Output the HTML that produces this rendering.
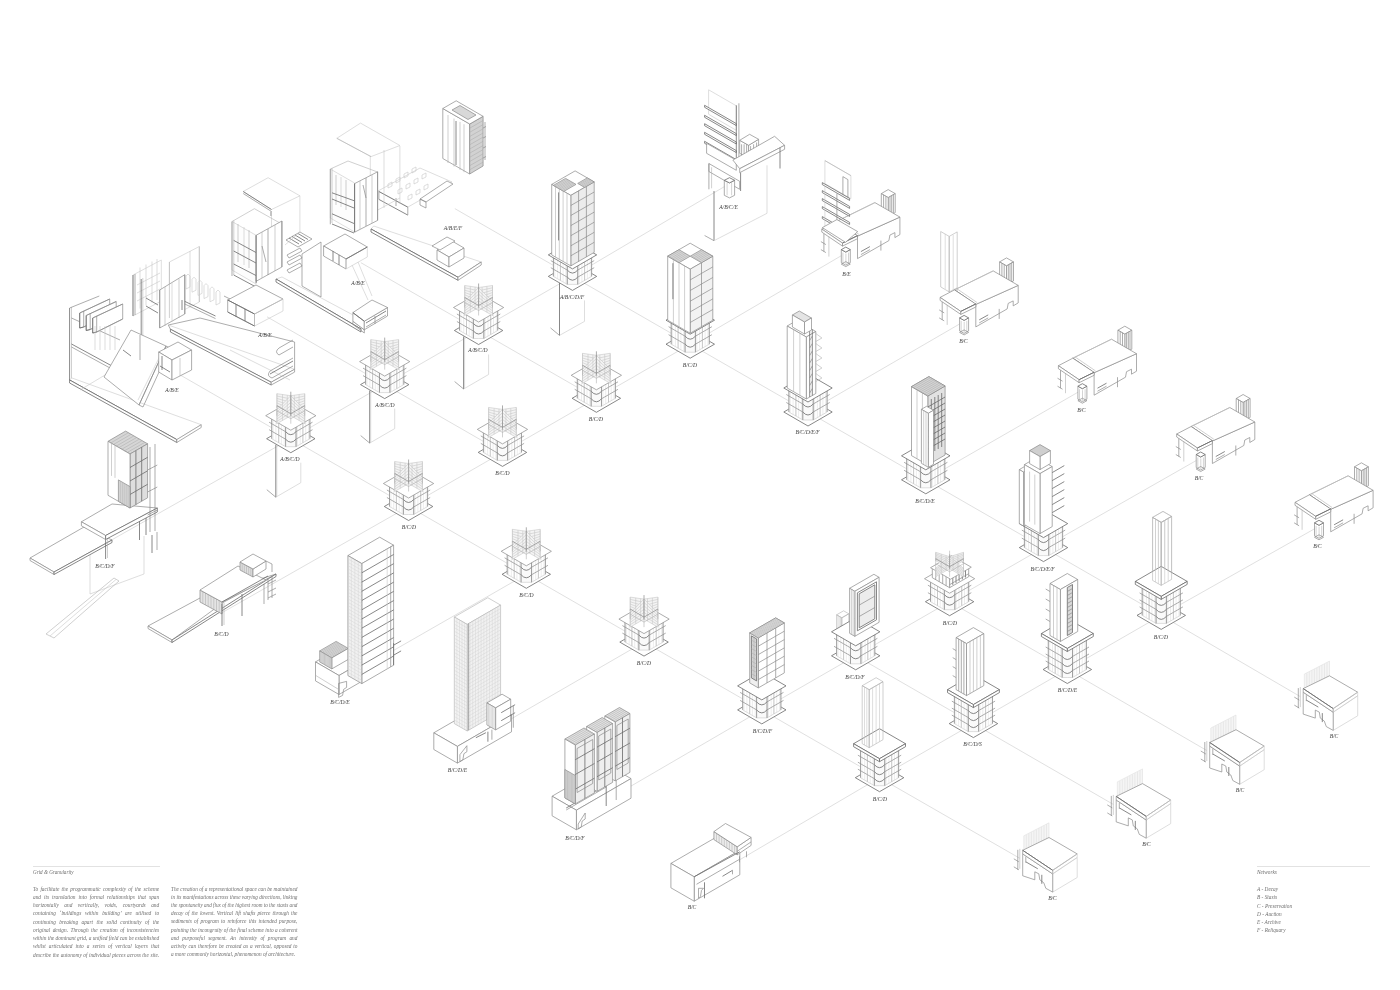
<!DOCTYPE html>
<html><head><meta charset="utf-8"><style>
html,body{margin:0;padding:0;background:#fff;width:1400px;height:990px;overflow:hidden;position:relative}
svg{position:absolute;left:0;top:0;filter:blur(0.35px)}
.g{stroke:#dcdcdc;stroke-width:0.9;fill:none}
.b{stroke:#8a8a8a;stroke-width:0.7;fill:#fff;stroke-linejoin:round}
.d{stroke:#6a6a6a;stroke-width:0.8;fill:#fff;stroke-linejoin:round}
.l{stroke:#b0b0b0;stroke-width:0.6;fill:none}
.ln{stroke:#8a8a8a;stroke-width:0.7;fill:none}
.lt{stroke:#c8c8c8;stroke-width:0.6;fill:none}
.lt2{stroke:#dadada;stroke-width:0.5;fill:none}
.hl{stroke:#d2d2d2;stroke-width:0.45;fill:none}
.wg{stroke:#c8c8c8;stroke-width:0.6;fill:#f4f4f4}
.h{stroke:#a8a8a8;stroke-width:0.5;fill:none}
.lb{font-family:"Liberation Serif",serif;font-style:italic;font-size:5.6px;fill:#3a3a3a;text-anchor:middle}
.t{position:absolute;filter:blur(0.25px);font-family:"Liberation Serif",serif;font-style:italic;line-height:7px;color:#6e6e6e;white-space:nowrap}
.rule{position:absolute;height:0;border-top:0.6px solid #e2e2e2}
</style></head><body>
<svg width="1400" height="990" viewBox="0 0 1400 990">
<line class="g" x1="454.8" y1="208.6" x2="572.5" y2="276.4"/>
<line class="g" x1="572.5" y1="276.4" x2="690.2" y2="344.2"/>
<line class="g" x1="690.2" y1="344.2" x2="808.0" y2="412.0"/>
<line class="g" x1="808.0" y1="412.0" x2="925.8" y2="479.8"/>
<line class="g" x1="925.8" y1="479.8" x2="1043.5" y2="547.6"/>
<line class="g" x1="1043.5" y1="547.6" x2="1161.2" y2="615.4"/>
<line class="g" x1="360.9" y1="262.7" x2="478.6" y2="330.5"/>
<line class="g" x1="267.0" y1="316.8" x2="384.7" y2="384.6"/>
<line class="g" x1="478.6" y1="330.5" x2="596.4" y2="398.3"/>
<line class="g" x1="384.7" y1="384.6" x2="502.5" y2="452.4"/>
<line class="g" x1="949.6" y1="601.7" x2="1067.3" y2="669.5"/>
<line class="g" x1="855.7" y1="655.8" x2="973.4" y2="723.6"/>
<line class="g" x1="173.1" y1="370.9" x2="290.8" y2="438.7"/>
<line class="g" x1="290.8" y1="438.7" x2="408.6" y2="506.5"/>
<line class="g" x1="408.6" y1="506.5" x2="526.3" y2="574.3"/>
<line class="g" x1="526.3" y1="574.3" x2="644.0" y2="642.1"/>
<line class="g" x1="644.0" y1="642.1" x2="761.8" y2="709.9"/>
<line class="g" x1="761.8" y1="709.9" x2="879.5" y2="777.7"/>
<line class="g" x1="879.5" y1="777.7" x2="1019.8" y2="858.3"/>
<line class="g" x1="973.4" y1="723.6" x2="1113.3" y2="804.4"/>
<line class="g" x1="1067.3" y1="669.5" x2="1206.8" y2="750.5"/>
<line class="g" x1="1161.2" y1="615.4" x2="1300.3" y2="696.6"/>
<line class="g" x1="103.0" y1="544.8" x2="290.8" y2="438.7"/>
<line class="g" x1="221.3" y1="613.1" x2="408.6" y2="506.5"/>
<line class="g" x1="339.6" y1="681.4" x2="526.3" y2="574.3"/>
<line class="g" x1="457.9" y1="749.7" x2="644.0" y2="642.1"/>
<line class="g" x1="576.2" y1="818.0" x2="761.8" y2="709.9"/>
<line class="g" x1="694.5" y1="886.3" x2="879.5" y2="777.7"/>
<line class="g" x1="290.8" y1="438.7" x2="572.5" y2="276.4"/>
<line class="g" x1="408.6" y1="506.5" x2="690.2" y2="344.2"/>
<line class="g" x1="761.8" y1="709.9" x2="1043.5" y2="547.6"/>
<line class="g" x1="879.5" y1="777.7" x2="1161.2" y2="615.4"/>
<line class="g" x1="572.5" y1="276.4" x2="726.6" y2="185.3"/>
<line class="g" x1="690.2" y1="344.2" x2="844.9" y2="253.6"/>
<line class="g" x1="808.0" y1="412.0" x2="963.2" y2="321.9"/>
<line class="g" x1="925.8" y1="479.8" x2="1081.5" y2="390.2"/>
<line class="g" x1="1043.5" y1="547.6" x2="1199.8" y2="458.5"/>
<line class="g" x1="1161.2" y1="615.4" x2="1318.1" y2="526.8"/>
<line class="lt" x1="300.8" y1="462.7" x2="300.8" y2="482.7"/>
<line class="lt" x1="300.8" y1="482.7" x2="275.8" y2="497.2"/>
<line class="d" x1="275.8" y1="444.7" x2="275.8" y2="497.2"/>
<line class="lt" x1="276.8" y1="444.7" x2="276.8" y2="496.2"/>
<line class="ln" x1="266.8" y1="489.7" x2="275.8" y2="497.2"/>
<polygon class="d" points="266.6,438.7 290.8,452.7 315.0,438.7 290.8,424.7"/>
<polygon class="lt" style="fill:#fff" points="271.7,438.7 285.6,446.7 285.6,423.7 271.7,415.7"/>
<polygon class="lt" style="fill:#fff" points="296.0,446.7 309.9,438.7 309.9,415.7 296.0,423.7"/>
<polygon class="lt" style="fill:#fafafa" points="285.6,446.7 290.8,446.7 296.0,446.7 296.0,423.7 290.8,423.7 285.6,423.7"/>
<line class="lt2" x1="273.1" y1="439.5" x2="273.1" y2="416.5"/>
<line class="lt2" x1="275.9" y1="441.1" x2="275.9" y2="418.1"/>
<line class="lt2" x1="278.7" y1="442.7" x2="278.7" y2="419.7"/>
<line class="lt2" x1="281.4" y1="444.3" x2="281.4" y2="421.3"/>
<line class="lt2" x1="284.2" y1="445.9" x2="284.2" y2="422.9"/>
<line class="lt2" x1="297.4" y1="445.9" x2="297.4" y2="422.9"/>
<line class="lt2" x1="300.2" y1="444.3" x2="300.2" y2="421.3"/>
<line class="lt2" x1="302.9" y1="442.7" x2="302.9" y2="419.7"/>
<line class="lt2" x1="305.7" y1="441.1" x2="305.7" y2="418.1"/>
<line class="lt2" x1="308.5" y1="439.5" x2="308.5" y2="416.5"/>
<line class="ln" x1="269.1" y1="429.7" x2="285.6" y2="439.2"/>
<line class="ln" x1="296.0" y1="439.2" x2="312.5" y2="429.7"/>
<path class="d" style="fill:none" d="M285.6,439.2 Q290.8,445.2 296.0,439.2"/>
<line class="ln" x1="269.1" y1="422.2" x2="285.6" y2="431.7"/>
<line class="ln" x1="296.0" y1="431.7" x2="312.5" y2="422.2"/>
<path class="d" style="fill:none" d="M285.6,431.7 Q290.8,437.7 296.0,431.7"/>
<line class="ln" x1="271.7" y1="438.7" x2="271.7" y2="415.7"/>
<line class="ln" x1="309.9" y1="438.7" x2="309.9" y2="415.7"/>
<line class="ln" x1="285.6" y1="446.7" x2="285.6" y2="423.7"/>
<line class="ln" x1="296.0" y1="446.7" x2="296.0" y2="423.7"/>
<line class="l" x1="278.7" y1="442.7" x2="278.7" y2="419.7"/>
<line class="l" x1="302.9" y1="442.7" x2="302.9" y2="419.7"/>
<polygon class="b" points="265.7,415.7 290.8,430.2 315.9,415.7 290.8,401.2"/>
<polygon class="wg" points="276.9,407.7 290.8,415.7 290.8,395.7 276.9,393.7"/>
<line class="lt" x1="276.9" y1="405.4" x2="290.8" y2="412.4"/>
<line class="lt" x1="276.9" y1="403.0" x2="290.8" y2="409.0"/>
<line class="lt" x1="276.9" y1="400.7" x2="290.8" y2="405.7"/>
<line class="lt" x1="276.9" y1="398.4" x2="290.8" y2="402.4"/>
<line class="lt" x1="276.9" y1="396.0" x2="290.8" y2="399.0"/>
<line class="lt" x1="276.9" y1="407.7" x2="276.9" y2="393.7"/>
<line class="lt" x1="282.5" y1="410.9" x2="282.5" y2="394.5"/>
<line class="lt" x1="287.3" y1="413.7" x2="287.3" y2="395.2"/>
<polygon class="wg" points="304.7,407.7 290.8,415.7 290.8,395.7 304.7,393.7"/>
<line class="lt" x1="304.7" y1="405.4" x2="290.8" y2="412.4"/>
<line class="lt" x1="304.7" y1="403.0" x2="290.8" y2="409.0"/>
<line class="lt" x1="304.7" y1="400.7" x2="290.8" y2="405.7"/>
<line class="lt" x1="304.7" y1="398.4" x2="290.8" y2="402.4"/>
<line class="lt" x1="304.7" y1="396.0" x2="290.8" y2="399.0"/>
<line class="lt" x1="304.7" y1="407.7" x2="304.7" y2="393.7"/>
<line class="lt" x1="299.1" y1="410.9" x2="299.1" y2="394.5"/>
<line class="lt" x1="294.3" y1="413.7" x2="294.3" y2="395.2"/>
<polygon class="wg" points="276.9,423.7 290.8,415.7 290.8,395.7 276.9,409.7"/>
<line class="lt" x1="276.9" y1="421.4" x2="290.8" y2="412.4"/>
<line class="lt" x1="276.9" y1="419.0" x2="290.8" y2="409.0"/>
<line class="lt" x1="276.9" y1="416.7" x2="290.8" y2="405.7"/>
<line class="lt" x1="276.9" y1="414.4" x2="290.8" y2="402.4"/>
<line class="lt" x1="276.9" y1="412.0" x2="290.8" y2="399.0"/>
<line class="lt" x1="276.9" y1="423.7" x2="276.9" y2="409.7"/>
<line class="lt" x1="282.5" y1="420.5" x2="282.5" y2="404.1"/>
<line class="lt" x1="287.3" y1="417.7" x2="287.3" y2="399.2"/>
<polygon class="wg" points="304.7,423.7 290.8,415.7 290.8,395.7 304.7,409.7"/>
<line class="lt" x1="304.7" y1="421.4" x2="290.8" y2="412.4"/>
<line class="lt" x1="304.7" y1="419.0" x2="290.8" y2="409.0"/>
<line class="lt" x1="304.7" y1="416.7" x2="290.8" y2="405.7"/>
<line class="lt" x1="304.7" y1="414.4" x2="290.8" y2="402.4"/>
<line class="lt" x1="304.7" y1="412.0" x2="290.8" y2="399.0"/>
<line class="lt" x1="304.7" y1="423.7" x2="304.7" y2="409.7"/>
<line class="lt" x1="299.1" y1="420.5" x2="299.1" y2="404.1"/>
<line class="lt" x1="294.3" y1="417.7" x2="294.3" y2="399.2"/>
<line class="ln" x1="290.8" y1="415.7" x2="290.8" y2="391.7"/>
<line class="l" x1="276.9" y1="415.7" x2="276.9" y2="405.7"/>
<line class="l" x1="290.8" y1="423.7" x2="290.8" y2="413.7"/>
<line class="l" x1="304.7" y1="415.7" x2="304.7" y2="405.7"/>
<line class="l" x1="290.8" y1="407.7" x2="290.8" y2="397.7"/>
<line class="ln" x1="276.9" y1="405.7" x2="290.8" y2="413.7"/>
<line class="ln" x1="290.8" y1="413.7" x2="304.7" y2="405.7"/>
<line class="l" x1="276.9" y1="410.7" x2="290.8" y2="418.7"/>
<line class="l" x1="290.8" y1="418.7" x2="304.7" y2="410.7"/>
<line class="lt" x1="394.7" y1="408.6" x2="394.7" y2="428.6"/>
<line class="lt" x1="394.7" y1="428.6" x2="369.7" y2="443.1"/>
<line class="d" x1="369.7" y1="390.6" x2="369.7" y2="443.1"/>
<line class="lt" x1="370.7" y1="390.6" x2="370.7" y2="442.1"/>
<line class="ln" x1="360.7" y1="435.6" x2="369.7" y2="443.1"/>
<polygon class="d" points="360.5,384.6 384.7,398.6 408.9,384.6 384.7,370.6"/>
<polygon class="lt" style="fill:#fff" points="365.6,384.6 379.5,392.6 379.5,369.6 365.6,361.6"/>
<polygon class="lt" style="fill:#fff" points="389.9,392.6 403.8,384.6 403.8,361.6 389.9,369.6"/>
<polygon class="lt" style="fill:#fafafa" points="379.5,392.6 384.7,392.6 389.9,392.6 389.9,369.6 384.7,369.6 379.5,369.6"/>
<line class="lt2" x1="367.0" y1="385.4" x2="367.0" y2="362.4"/>
<line class="lt2" x1="369.8" y1="387.0" x2="369.8" y2="364.0"/>
<line class="lt2" x1="372.6" y1="388.6" x2="372.6" y2="365.6"/>
<line class="lt2" x1="375.3" y1="390.2" x2="375.3" y2="367.2"/>
<line class="lt2" x1="378.1" y1="391.8" x2="378.1" y2="368.8"/>
<line class="lt2" x1="391.3" y1="391.8" x2="391.3" y2="368.8"/>
<line class="lt2" x1="394.1" y1="390.2" x2="394.1" y2="367.2"/>
<line class="lt2" x1="396.8" y1="388.6" x2="396.8" y2="365.6"/>
<line class="lt2" x1="399.6" y1="387.0" x2="399.6" y2="364.0"/>
<line class="lt2" x1="402.4" y1="385.4" x2="402.4" y2="362.4"/>
<line class="ln" x1="363.0" y1="375.6" x2="379.5" y2="385.1"/>
<line class="ln" x1="389.9" y1="385.1" x2="406.4" y2="375.6"/>
<path class="d" style="fill:none" d="M379.5,385.1 Q384.7,391.1 389.9,385.1"/>
<line class="ln" x1="363.0" y1="368.1" x2="379.5" y2="377.6"/>
<line class="ln" x1="389.9" y1="377.6" x2="406.4" y2="368.1"/>
<path class="d" style="fill:none" d="M379.5,377.6 Q384.7,383.6 389.9,377.6"/>
<line class="ln" x1="365.6" y1="384.6" x2="365.6" y2="361.6"/>
<line class="ln" x1="403.8" y1="384.6" x2="403.8" y2="361.6"/>
<line class="ln" x1="379.5" y1="392.6" x2="379.5" y2="369.6"/>
<line class="ln" x1="389.9" y1="392.6" x2="389.9" y2="369.6"/>
<line class="l" x1="372.6" y1="388.6" x2="372.6" y2="365.6"/>
<line class="l" x1="396.8" y1="388.6" x2="396.8" y2="365.6"/>
<polygon class="b" points="359.6,361.6 384.7,376.1 409.8,361.6 384.7,347.1"/>
<polygon class="wg" points="370.8,353.6 384.7,361.6 384.7,341.6 370.8,339.6"/>
<line class="lt" x1="370.8" y1="351.3" x2="384.7" y2="358.3"/>
<line class="lt" x1="370.8" y1="348.9" x2="384.7" y2="354.9"/>
<line class="lt" x1="370.8" y1="346.6" x2="384.7" y2="351.6"/>
<line class="lt" x1="370.8" y1="344.3" x2="384.7" y2="348.3"/>
<line class="lt" x1="370.8" y1="341.9" x2="384.7" y2="344.9"/>
<line class="lt" x1="370.8" y1="353.6" x2="370.8" y2="339.6"/>
<line class="lt" x1="376.4" y1="356.8" x2="376.4" y2="340.4"/>
<line class="lt" x1="381.2" y1="359.6" x2="381.2" y2="341.1"/>
<polygon class="wg" points="398.6,353.6 384.7,361.6 384.7,341.6 398.6,339.6"/>
<line class="lt" x1="398.6" y1="351.3" x2="384.7" y2="358.3"/>
<line class="lt" x1="398.6" y1="348.9" x2="384.7" y2="354.9"/>
<line class="lt" x1="398.6" y1="346.6" x2="384.7" y2="351.6"/>
<line class="lt" x1="398.6" y1="344.3" x2="384.7" y2="348.3"/>
<line class="lt" x1="398.6" y1="341.9" x2="384.7" y2="344.9"/>
<line class="lt" x1="398.6" y1="353.6" x2="398.6" y2="339.6"/>
<line class="lt" x1="393.0" y1="356.8" x2="393.0" y2="340.4"/>
<line class="lt" x1="388.2" y1="359.6" x2="388.2" y2="341.1"/>
<polygon class="wg" points="370.8,369.6 384.7,361.6 384.7,341.6 370.8,355.6"/>
<line class="lt" x1="370.8" y1="367.3" x2="384.7" y2="358.3"/>
<line class="lt" x1="370.8" y1="364.9" x2="384.7" y2="354.9"/>
<line class="lt" x1="370.8" y1="362.6" x2="384.7" y2="351.6"/>
<line class="lt" x1="370.8" y1="360.3" x2="384.7" y2="348.3"/>
<line class="lt" x1="370.8" y1="357.9" x2="384.7" y2="344.9"/>
<line class="lt" x1="370.8" y1="369.6" x2="370.8" y2="355.6"/>
<line class="lt" x1="376.4" y1="366.4" x2="376.4" y2="350.0"/>
<line class="lt" x1="381.2" y1="363.6" x2="381.2" y2="345.1"/>
<polygon class="wg" points="398.6,369.6 384.7,361.6 384.7,341.6 398.6,355.6"/>
<line class="lt" x1="398.6" y1="367.3" x2="384.7" y2="358.3"/>
<line class="lt" x1="398.6" y1="364.9" x2="384.7" y2="354.9"/>
<line class="lt" x1="398.6" y1="362.6" x2="384.7" y2="351.6"/>
<line class="lt" x1="398.6" y1="360.3" x2="384.7" y2="348.3"/>
<line class="lt" x1="398.6" y1="357.9" x2="384.7" y2="344.9"/>
<line class="lt" x1="398.6" y1="369.6" x2="398.6" y2="355.6"/>
<line class="lt" x1="393.0" y1="366.4" x2="393.0" y2="350.0"/>
<line class="lt" x1="388.2" y1="363.6" x2="388.2" y2="345.1"/>
<line class="ln" x1="384.7" y1="361.6" x2="384.7" y2="337.6"/>
<line class="l" x1="370.8" y1="361.6" x2="370.8" y2="351.6"/>
<line class="l" x1="384.7" y1="369.6" x2="384.7" y2="359.6"/>
<line class="l" x1="398.6" y1="361.6" x2="398.6" y2="351.6"/>
<line class="l" x1="384.7" y1="353.6" x2="384.7" y2="343.6"/>
<line class="ln" x1="370.8" y1="351.6" x2="384.7" y2="359.6"/>
<line class="ln" x1="384.7" y1="359.6" x2="398.6" y2="351.6"/>
<line class="l" x1="370.8" y1="356.6" x2="384.7" y2="364.6"/>
<line class="l" x1="384.7" y1="364.6" x2="398.6" y2="356.6"/>
<line class="lt" x1="488.6" y1="354.5" x2="488.6" y2="374.5"/>
<line class="lt" x1="488.6" y1="374.5" x2="463.6" y2="389.0"/>
<line class="d" x1="463.6" y1="336.5" x2="463.6" y2="389.0"/>
<line class="lt" x1="464.6" y1="336.5" x2="464.6" y2="388.0"/>
<line class="ln" x1="454.6" y1="381.5" x2="463.6" y2="389.0"/>
<polygon class="d" points="454.4,330.5 478.6,344.5 502.8,330.5 478.6,316.5"/>
<polygon class="lt" style="fill:#fff" points="459.5,330.5 473.4,338.5 473.4,315.5 459.5,307.5"/>
<polygon class="lt" style="fill:#fff" points="483.8,338.5 497.7,330.5 497.7,307.5 483.8,315.5"/>
<polygon class="lt" style="fill:#fafafa" points="473.4,338.5 478.6,338.5 483.8,338.5 483.8,315.5 478.6,315.5 473.4,315.5"/>
<line class="lt2" x1="460.9" y1="331.3" x2="460.9" y2="308.3"/>
<line class="lt2" x1="463.7" y1="332.9" x2="463.7" y2="309.9"/>
<line class="lt2" x1="466.5" y1="334.5" x2="466.5" y2="311.5"/>
<line class="lt2" x1="469.2" y1="336.1" x2="469.2" y2="313.1"/>
<line class="lt2" x1="472.0" y1="337.7" x2="472.0" y2="314.7"/>
<line class="lt2" x1="485.2" y1="337.7" x2="485.2" y2="314.7"/>
<line class="lt2" x1="488.0" y1="336.1" x2="488.0" y2="313.1"/>
<line class="lt2" x1="490.7" y1="334.5" x2="490.7" y2="311.5"/>
<line class="lt2" x1="493.5" y1="332.9" x2="493.5" y2="309.9"/>
<line class="lt2" x1="496.3" y1="331.3" x2="496.3" y2="308.3"/>
<line class="ln" x1="456.9" y1="321.5" x2="473.4" y2="331.0"/>
<line class="ln" x1="483.8" y1="331.0" x2="500.3" y2="321.5"/>
<path class="d" style="fill:none" d="M473.4,331.0 Q478.6,337.0 483.8,331.0"/>
<line class="ln" x1="456.9" y1="314.0" x2="473.4" y2="323.5"/>
<line class="ln" x1="483.8" y1="323.5" x2="500.3" y2="314.0"/>
<path class="d" style="fill:none" d="M473.4,323.5 Q478.6,329.5 483.8,323.5"/>
<line class="ln" x1="459.5" y1="330.5" x2="459.5" y2="307.5"/>
<line class="ln" x1="497.7" y1="330.5" x2="497.7" y2="307.5"/>
<line class="ln" x1="473.4" y1="338.5" x2="473.4" y2="315.5"/>
<line class="ln" x1="483.8" y1="338.5" x2="483.8" y2="315.5"/>
<line class="l" x1="466.5" y1="334.5" x2="466.5" y2="311.5"/>
<line class="l" x1="490.7" y1="334.5" x2="490.7" y2="311.5"/>
<polygon class="b" points="453.5,307.5 478.6,322.0 503.7,307.5 478.6,293.0"/>
<polygon class="wg" points="464.7,299.5 478.6,307.5 478.6,287.5 464.7,285.5"/>
<line class="lt" x1="464.7" y1="297.2" x2="478.6" y2="304.2"/>
<line class="lt" x1="464.7" y1="294.8" x2="478.6" y2="300.8"/>
<line class="lt" x1="464.7" y1="292.5" x2="478.6" y2="297.5"/>
<line class="lt" x1="464.7" y1="290.2" x2="478.6" y2="294.2"/>
<line class="lt" x1="464.7" y1="287.8" x2="478.6" y2="290.8"/>
<line class="lt" x1="464.7" y1="299.5" x2="464.7" y2="285.5"/>
<line class="lt" x1="470.3" y1="302.7" x2="470.3" y2="286.3"/>
<line class="lt" x1="475.1" y1="305.5" x2="475.1" y2="287.0"/>
<polygon class="wg" points="492.5,299.5 478.6,307.5 478.6,287.5 492.5,285.5"/>
<line class="lt" x1="492.5" y1="297.2" x2="478.6" y2="304.2"/>
<line class="lt" x1="492.5" y1="294.8" x2="478.6" y2="300.8"/>
<line class="lt" x1="492.5" y1="292.5" x2="478.6" y2="297.5"/>
<line class="lt" x1="492.5" y1="290.2" x2="478.6" y2="294.2"/>
<line class="lt" x1="492.5" y1="287.8" x2="478.6" y2="290.8"/>
<line class="lt" x1="492.5" y1="299.5" x2="492.5" y2="285.5"/>
<line class="lt" x1="486.9" y1="302.7" x2="486.9" y2="286.3"/>
<line class="lt" x1="482.1" y1="305.5" x2="482.1" y2="287.0"/>
<polygon class="wg" points="464.7,315.5 478.6,307.5 478.6,287.5 464.7,301.5"/>
<line class="lt" x1="464.7" y1="313.2" x2="478.6" y2="304.2"/>
<line class="lt" x1="464.7" y1="310.8" x2="478.6" y2="300.8"/>
<line class="lt" x1="464.7" y1="308.5" x2="478.6" y2="297.5"/>
<line class="lt" x1="464.7" y1="306.2" x2="478.6" y2="294.2"/>
<line class="lt" x1="464.7" y1="303.8" x2="478.6" y2="290.8"/>
<line class="lt" x1="464.7" y1="315.5" x2="464.7" y2="301.5"/>
<line class="lt" x1="470.3" y1="312.3" x2="470.3" y2="295.9"/>
<line class="lt" x1="475.1" y1="309.5" x2="475.1" y2="291.0"/>
<polygon class="wg" points="492.5,315.5 478.6,307.5 478.6,287.5 492.5,301.5"/>
<line class="lt" x1="492.5" y1="313.2" x2="478.6" y2="304.2"/>
<line class="lt" x1="492.5" y1="310.8" x2="478.6" y2="300.8"/>
<line class="lt" x1="492.5" y1="308.5" x2="478.6" y2="297.5"/>
<line class="lt" x1="492.5" y1="306.2" x2="478.6" y2="294.2"/>
<line class="lt" x1="492.5" y1="303.8" x2="478.6" y2="290.8"/>
<line class="lt" x1="492.5" y1="315.5" x2="492.5" y2="301.5"/>
<line class="lt" x1="486.9" y1="312.3" x2="486.9" y2="295.9"/>
<line class="lt" x1="482.1" y1="309.5" x2="482.1" y2="291.0"/>
<line class="ln" x1="478.6" y1="307.5" x2="478.6" y2="283.5"/>
<line class="l" x1="464.7" y1="307.5" x2="464.7" y2="297.5"/>
<line class="l" x1="478.6" y1="315.5" x2="478.6" y2="305.5"/>
<line class="l" x1="492.5" y1="307.5" x2="492.5" y2="297.5"/>
<line class="l" x1="478.6" y1="299.5" x2="478.6" y2="289.5"/>
<line class="ln" x1="464.7" y1="297.5" x2="478.6" y2="305.5"/>
<line class="ln" x1="478.6" y1="305.5" x2="492.5" y2="297.5"/>
<line class="l" x1="464.7" y1="302.5" x2="478.6" y2="310.5"/>
<line class="l" x1="478.6" y1="310.5" x2="492.5" y2="302.5"/>
<polygon class="d" points="384.3,506.5 408.6,520.5 432.8,506.5 408.6,492.5"/>
<polygon class="lt" style="fill:#fff" points="389.5,506.5 403.4,514.5 403.4,491.5 389.5,483.5"/>
<polygon class="lt" style="fill:#fff" points="413.7,514.5 427.6,506.5 427.6,483.5 413.7,491.5"/>
<polygon class="lt" style="fill:#fafafa" points="403.4,514.5 408.6,514.5 413.7,514.5 413.7,491.5 408.6,491.5 403.4,491.5"/>
<line class="lt2" x1="390.9" y1="507.3" x2="390.9" y2="484.3"/>
<line class="lt2" x1="393.7" y1="508.9" x2="393.7" y2="485.9"/>
<line class="lt2" x1="396.4" y1="510.5" x2="396.4" y2="487.5"/>
<line class="lt2" x1="399.2" y1="512.1" x2="399.2" y2="489.1"/>
<line class="lt2" x1="402.0" y1="513.7" x2="402.0" y2="490.7"/>
<line class="lt2" x1="415.1" y1="513.7" x2="415.1" y2="490.7"/>
<line class="lt2" x1="417.9" y1="512.1" x2="417.9" y2="489.1"/>
<line class="lt2" x1="420.7" y1="510.5" x2="420.7" y2="487.5"/>
<line class="lt2" x1="423.4" y1="508.9" x2="423.4" y2="485.9"/>
<line class="lt2" x1="426.2" y1="507.3" x2="426.2" y2="484.3"/>
<line class="ln" x1="386.9" y1="497.5" x2="403.4" y2="507.0"/>
<line class="ln" x1="413.7" y1="507.0" x2="430.2" y2="497.5"/>
<path class="d" style="fill:none" d="M403.4,507.0 Q408.6,513.0 413.7,507.0"/>
<line class="ln" x1="386.9" y1="490.0" x2="403.4" y2="499.5"/>
<line class="ln" x1="413.7" y1="499.5" x2="430.2" y2="490.0"/>
<path class="d" style="fill:none" d="M403.4,499.5 Q408.6,505.5 413.7,499.5"/>
<line class="ln" x1="389.5" y1="506.5" x2="389.5" y2="483.5"/>
<line class="ln" x1="427.6" y1="506.5" x2="427.6" y2="483.5"/>
<line class="ln" x1="403.4" y1="514.5" x2="403.4" y2="491.5"/>
<line class="ln" x1="413.7" y1="514.5" x2="413.7" y2="491.5"/>
<line class="l" x1="396.4" y1="510.5" x2="396.4" y2="487.5"/>
<line class="l" x1="420.7" y1="510.5" x2="420.7" y2="487.5"/>
<polygon class="b" points="383.4,483.5 408.6,498.0 433.7,483.5 408.6,469.0"/>
<polygon class="wg" points="394.7,475.5 408.6,483.5 408.6,463.5 394.7,461.5"/>
<line class="lt" x1="394.7" y1="473.2" x2="408.6" y2="480.2"/>
<line class="lt" x1="394.7" y1="470.8" x2="408.6" y2="476.8"/>
<line class="lt" x1="394.7" y1="468.5" x2="408.6" y2="473.5"/>
<line class="lt" x1="394.7" y1="466.2" x2="408.6" y2="470.2"/>
<line class="lt" x1="394.7" y1="463.8" x2="408.6" y2="466.8"/>
<line class="lt" x1="394.7" y1="475.5" x2="394.7" y2="461.5"/>
<line class="lt" x1="400.2" y1="478.7" x2="400.2" y2="462.3"/>
<line class="lt" x1="405.1" y1="481.5" x2="405.1" y2="463.0"/>
<polygon class="wg" points="422.4,475.5 408.6,483.5 408.6,463.5 422.4,461.5"/>
<line class="lt" x1="422.4" y1="473.2" x2="408.6" y2="480.2"/>
<line class="lt" x1="422.4" y1="470.8" x2="408.6" y2="476.8"/>
<line class="lt" x1="422.4" y1="468.5" x2="408.6" y2="473.5"/>
<line class="lt" x1="422.4" y1="466.2" x2="408.6" y2="470.2"/>
<line class="lt" x1="422.4" y1="463.8" x2="408.6" y2="466.8"/>
<line class="lt" x1="422.4" y1="475.5" x2="422.4" y2="461.5"/>
<line class="lt" x1="416.9" y1="478.7" x2="416.9" y2="462.3"/>
<line class="lt" x1="412.0" y1="481.5" x2="412.0" y2="463.0"/>
<polygon class="wg" points="394.7,491.5 408.6,483.5 408.6,463.5 394.7,477.5"/>
<line class="lt" x1="394.7" y1="489.2" x2="408.6" y2="480.2"/>
<line class="lt" x1="394.7" y1="486.8" x2="408.6" y2="476.8"/>
<line class="lt" x1="394.7" y1="484.5" x2="408.6" y2="473.5"/>
<line class="lt" x1="394.7" y1="482.2" x2="408.6" y2="470.2"/>
<line class="lt" x1="394.7" y1="479.8" x2="408.6" y2="466.8"/>
<line class="lt" x1="394.7" y1="491.5" x2="394.7" y2="477.5"/>
<line class="lt" x1="400.2" y1="488.3" x2="400.2" y2="471.9"/>
<line class="lt" x1="405.1" y1="485.5" x2="405.1" y2="467.0"/>
<polygon class="wg" points="422.4,491.5 408.6,483.5 408.6,463.5 422.4,477.5"/>
<line class="lt" x1="422.4" y1="489.2" x2="408.6" y2="480.2"/>
<line class="lt" x1="422.4" y1="486.8" x2="408.6" y2="476.8"/>
<line class="lt" x1="422.4" y1="484.5" x2="408.6" y2="473.5"/>
<line class="lt" x1="422.4" y1="482.2" x2="408.6" y2="470.2"/>
<line class="lt" x1="422.4" y1="479.8" x2="408.6" y2="466.8"/>
<line class="lt" x1="422.4" y1="491.5" x2="422.4" y2="477.5"/>
<line class="lt" x1="416.9" y1="488.3" x2="416.9" y2="471.9"/>
<line class="lt" x1="412.0" y1="485.5" x2="412.0" y2="467.0"/>
<line class="ln" x1="408.6" y1="483.5" x2="408.6" y2="459.5"/>
<line class="l" x1="394.7" y1="483.5" x2="394.7" y2="473.5"/>
<line class="l" x1="408.6" y1="491.5" x2="408.6" y2="481.5"/>
<line class="l" x1="422.4" y1="483.5" x2="422.4" y2="473.5"/>
<line class="l" x1="408.6" y1="475.5" x2="408.6" y2="465.5"/>
<line class="ln" x1="394.7" y1="473.5" x2="408.6" y2="481.5"/>
<line class="ln" x1="408.6" y1="481.5" x2="422.4" y2="473.5"/>
<line class="l" x1="394.7" y1="478.5" x2="408.6" y2="486.5"/>
<line class="l" x1="408.6" y1="486.5" x2="422.4" y2="478.5"/>
<polygon class="d" points="478.2,452.4 502.5,466.4 526.7,452.4 502.5,438.4"/>
<polygon class="lt" style="fill:#fff" points="483.4,452.4 497.3,460.4 497.3,437.4 483.4,429.4"/>
<polygon class="lt" style="fill:#fff" points="507.6,460.4 521.5,452.4 521.5,429.4 507.6,437.4"/>
<polygon class="lt" style="fill:#fafafa" points="497.3,460.4 502.5,460.4 507.6,460.4 507.6,437.4 502.5,437.4 497.3,437.4"/>
<line class="lt2" x1="484.8" y1="453.2" x2="484.8" y2="430.2"/>
<line class="lt2" x1="487.6" y1="454.8" x2="487.6" y2="431.8"/>
<line class="lt2" x1="490.3" y1="456.4" x2="490.3" y2="433.4"/>
<line class="lt2" x1="493.1" y1="458.0" x2="493.1" y2="435.0"/>
<line class="lt2" x1="495.9" y1="459.6" x2="495.9" y2="436.6"/>
<line class="lt2" x1="509.0" y1="459.6" x2="509.0" y2="436.6"/>
<line class="lt2" x1="511.8" y1="458.0" x2="511.8" y2="435.0"/>
<line class="lt2" x1="514.6" y1="456.4" x2="514.6" y2="433.4"/>
<line class="lt2" x1="517.3" y1="454.8" x2="517.3" y2="431.8"/>
<line class="lt2" x1="520.1" y1="453.2" x2="520.1" y2="430.2"/>
<line class="ln" x1="480.8" y1="443.4" x2="497.3" y2="452.9"/>
<line class="ln" x1="507.6" y1="452.9" x2="524.1" y2="443.4"/>
<path class="d" style="fill:none" d="M497.3,452.9 Q502.5,458.9 507.6,452.9"/>
<line class="ln" x1="480.8" y1="435.9" x2="497.3" y2="445.4"/>
<line class="ln" x1="507.6" y1="445.4" x2="524.1" y2="435.9"/>
<path class="d" style="fill:none" d="M497.3,445.4 Q502.5,451.4 507.6,445.4"/>
<line class="ln" x1="483.4" y1="452.4" x2="483.4" y2="429.4"/>
<line class="ln" x1="521.5" y1="452.4" x2="521.5" y2="429.4"/>
<line class="ln" x1="497.3" y1="460.4" x2="497.3" y2="437.4"/>
<line class="ln" x1="507.6" y1="460.4" x2="507.6" y2="437.4"/>
<line class="l" x1="490.3" y1="456.4" x2="490.3" y2="433.4"/>
<line class="l" x1="514.6" y1="456.4" x2="514.6" y2="433.4"/>
<polygon class="b" points="477.3,429.4 502.5,443.9 527.6,429.4 502.5,414.9"/>
<polygon class="wg" points="488.6,421.4 502.5,429.4 502.5,409.4 488.6,407.4"/>
<line class="lt" x1="488.6" y1="419.1" x2="502.5" y2="426.1"/>
<line class="lt" x1="488.6" y1="416.7" x2="502.5" y2="422.7"/>
<line class="lt" x1="488.6" y1="414.4" x2="502.5" y2="419.4"/>
<line class="lt" x1="488.6" y1="412.1" x2="502.5" y2="416.1"/>
<line class="lt" x1="488.6" y1="409.7" x2="502.5" y2="412.7"/>
<line class="lt" x1="488.6" y1="421.4" x2="488.6" y2="407.4"/>
<line class="lt" x1="494.1" y1="424.6" x2="494.1" y2="408.2"/>
<line class="lt" x1="499.0" y1="427.4" x2="499.0" y2="408.9"/>
<polygon class="wg" points="516.3,421.4 502.5,429.4 502.5,409.4 516.3,407.4"/>
<line class="lt" x1="516.3" y1="419.1" x2="502.5" y2="426.1"/>
<line class="lt" x1="516.3" y1="416.7" x2="502.5" y2="422.7"/>
<line class="lt" x1="516.3" y1="414.4" x2="502.5" y2="419.4"/>
<line class="lt" x1="516.3" y1="412.1" x2="502.5" y2="416.1"/>
<line class="lt" x1="516.3" y1="409.7" x2="502.5" y2="412.7"/>
<line class="lt" x1="516.3" y1="421.4" x2="516.3" y2="407.4"/>
<line class="lt" x1="510.8" y1="424.6" x2="510.8" y2="408.2"/>
<line class="lt" x1="505.9" y1="427.4" x2="505.9" y2="408.9"/>
<polygon class="wg" points="488.6,437.4 502.5,429.4 502.5,409.4 488.6,423.4"/>
<line class="lt" x1="488.6" y1="435.1" x2="502.5" y2="426.1"/>
<line class="lt" x1="488.6" y1="432.7" x2="502.5" y2="422.7"/>
<line class="lt" x1="488.6" y1="430.4" x2="502.5" y2="419.4"/>
<line class="lt" x1="488.6" y1="428.1" x2="502.5" y2="416.1"/>
<line class="lt" x1="488.6" y1="425.7" x2="502.5" y2="412.7"/>
<line class="lt" x1="488.6" y1="437.4" x2="488.6" y2="423.4"/>
<line class="lt" x1="494.1" y1="434.2" x2="494.1" y2="417.8"/>
<line class="lt" x1="499.0" y1="431.4" x2="499.0" y2="412.9"/>
<polygon class="wg" points="516.3,437.4 502.5,429.4 502.5,409.4 516.3,423.4"/>
<line class="lt" x1="516.3" y1="435.1" x2="502.5" y2="426.1"/>
<line class="lt" x1="516.3" y1="432.7" x2="502.5" y2="422.7"/>
<line class="lt" x1="516.3" y1="430.4" x2="502.5" y2="419.4"/>
<line class="lt" x1="516.3" y1="428.1" x2="502.5" y2="416.1"/>
<line class="lt" x1="516.3" y1="425.7" x2="502.5" y2="412.7"/>
<line class="lt" x1="516.3" y1="437.4" x2="516.3" y2="423.4"/>
<line class="lt" x1="510.8" y1="434.2" x2="510.8" y2="417.8"/>
<line class="lt" x1="505.9" y1="431.4" x2="505.9" y2="412.9"/>
<line class="ln" x1="502.5" y1="429.4" x2="502.5" y2="405.4"/>
<line class="l" x1="488.6" y1="429.4" x2="488.6" y2="419.4"/>
<line class="l" x1="502.5" y1="437.4" x2="502.5" y2="427.4"/>
<line class="l" x1="516.3" y1="429.4" x2="516.3" y2="419.4"/>
<line class="l" x1="502.5" y1="421.4" x2="502.5" y2="411.4"/>
<line class="ln" x1="488.6" y1="419.4" x2="502.5" y2="427.4"/>
<line class="ln" x1="502.5" y1="427.4" x2="516.3" y2="419.4"/>
<line class="l" x1="488.6" y1="424.4" x2="502.5" y2="432.4"/>
<line class="l" x1="502.5" y1="432.4" x2="516.3" y2="424.4"/>
<polygon class="d" points="572.1,398.3 596.4,412.3 620.6,398.3 596.4,384.3"/>
<polygon class="lt" style="fill:#fff" points="577.3,398.3 591.2,406.3 591.2,383.3 577.3,375.3"/>
<polygon class="lt" style="fill:#fff" points="601.5,406.3 615.4,398.3 615.4,375.3 601.5,383.3"/>
<polygon class="lt" style="fill:#fafafa" points="591.2,406.3 596.4,406.3 601.5,406.3 601.5,383.3 596.4,383.3 591.2,383.3"/>
<line class="lt2" x1="578.7" y1="399.1" x2="578.7" y2="376.1"/>
<line class="lt2" x1="581.5" y1="400.7" x2="581.5" y2="377.7"/>
<line class="lt2" x1="584.2" y1="402.3" x2="584.2" y2="379.3"/>
<line class="lt2" x1="587.0" y1="403.9" x2="587.0" y2="380.9"/>
<line class="lt2" x1="589.8" y1="405.5" x2="589.8" y2="382.5"/>
<line class="lt2" x1="602.9" y1="405.5" x2="602.9" y2="382.5"/>
<line class="lt2" x1="605.7" y1="403.9" x2="605.7" y2="380.9"/>
<line class="lt2" x1="608.5" y1="402.3" x2="608.5" y2="379.3"/>
<line class="lt2" x1="611.2" y1="400.7" x2="611.2" y2="377.7"/>
<line class="lt2" x1="614.0" y1="399.1" x2="614.0" y2="376.1"/>
<line class="ln" x1="574.7" y1="389.3" x2="591.2" y2="398.8"/>
<line class="ln" x1="601.5" y1="398.8" x2="618.0" y2="389.3"/>
<path class="d" style="fill:none" d="M591.2,398.8 Q596.4,404.8 601.5,398.8"/>
<line class="ln" x1="574.7" y1="381.8" x2="591.2" y2="391.3"/>
<line class="ln" x1="601.5" y1="391.3" x2="618.0" y2="381.8"/>
<path class="d" style="fill:none" d="M591.2,391.3 Q596.4,397.3 601.5,391.3"/>
<line class="ln" x1="577.3" y1="398.3" x2="577.3" y2="375.3"/>
<line class="ln" x1="615.4" y1="398.3" x2="615.4" y2="375.3"/>
<line class="ln" x1="591.2" y1="406.3" x2="591.2" y2="383.3"/>
<line class="ln" x1="601.5" y1="406.3" x2="601.5" y2="383.3"/>
<line class="l" x1="584.2" y1="402.3" x2="584.2" y2="379.3"/>
<line class="l" x1="608.5" y1="402.3" x2="608.5" y2="379.3"/>
<polygon class="b" points="571.2,375.3 596.4,389.8 621.5,375.3 596.4,360.8"/>
<polygon class="wg" points="582.5,367.3 596.4,375.3 596.4,355.3 582.5,353.3"/>
<line class="lt" x1="582.5" y1="365.0" x2="596.4" y2="372.0"/>
<line class="lt" x1="582.5" y1="362.6" x2="596.4" y2="368.6"/>
<line class="lt" x1="582.5" y1="360.3" x2="596.4" y2="365.3"/>
<line class="lt" x1="582.5" y1="358.0" x2="596.4" y2="362.0"/>
<line class="lt" x1="582.5" y1="355.6" x2="596.4" y2="358.6"/>
<line class="lt" x1="582.5" y1="367.3" x2="582.5" y2="353.3"/>
<line class="lt" x1="588.0" y1="370.5" x2="588.0" y2="354.1"/>
<line class="lt" x1="592.9" y1="373.3" x2="592.9" y2="354.8"/>
<polygon class="wg" points="610.2,367.3 596.4,375.3 596.4,355.3 610.2,353.3"/>
<line class="lt" x1="610.2" y1="365.0" x2="596.4" y2="372.0"/>
<line class="lt" x1="610.2" y1="362.6" x2="596.4" y2="368.6"/>
<line class="lt" x1="610.2" y1="360.3" x2="596.4" y2="365.3"/>
<line class="lt" x1="610.2" y1="358.0" x2="596.4" y2="362.0"/>
<line class="lt" x1="610.2" y1="355.6" x2="596.4" y2="358.6"/>
<line class="lt" x1="610.2" y1="367.3" x2="610.2" y2="353.3"/>
<line class="lt" x1="604.7" y1="370.5" x2="604.7" y2="354.1"/>
<line class="lt" x1="599.8" y1="373.3" x2="599.8" y2="354.8"/>
<polygon class="wg" points="582.5,383.3 596.4,375.3 596.4,355.3 582.5,369.3"/>
<line class="lt" x1="582.5" y1="381.0" x2="596.4" y2="372.0"/>
<line class="lt" x1="582.5" y1="378.6" x2="596.4" y2="368.6"/>
<line class="lt" x1="582.5" y1="376.3" x2="596.4" y2="365.3"/>
<line class="lt" x1="582.5" y1="374.0" x2="596.4" y2="362.0"/>
<line class="lt" x1="582.5" y1="371.6" x2="596.4" y2="358.6"/>
<line class="lt" x1="582.5" y1="383.3" x2="582.5" y2="369.3"/>
<line class="lt" x1="588.0" y1="380.1" x2="588.0" y2="363.7"/>
<line class="lt" x1="592.9" y1="377.3" x2="592.9" y2="358.8"/>
<polygon class="wg" points="610.2,383.3 596.4,375.3 596.4,355.3 610.2,369.3"/>
<line class="lt" x1="610.2" y1="381.0" x2="596.4" y2="372.0"/>
<line class="lt" x1="610.2" y1="378.6" x2="596.4" y2="368.6"/>
<line class="lt" x1="610.2" y1="376.3" x2="596.4" y2="365.3"/>
<line class="lt" x1="610.2" y1="374.0" x2="596.4" y2="362.0"/>
<line class="lt" x1="610.2" y1="371.6" x2="596.4" y2="358.6"/>
<line class="lt" x1="610.2" y1="383.3" x2="610.2" y2="369.3"/>
<line class="lt" x1="604.7" y1="380.1" x2="604.7" y2="363.7"/>
<line class="lt" x1="599.8" y1="377.3" x2="599.8" y2="358.8"/>
<line class="ln" x1="596.4" y1="375.3" x2="596.4" y2="351.3"/>
<line class="l" x1="582.5" y1="375.3" x2="582.5" y2="365.3"/>
<line class="l" x1="596.4" y1="383.3" x2="596.4" y2="373.3"/>
<line class="l" x1="610.2" y1="375.3" x2="610.2" y2="365.3"/>
<line class="l" x1="596.4" y1="367.3" x2="596.4" y2="357.3"/>
<line class="ln" x1="582.5" y1="365.3" x2="596.4" y2="373.3"/>
<line class="ln" x1="596.4" y1="373.3" x2="610.2" y2="365.3"/>
<line class="l" x1="582.5" y1="370.3" x2="596.4" y2="378.3"/>
<line class="l" x1="596.4" y1="378.3" x2="610.2" y2="370.3"/>
<polygon class="d" points="502.1,574.3 526.3,588.3 550.5,574.3 526.3,560.3"/>
<polygon class="lt" style="fill:#fff" points="507.2,574.3 521.1,582.3 521.1,559.3 507.2,551.3"/>
<polygon class="lt" style="fill:#fff" points="531.5,582.3 545.4,574.3 545.4,551.3 531.5,559.3"/>
<polygon class="lt" style="fill:#fafafa" points="521.1,582.3 526.3,582.3 531.5,582.3 531.5,559.3 526.3,559.3 521.1,559.3"/>
<line class="lt2" x1="508.6" y1="575.1" x2="508.6" y2="552.1"/>
<line class="lt2" x1="511.4" y1="576.7" x2="511.4" y2="553.7"/>
<line class="lt2" x1="514.2" y1="578.3" x2="514.2" y2="555.3"/>
<line class="lt2" x1="516.9" y1="579.9" x2="516.9" y2="556.9"/>
<line class="lt2" x1="519.7" y1="581.5" x2="519.7" y2="558.5"/>
<line class="lt2" x1="532.9" y1="581.5" x2="532.9" y2="558.5"/>
<line class="lt2" x1="535.7" y1="579.9" x2="535.7" y2="556.9"/>
<line class="lt2" x1="538.4" y1="578.3" x2="538.4" y2="555.3"/>
<line class="lt2" x1="541.2" y1="576.7" x2="541.2" y2="553.7"/>
<line class="lt2" x1="544.0" y1="575.1" x2="544.0" y2="552.1"/>
<line class="ln" x1="504.6" y1="565.3" x2="521.1" y2="574.8"/>
<line class="ln" x1="531.5" y1="574.8" x2="548.0" y2="565.3"/>
<path class="d" style="fill:none" d="M521.1,574.8 Q526.3,580.8 531.5,574.8"/>
<line class="ln" x1="504.6" y1="557.8" x2="521.1" y2="567.3"/>
<line class="ln" x1="531.5" y1="567.3" x2="548.0" y2="557.8"/>
<path class="d" style="fill:none" d="M521.1,567.3 Q526.3,573.3 531.5,567.3"/>
<line class="ln" x1="507.2" y1="574.3" x2="507.2" y2="551.3"/>
<line class="ln" x1="545.4" y1="574.3" x2="545.4" y2="551.3"/>
<line class="ln" x1="521.1" y1="582.3" x2="521.1" y2="559.3"/>
<line class="ln" x1="531.5" y1="582.3" x2="531.5" y2="559.3"/>
<line class="l" x1="514.2" y1="578.3" x2="514.2" y2="555.3"/>
<line class="l" x1="538.4" y1="578.3" x2="538.4" y2="555.3"/>
<polygon class="b" points="501.2,551.3 526.3,565.8 551.4,551.3 526.3,536.8"/>
<polygon class="wg" points="512.4,543.3 526.3,551.3 526.3,531.3 512.4,529.3"/>
<line class="lt" x1="512.4" y1="541.0" x2="526.3" y2="548.0"/>
<line class="lt" x1="512.4" y1="538.6" x2="526.3" y2="544.6"/>
<line class="lt" x1="512.4" y1="536.3" x2="526.3" y2="541.3"/>
<line class="lt" x1="512.4" y1="534.0" x2="526.3" y2="538.0"/>
<line class="lt" x1="512.4" y1="531.6" x2="526.3" y2="534.6"/>
<line class="lt" x1="512.4" y1="543.3" x2="512.4" y2="529.3"/>
<line class="lt" x1="518.0" y1="546.5" x2="518.0" y2="530.1"/>
<line class="lt" x1="522.8" y1="549.3" x2="522.8" y2="530.8"/>
<polygon class="wg" points="540.2,543.3 526.3,551.3 526.3,531.3 540.2,529.3"/>
<line class="lt" x1="540.2" y1="541.0" x2="526.3" y2="548.0"/>
<line class="lt" x1="540.2" y1="538.6" x2="526.3" y2="544.6"/>
<line class="lt" x1="540.2" y1="536.3" x2="526.3" y2="541.3"/>
<line class="lt" x1="540.2" y1="534.0" x2="526.3" y2="538.0"/>
<line class="lt" x1="540.2" y1="531.6" x2="526.3" y2="534.6"/>
<line class="lt" x1="540.2" y1="543.3" x2="540.2" y2="529.3"/>
<line class="lt" x1="534.6" y1="546.5" x2="534.6" y2="530.1"/>
<line class="lt" x1="529.8" y1="549.3" x2="529.8" y2="530.8"/>
<polygon class="wg" points="512.4,559.3 526.3,551.3 526.3,531.3 512.4,545.3"/>
<line class="lt" x1="512.4" y1="557.0" x2="526.3" y2="548.0"/>
<line class="lt" x1="512.4" y1="554.6" x2="526.3" y2="544.6"/>
<line class="lt" x1="512.4" y1="552.3" x2="526.3" y2="541.3"/>
<line class="lt" x1="512.4" y1="550.0" x2="526.3" y2="538.0"/>
<line class="lt" x1="512.4" y1="547.6" x2="526.3" y2="534.6"/>
<line class="lt" x1="512.4" y1="559.3" x2="512.4" y2="545.3"/>
<line class="lt" x1="518.0" y1="556.1" x2="518.0" y2="539.7"/>
<line class="lt" x1="522.8" y1="553.3" x2="522.8" y2="534.8"/>
<polygon class="wg" points="540.2,559.3 526.3,551.3 526.3,531.3 540.2,545.3"/>
<line class="lt" x1="540.2" y1="557.0" x2="526.3" y2="548.0"/>
<line class="lt" x1="540.2" y1="554.6" x2="526.3" y2="544.6"/>
<line class="lt" x1="540.2" y1="552.3" x2="526.3" y2="541.3"/>
<line class="lt" x1="540.2" y1="550.0" x2="526.3" y2="538.0"/>
<line class="lt" x1="540.2" y1="547.6" x2="526.3" y2="534.6"/>
<line class="lt" x1="540.2" y1="559.3" x2="540.2" y2="545.3"/>
<line class="lt" x1="534.6" y1="556.1" x2="534.6" y2="539.7"/>
<line class="lt" x1="529.8" y1="553.3" x2="529.8" y2="534.8"/>
<line class="ln" x1="526.3" y1="551.3" x2="526.3" y2="527.3"/>
<line class="l" x1="512.4" y1="551.3" x2="512.4" y2="541.3"/>
<line class="l" x1="526.3" y1="559.3" x2="526.3" y2="549.3"/>
<line class="l" x1="540.2" y1="551.3" x2="540.2" y2="541.3"/>
<line class="l" x1="526.3" y1="543.3" x2="526.3" y2="533.3"/>
<line class="ln" x1="512.4" y1="541.3" x2="526.3" y2="549.3"/>
<line class="ln" x1="526.3" y1="549.3" x2="540.2" y2="541.3"/>
<line class="l" x1="512.4" y1="546.3" x2="526.3" y2="554.3"/>
<line class="l" x1="526.3" y1="554.3" x2="540.2" y2="546.3"/>
<polygon class="d" points="619.8,642.1 644.0,656.1 668.3,642.1 644.0,628.1"/>
<polygon class="lt" style="fill:#fff" points="625.0,642.1 638.9,650.1 638.9,627.1 625.0,619.1"/>
<polygon class="lt" style="fill:#fff" points="649.2,650.1 663.1,642.1 663.1,619.1 649.2,627.1"/>
<polygon class="lt" style="fill:#fafafa" points="638.9,650.1 644.0,650.1 649.2,650.1 649.2,627.1 644.0,627.1 638.9,627.1"/>
<line class="lt2" x1="626.4" y1="642.9" x2="626.4" y2="619.9"/>
<line class="lt2" x1="629.2" y1="644.5" x2="629.2" y2="621.5"/>
<line class="lt2" x1="631.9" y1="646.1" x2="631.9" y2="623.1"/>
<line class="lt2" x1="634.7" y1="647.7" x2="634.7" y2="624.7"/>
<line class="lt2" x1="637.5" y1="649.3" x2="637.5" y2="626.3"/>
<line class="lt2" x1="650.6" y1="649.3" x2="650.6" y2="626.3"/>
<line class="lt2" x1="653.4" y1="647.7" x2="653.4" y2="624.7"/>
<line class="lt2" x1="656.2" y1="646.1" x2="656.2" y2="623.1"/>
<line class="lt2" x1="658.9" y1="644.5" x2="658.9" y2="621.5"/>
<line class="lt2" x1="661.7" y1="642.9" x2="661.7" y2="619.9"/>
<line class="ln" x1="622.4" y1="633.1" x2="638.9" y2="642.6"/>
<line class="ln" x1="649.2" y1="642.6" x2="665.7" y2="633.1"/>
<path class="d" style="fill:none" d="M638.9,642.6 Q644.0,648.6 649.2,642.6"/>
<line class="ln" x1="622.4" y1="625.6" x2="638.9" y2="635.1"/>
<line class="ln" x1="649.2" y1="635.1" x2="665.7" y2="625.6"/>
<path class="d" style="fill:none" d="M638.9,635.1 Q644.0,641.1 649.2,635.1"/>
<line class="ln" x1="625.0" y1="642.1" x2="625.0" y2="619.1"/>
<line class="ln" x1="663.1" y1="642.1" x2="663.1" y2="619.1"/>
<line class="ln" x1="638.9" y1="650.1" x2="638.9" y2="627.1"/>
<line class="ln" x1="649.2" y1="650.1" x2="649.2" y2="627.1"/>
<line class="l" x1="631.9" y1="646.1" x2="631.9" y2="623.1"/>
<line class="l" x1="656.2" y1="646.1" x2="656.2" y2="623.1"/>
<polygon class="b" points="618.9,619.1 644.0,633.6 669.2,619.1 644.0,604.6"/>
<polygon class="wg" points="630.2,611.1 644.0,619.1 644.0,599.1 630.2,597.1"/>
<line class="lt" x1="630.2" y1="608.8" x2="644.0" y2="615.8"/>
<line class="lt" x1="630.2" y1="606.4" x2="644.0" y2="612.4"/>
<line class="lt" x1="630.2" y1="604.1" x2="644.0" y2="609.1"/>
<line class="lt" x1="630.2" y1="601.8" x2="644.0" y2="605.8"/>
<line class="lt" x1="630.2" y1="599.4" x2="644.0" y2="602.4"/>
<line class="lt" x1="630.2" y1="611.1" x2="630.2" y2="597.1"/>
<line class="lt" x1="635.7" y1="614.3" x2="635.7" y2="597.9"/>
<line class="lt" x1="640.6" y1="617.1" x2="640.6" y2="598.6"/>
<polygon class="wg" points="657.9,611.1 644.0,619.1 644.0,599.1 657.9,597.1"/>
<line class="lt" x1="657.9" y1="608.8" x2="644.0" y2="615.8"/>
<line class="lt" x1="657.9" y1="606.4" x2="644.0" y2="612.4"/>
<line class="lt" x1="657.9" y1="604.1" x2="644.0" y2="609.1"/>
<line class="lt" x1="657.9" y1="601.8" x2="644.0" y2="605.8"/>
<line class="lt" x1="657.9" y1="599.4" x2="644.0" y2="602.4"/>
<line class="lt" x1="657.9" y1="611.1" x2="657.9" y2="597.1"/>
<line class="lt" x1="652.4" y1="614.3" x2="652.4" y2="597.9"/>
<line class="lt" x1="647.5" y1="617.1" x2="647.5" y2="598.6"/>
<polygon class="wg" points="630.2,627.1 644.0,619.1 644.0,599.1 630.2,613.1"/>
<line class="lt" x1="630.2" y1="624.8" x2="644.0" y2="615.8"/>
<line class="lt" x1="630.2" y1="622.4" x2="644.0" y2="612.4"/>
<line class="lt" x1="630.2" y1="620.1" x2="644.0" y2="609.1"/>
<line class="lt" x1="630.2" y1="617.8" x2="644.0" y2="605.8"/>
<line class="lt" x1="630.2" y1="615.4" x2="644.0" y2="602.4"/>
<line class="lt" x1="630.2" y1="627.1" x2="630.2" y2="613.1"/>
<line class="lt" x1="635.7" y1="623.9" x2="635.7" y2="607.5"/>
<line class="lt" x1="640.6" y1="621.1" x2="640.6" y2="602.6"/>
<polygon class="wg" points="657.9,627.1 644.0,619.1 644.0,599.1 657.9,613.1"/>
<line class="lt" x1="657.9" y1="624.8" x2="644.0" y2="615.8"/>
<line class="lt" x1="657.9" y1="622.4" x2="644.0" y2="612.4"/>
<line class="lt" x1="657.9" y1="620.1" x2="644.0" y2="609.1"/>
<line class="lt" x1="657.9" y1="617.8" x2="644.0" y2="605.8"/>
<line class="lt" x1="657.9" y1="615.4" x2="644.0" y2="602.4"/>
<line class="lt" x1="657.9" y1="627.1" x2="657.9" y2="613.1"/>
<line class="lt" x1="652.4" y1="623.9" x2="652.4" y2="607.5"/>
<line class="lt" x1="647.5" y1="621.1" x2="647.5" y2="602.6"/>
<line class="ln" x1="644.0" y1="619.1" x2="644.0" y2="595.1"/>
<line class="l" x1="630.2" y1="619.1" x2="630.2" y2="609.1"/>
<line class="l" x1="644.0" y1="627.1" x2="644.0" y2="617.1"/>
<line class="l" x1="657.9" y1="619.1" x2="657.9" y2="609.1"/>
<line class="l" x1="644.0" y1="611.1" x2="644.0" y2="601.1"/>
<line class="ln" x1="630.2" y1="609.1" x2="644.0" y2="617.1"/>
<line class="ln" x1="644.0" y1="617.1" x2="657.9" y2="609.1"/>
<line class="l" x1="630.2" y1="614.1" x2="644.0" y2="622.1"/>
<line class="l" x1="644.0" y1="622.1" x2="657.9" y2="614.1"/>
<line class="lt" x1="584.5" y1="300.4" x2="584.5" y2="321.4"/>
<line class="lt" x1="584.5" y1="321.4" x2="559.5" y2="335.4"/>
<line class="d" x1="559.5" y1="282.4" x2="559.5" y2="335.4"/>
<line class="ln" x1="550.5" y1="327.9" x2="559.5" y2="335.4"/>
<polygon class="d" points="548.3,276.4 572.5,290.4 596.7,276.4 572.5,262.4"/>
<polygon class="lt" style="fill:#fff" points="553.4,276.4 567.3,284.4 567.3,262.9 553.4,254.9"/>
<polygon class="lt" style="fill:#fff" points="577.7,284.4 591.6,276.4 591.6,254.9 577.7,262.9"/>
<polygon class="lt" style="fill:#fafafa" points="567.3,284.4 572.5,284.4 577.7,284.4 577.7,262.9 572.5,262.9 567.3,262.9"/>
<line class="lt2" x1="554.8" y1="277.2" x2="554.8" y2="255.7"/>
<line class="lt2" x1="557.6" y1="278.8" x2="557.6" y2="257.3"/>
<line class="lt2" x1="560.4" y1="280.4" x2="560.4" y2="258.9"/>
<line class="lt2" x1="563.1" y1="282.0" x2="563.1" y2="260.5"/>
<line class="lt2" x1="565.9" y1="283.6" x2="565.9" y2="262.1"/>
<line class="lt2" x1="579.1" y1="283.6" x2="579.1" y2="262.1"/>
<line class="lt2" x1="581.9" y1="282.0" x2="581.9" y2="260.5"/>
<line class="lt2" x1="584.6" y1="280.4" x2="584.6" y2="258.9"/>
<line class="lt2" x1="587.4" y1="278.8" x2="587.4" y2="257.3"/>
<line class="lt2" x1="590.2" y1="277.2" x2="590.2" y2="255.7"/>
<line class="ln" x1="550.8" y1="267.7" x2="567.3" y2="277.2"/>
<line class="ln" x1="577.7" y1="277.2" x2="594.2" y2="267.7"/>
<path class="d" style="fill:none" d="M567.3,277.2 Q572.5,283.2 577.7,277.2"/>
<line class="ln" x1="550.8" y1="260.6" x2="567.3" y2="270.1"/>
<line class="ln" x1="577.7" y1="270.1" x2="594.2" y2="260.6"/>
<path class="d" style="fill:none" d="M567.3,270.1 Q572.5,276.1 577.7,270.1"/>
<line class="ln" x1="553.4" y1="276.4" x2="553.4" y2="254.9"/>
<line class="ln" x1="591.6" y1="276.4" x2="591.6" y2="254.9"/>
<line class="ln" x1="567.3" y1="284.4" x2="567.3" y2="262.9"/>
<line class="ln" x1="577.7" y1="284.4" x2="577.7" y2="262.9"/>
<line class="l" x1="560.4" y1="280.4" x2="560.4" y2="258.9"/>
<line class="l" x1="584.6" y1="280.4" x2="584.6" y2="258.9"/>
<polygon class="d" points="548.3,254.9 572.5,268.9 596.7,254.9 572.5,240.9"/>
<polygon class="b" style="fill:#fff" points="551.7,184.4 570.8,195.4 594.2,181.9 575.1,170.9"/>
<polygon class="b" style="fill:#ececec" points="570.8,265.9 594.2,252.4 594.2,181.9 570.8,195.4"/>
<polygon class="b" style="fill:#fff" points="551.7,254.9 570.8,265.9 570.8,195.4 551.7,184.4"/>
<line class="l" x1="555.5" y1="257.1" x2="555.5" y2="186.6"/>
<line class="l" x1="559.3" y1="259.3" x2="559.3" y2="188.8"/>
<line class="l" x1="563.1" y1="261.5" x2="563.1" y2="191.0"/>
<line class="l" x1="567.0" y1="263.7" x2="567.0" y2="193.2"/>
<line class="d" x1="558.6" y1="240.4" x2="558.6" y2="192.4"/>
<line class="ln" x1="570.8" y1="255.8" x2="594.2" y2="242.3"/>
<line class="ln" x1="570.8" y1="245.8" x2="594.2" y2="232.3"/>
<line class="ln" x1="570.8" y1="235.7" x2="594.2" y2="222.2"/>
<line class="ln" x1="570.8" y1="225.6" x2="594.2" y2="212.1"/>
<line class="ln" x1="570.8" y1="215.5" x2="594.2" y2="202.0"/>
<line class="ln" x1="570.8" y1="205.5" x2="594.2" y2="192.0"/>
<line class="ln" x1="578.6" y1="261.4" x2="578.6" y2="190.9"/>
<line class="ln" x1="586.4" y1="256.9" x2="586.4" y2="186.4"/>
<polygon class="ln" style="fill:#d9d9d9" points="553.4,185.4 563.8,191.4 576.0,184.4 565.6,178.4"/>
<line class="h" x1="554.7" y1="186.1" x2="566.9" y2="179.1"/>
<line class="h" x1="556.0" y1="186.9" x2="568.2" y2="179.9"/>
<line class="h" x1="557.3" y1="187.6" x2="569.5" y2="180.6"/>
<line class="h" x1="558.6" y1="188.4" x2="570.8" y2="181.4"/>
<line class="h" x1="559.9" y1="189.1" x2="572.1" y2="182.1"/>
<line class="h" x1="561.2" y1="189.9" x2="573.4" y2="182.9"/>
<line class="h" x1="562.5" y1="190.6" x2="574.7" y2="183.6"/>
<polygon class="ln" style="fill:#d9d9d9" points="577.7,183.4 584.6,187.4 594.2,181.9 587.2,177.9"/>
<line class="h" x1="578.9" y1="184.1" x2="588.4" y2="178.6"/>
<line class="h" x1="580.0" y1="184.7" x2="589.5" y2="179.2"/>
<line class="h" x1="581.2" y1="185.4" x2="590.7" y2="179.9"/>
<line class="h" x1="582.3" y1="186.1" x2="591.8" y2="180.6"/>
<line class="h" x1="583.5" y1="186.7" x2="593.0" y2="181.2"/>
<polygon class="d" points="666.0,344.2 690.2,358.2 714.5,344.2 690.2,330.2"/>
<polygon class="lt" style="fill:#fff" points="671.2,344.2 685.1,352.2 685.1,328.2 671.2,320.2"/>
<polygon class="lt" style="fill:#fff" points="695.4,352.2 709.3,344.2 709.3,320.2 695.4,328.2"/>
<polygon class="lt" style="fill:#fafafa" points="685.1,352.2 690.2,352.2 695.4,352.2 695.4,328.2 690.2,328.2 685.1,328.2"/>
<line class="lt2" x1="672.6" y1="345.0" x2="672.6" y2="321.0"/>
<line class="lt2" x1="675.4" y1="346.6" x2="675.4" y2="322.6"/>
<line class="lt2" x1="678.1" y1="348.2" x2="678.1" y2="324.2"/>
<line class="lt2" x1="680.9" y1="349.8" x2="680.9" y2="325.8"/>
<line class="lt2" x1="683.7" y1="351.4" x2="683.7" y2="327.4"/>
<line class="lt2" x1="696.8" y1="351.4" x2="696.8" y2="327.4"/>
<line class="lt2" x1="699.6" y1="349.8" x2="699.6" y2="325.8"/>
<line class="lt2" x1="702.4" y1="348.2" x2="702.4" y2="324.2"/>
<line class="lt2" x1="705.1" y1="346.6" x2="705.1" y2="322.6"/>
<line class="lt2" x1="707.9" y1="345.0" x2="707.9" y2="321.0"/>
<line class="ln" x1="668.6" y1="334.7" x2="685.1" y2="344.2"/>
<line class="ln" x1="695.4" y1="344.2" x2="711.9" y2="334.7"/>
<path class="d" style="fill:none" d="M685.1,344.2 Q690.2,350.2 695.4,344.2"/>
<line class="ln" x1="668.6" y1="326.7" x2="685.1" y2="336.2"/>
<line class="ln" x1="695.4" y1="336.2" x2="711.9" y2="326.7"/>
<path class="d" style="fill:none" d="M685.1,336.2 Q690.2,342.2 695.4,336.2"/>
<line class="ln" x1="671.2" y1="344.2" x2="671.2" y2="320.2"/>
<line class="ln" x1="709.3" y1="344.2" x2="709.3" y2="320.2"/>
<line class="ln" x1="685.1" y1="352.2" x2="685.1" y2="328.2"/>
<line class="ln" x1="695.4" y1="352.2" x2="695.4" y2="328.2"/>
<line class="l" x1="678.1" y1="348.2" x2="678.1" y2="324.2"/>
<line class="l" x1="702.4" y1="348.2" x2="702.4" y2="324.2"/>
<polygon class="d" points="666.0,320.2 690.2,334.2 714.5,320.2 690.2,306.2"/>
<polygon class="b" points="667.7,256.2 690.2,269.2 712.8,256.2 690.2,243.2"/>
<polygon class="b" style="fill:#f2f2f2" points="690.2,333.2 712.8,320.2 712.8,256.2 690.2,269.2"/>
<polygon class="b" points="667.7,320.2 690.2,333.2 690.2,269.2 667.7,256.2"/>
<line class="l" x1="673.4" y1="323.4" x2="673.4" y2="259.4"/>
<line class="l" x1="679.0" y1="326.7" x2="679.0" y2="262.7"/>
<line class="l" x1="684.6" y1="329.9" x2="684.6" y2="265.9"/>
<line class="d" x1="672.9" y1="299.2" x2="672.9" y2="263.2"/>
<line class="ln" x1="690.2" y1="322.5" x2="712.8" y2="309.5"/>
<line class="ln" x1="690.2" y1="311.9" x2="712.8" y2="298.9"/>
<line class="ln" x1="690.2" y1="301.2" x2="712.8" y2="288.2"/>
<line class="ln" x1="690.2" y1="290.5" x2="712.8" y2="277.5"/>
<line class="ln" x1="690.2" y1="279.9" x2="712.8" y2="266.9"/>
<line class="ln" x1="701.5" y1="326.7" x2="701.5" y2="262.7"/>
<polygon class="ln" style="fill:#d9d9d9" points="667.7,256.2 679.0,262.7 690.2,256.2 679.0,249.7"/>
<line class="h" x1="669.3" y1="257.1" x2="680.6" y2="250.6"/>
<line class="h" x1="671.0" y1="258.1" x2="682.2" y2="251.6"/>
<line class="h" x1="672.6" y1="259.0" x2="683.8" y2="252.5"/>
<line class="h" x1="674.2" y1="259.9" x2="685.4" y2="253.4"/>
<line class="h" x1="675.8" y1="260.8" x2="687.0" y2="254.3"/>
<line class="h" x1="677.4" y1="261.8" x2="688.6" y2="255.3"/>
<polygon class="ln" style="fill:#d9d9d9" points="690.2,256.2 701.5,262.7 712.8,256.2 701.5,249.7"/>
<line class="h" x1="691.9" y1="257.1" x2="703.1" y2="250.6"/>
<line class="h" x1="693.5" y1="258.1" x2="704.7" y2="251.6"/>
<line class="h" x1="695.1" y1="259.0" x2="706.3" y2="252.5"/>
<line class="h" x1="696.7" y1="259.9" x2="707.9" y2="253.4"/>
<line class="h" x1="698.3" y1="260.8" x2="709.5" y2="254.3"/>
<line class="h" x1="699.9" y1="261.8" x2="711.2" y2="255.3"/>
<polygon class="d" points="783.8,412.0 808.0,426.0 832.2,412.0 808.0,398.0"/>
<polygon class="lt" style="fill:#fff" points="788.9,412.0 802.8,420.0 802.8,396.0 788.9,388.0"/>
<polygon class="lt" style="fill:#fff" points="813.2,420.0 827.1,412.0 827.1,388.0 813.2,396.0"/>
<polygon class="lt" style="fill:#fafafa" points="802.8,420.0 808.0,420.0 813.2,420.0 813.2,396.0 808.0,396.0 802.8,396.0"/>
<line class="lt2" x1="790.3" y1="412.8" x2="790.3" y2="388.8"/>
<line class="lt2" x1="793.1" y1="414.4" x2="793.1" y2="390.4"/>
<line class="lt2" x1="795.9" y1="416.0" x2="795.9" y2="392.0"/>
<line class="lt2" x1="798.6" y1="417.6" x2="798.6" y2="393.6"/>
<line class="lt2" x1="801.4" y1="419.2" x2="801.4" y2="395.2"/>
<line class="lt2" x1="814.6" y1="419.2" x2="814.6" y2="395.2"/>
<line class="lt2" x1="817.4" y1="417.6" x2="817.4" y2="393.6"/>
<line class="lt2" x1="820.1" y1="416.0" x2="820.1" y2="392.0"/>
<line class="lt2" x1="822.9" y1="414.4" x2="822.9" y2="390.4"/>
<line class="lt2" x1="825.7" y1="412.8" x2="825.7" y2="388.8"/>
<line class="ln" x1="786.3" y1="402.5" x2="802.8" y2="412.0"/>
<line class="ln" x1="813.2" y1="412.0" x2="829.7" y2="402.5"/>
<path class="d" style="fill:none" d="M802.8,412.0 Q808.0,418.0 813.2,412.0"/>
<line class="ln" x1="786.3" y1="394.5" x2="802.8" y2="404.0"/>
<line class="ln" x1="813.2" y1="404.0" x2="829.7" y2="394.5"/>
<path class="d" style="fill:none" d="M802.8,404.0 Q808.0,410.0 813.2,404.0"/>
<line class="ln" x1="788.9" y1="412.0" x2="788.9" y2="388.0"/>
<line class="ln" x1="827.1" y1="412.0" x2="827.1" y2="388.0"/>
<line class="ln" x1="802.8" y1="420.0" x2="802.8" y2="396.0"/>
<line class="ln" x1="813.2" y1="420.0" x2="813.2" y2="396.0"/>
<line class="l" x1="795.9" y1="416.0" x2="795.9" y2="392.0"/>
<line class="l" x1="820.1" y1="416.0" x2="820.1" y2="392.0"/>
<polygon class="d" points="783.8,388.0 808.0,402.0 832.2,388.0 808.0,374.0"/>
<polygon class="b" points="787.2,326.0 806.3,337.0 815.8,331.5 796.7,320.5"/>
<polygon class="b" points="806.3,399.0 815.8,393.5 815.8,331.5 806.3,337.0"/>
<polygon class="b" points="787.2,388.0 806.3,399.0 806.3,337.0 787.2,326.0"/>
<line class="l" x1="793.6" y1="391.7" x2="793.6" y2="329.7"/>
<line class="l" x1="799.9" y1="395.3" x2="799.9" y2="333.3"/>
<line class="d" x1="809.7" y1="397.0" x2="809.7" y2="331.0"/>
<line class="d" x1="812.3" y1="395.5" x2="812.3" y2="329.5"/>
<line class="ln" x1="809.7" y1="393.0" x2="812.3" y2="388.5"/>
<line class="ln" x1="809.7" y1="385.5" x2="812.3" y2="381.0"/>
<line class="ln" x1="809.7" y1="378.0" x2="812.3" y2="373.5"/>
<line class="ln" x1="809.7" y1="370.5" x2="812.3" y2="366.0"/>
<line class="ln" x1="809.7" y1="363.0" x2="812.3" y2="358.5"/>
<line class="ln" x1="809.7" y1="355.5" x2="812.3" y2="351.0"/>
<line class="ln" x1="809.7" y1="348.0" x2="812.3" y2="343.5"/>
<line class="ln" x1="809.7" y1="340.5" x2="812.3" y2="336.0"/>
<line class="l" x1="815.8" y1="381.5" x2="821.9" y2="378.0"/>
<line class="l" x1="821.9" y1="378.0" x2="815.8" y2="373.5"/>
<line class="l" x1="815.8" y1="371.5" x2="821.9" y2="368.0"/>
<line class="l" x1="821.9" y1="368.0" x2="815.8" y2="363.5"/>
<line class="l" x1="815.8" y1="361.5" x2="821.9" y2="358.0"/>
<line class="l" x1="821.9" y1="358.0" x2="815.8" y2="353.5"/>
<line class="l" x1="815.8" y1="351.5" x2="821.9" y2="348.0"/>
<line class="l" x1="821.9" y1="348.0" x2="815.8" y2="343.5"/>
<line class="l" x1="815.8" y1="341.5" x2="821.9" y2="338.0"/>
<line class="l" x1="821.9" y1="338.0" x2="815.8" y2="333.5"/>
<polygon class="b" style="fill:#e4e4e4" points="792.4,315.0 804.5,322.0 811.5,318.0 799.3,311.0"/>
<polygon class="b" points="804.5,334.0 811.5,330.0 811.5,318.0 804.5,322.0"/>
<polygon class="b" points="792.4,327.0 804.5,334.0 804.5,322.0 792.4,315.0"/>
<polygon class="d" points="901.5,479.8 925.8,493.8 950.0,479.8 925.8,465.8"/>
<polygon class="lt" style="fill:#fff" points="906.7,479.8 920.6,487.8 920.6,463.8 906.7,455.8"/>
<polygon class="lt" style="fill:#fff" points="930.9,487.8 944.8,479.8 944.8,455.8 930.9,463.8"/>
<polygon class="lt" style="fill:#fafafa" points="920.6,487.8 925.8,487.8 930.9,487.8 930.9,463.8 925.8,463.8 920.6,463.8"/>
<line class="lt2" x1="908.1" y1="480.6" x2="908.1" y2="456.6"/>
<line class="lt2" x1="910.9" y1="482.2" x2="910.9" y2="458.2"/>
<line class="lt2" x1="913.6" y1="483.8" x2="913.6" y2="459.8"/>
<line class="lt2" x1="916.4" y1="485.4" x2="916.4" y2="461.4"/>
<line class="lt2" x1="919.2" y1="487.0" x2="919.2" y2="463.0"/>
<line class="lt2" x1="932.3" y1="487.0" x2="932.3" y2="463.0"/>
<line class="lt2" x1="935.1" y1="485.4" x2="935.1" y2="461.4"/>
<line class="lt2" x1="937.9" y1="483.8" x2="937.9" y2="459.8"/>
<line class="lt2" x1="940.6" y1="482.2" x2="940.6" y2="458.2"/>
<line class="lt2" x1="943.4" y1="480.6" x2="943.4" y2="456.6"/>
<line class="ln" x1="904.1" y1="470.3" x2="920.6" y2="479.8"/>
<line class="ln" x1="930.9" y1="479.8" x2="947.4" y2="470.3"/>
<path class="d" style="fill:none" d="M920.6,479.8 Q925.8,485.8 930.9,479.8"/>
<line class="ln" x1="904.1" y1="462.3" x2="920.6" y2="471.8"/>
<line class="ln" x1="930.9" y1="471.8" x2="947.4" y2="462.3"/>
<path class="d" style="fill:none" d="M920.6,471.8 Q925.8,477.8 930.9,471.8"/>
<line class="ln" x1="906.7" y1="479.8" x2="906.7" y2="455.8"/>
<line class="ln" x1="944.8" y1="479.8" x2="944.8" y2="455.8"/>
<line class="ln" x1="920.6" y1="487.8" x2="920.6" y2="463.8"/>
<line class="ln" x1="930.9" y1="487.8" x2="930.9" y2="463.8"/>
<line class="l" x1="913.6" y1="483.8" x2="913.6" y2="459.8"/>
<line class="l" x1="937.9" y1="483.8" x2="937.9" y2="459.8"/>
<polygon class="d" points="901.5,455.8 925.8,469.8 950.0,455.8 925.8,441.8"/>
<polygon class="b" points="911.5,386.6 927.8,396.0 945.1,386.0 928.9,376.6"/>
<polygon class="b" style="fill:#e2e2e2" points="927.8,465.0 945.1,455.0 945.1,386.0 927.8,396.0"/>
<polygon class="b" points="911.5,455.6 927.8,465.0 927.8,396.0 911.5,386.6"/>
<line class="d" x1="927.8" y1="449.0" x2="945.1" y2="439.0"/>
<line class="d" x1="927.8" y1="443.0" x2="945.1" y2="433.0"/>
<line class="d" x1="927.8" y1="437.0" x2="945.1" y2="427.0"/>
<line class="d" x1="927.8" y1="431.0" x2="945.1" y2="421.0"/>
<line class="d" x1="927.8" y1="425.0" x2="945.1" y2="415.0"/>
<line class="d" x1="927.8" y1="419.0" x2="945.1" y2="409.0"/>
<line class="d" x1="927.8" y1="413.0" x2="945.1" y2="403.0"/>
<line class="d" x1="927.8" y1="407.0" x2="945.1" y2="397.0"/>
<line class="d" x1="931.3" y1="453.0" x2="931.3" y2="399.0"/>
<line class="d" x1="934.8" y1="451.0" x2="934.8" y2="397.0"/>
<line class="d" x1="938.2" y1="449.0" x2="938.2" y2="395.0"/>
<line class="d" x1="941.7" y1="447.0" x2="941.7" y2="393.0"/>
<line class="l" x1="917.0" y1="458.7" x2="917.0" y2="389.7"/>
<line class="l" x1="922.4" y1="461.9" x2="922.4" y2="392.9"/>
<polygon class="ln" style="fill:#d4d4d4" points="911.5,386.6 927.8,396.0 945.1,386.0 928.9,376.6"/>
<line class="h" x1="913.4" y1="387.6" x2="930.7" y2="377.6"/>
<line class="h" x1="915.2" y1="388.7" x2="932.5" y2="378.7"/>
<line class="h" x1="917.0" y1="389.7" x2="934.3" y2="379.7"/>
<line class="h" x1="918.8" y1="390.8" x2="936.1" y2="380.8"/>
<line class="h" x1="920.6" y1="391.8" x2="937.9" y2="381.8"/>
<line class="h" x1="922.4" y1="392.9" x2="939.7" y2="382.9"/>
<line class="h" x1="924.2" y1="393.9" x2="941.5" y2="383.9"/>
<line class="h" x1="926.0" y1="395.0" x2="943.3" y2="385.0"/>
<polygon class="b" points="921.4,409.3 928.3,413.3 933.5,410.3 926.6,406.3"/>
<polygon class="b" points="928.3,467.3 933.5,464.3 933.5,410.3 928.3,413.3"/>
<polygon class="b" points="921.4,463.3 928.3,467.3 928.3,413.3 921.4,409.3"/>
<line class="l" x1="923.7" y1="464.6" x2="923.7" y2="410.6"/>
<line class="l" x1="926.0" y1="466.0" x2="926.0" y2="412.0"/>
<polygon class="d" points="1019.3,547.6 1043.5,561.6 1067.7,547.6 1043.5,533.6"/>
<polygon class="lt" style="fill:#fff" points="1024.4,547.6 1038.3,555.6 1038.3,531.6 1024.4,523.6"/>
<polygon class="lt" style="fill:#fff" points="1048.7,555.6 1062.6,547.6 1062.6,523.6 1048.7,531.6"/>
<polygon class="lt" style="fill:#fafafa" points="1038.3,555.6 1043.5,555.6 1048.7,555.6 1048.7,531.6 1043.5,531.6 1038.3,531.6"/>
<line class="lt2" x1="1025.8" y1="548.4" x2="1025.8" y2="524.4"/>
<line class="lt2" x1="1028.6" y1="550.0" x2="1028.6" y2="526.0"/>
<line class="lt2" x1="1031.4" y1="551.6" x2="1031.4" y2="527.6"/>
<line class="lt2" x1="1034.1" y1="553.2" x2="1034.1" y2="529.2"/>
<line class="lt2" x1="1036.9" y1="554.8" x2="1036.9" y2="530.8"/>
<line class="lt2" x1="1050.1" y1="554.8" x2="1050.1" y2="530.8"/>
<line class="lt2" x1="1052.9" y1="553.2" x2="1052.9" y2="529.2"/>
<line class="lt2" x1="1055.6" y1="551.6" x2="1055.6" y2="527.6"/>
<line class="lt2" x1="1058.4" y1="550.0" x2="1058.4" y2="526.0"/>
<line class="lt2" x1="1061.2" y1="548.4" x2="1061.2" y2="524.4"/>
<line class="ln" x1="1021.8" y1="538.1" x2="1038.3" y2="547.6"/>
<line class="ln" x1="1048.7" y1="547.6" x2="1065.2" y2="538.1"/>
<path class="d" style="fill:none" d="M1038.3,547.6 Q1043.5,553.6 1048.7,547.6"/>
<line class="ln" x1="1021.8" y1="530.1" x2="1038.3" y2="539.6"/>
<line class="ln" x1="1048.7" y1="539.6" x2="1065.2" y2="530.1"/>
<path class="d" style="fill:none" d="M1038.3,539.6 Q1043.5,545.6 1048.7,539.6"/>
<line class="ln" x1="1024.4" y1="547.6" x2="1024.4" y2="523.6"/>
<line class="ln" x1="1062.6" y1="547.6" x2="1062.6" y2="523.6"/>
<line class="ln" x1="1038.3" y1="555.6" x2="1038.3" y2="531.6"/>
<line class="ln" x1="1048.7" y1="555.6" x2="1048.7" y2="531.6"/>
<line class="l" x1="1031.4" y1="551.6" x2="1031.4" y2="527.6"/>
<line class="l" x1="1055.6" y1="551.6" x2="1055.6" y2="527.6"/>
<polygon class="d" points="1019.3,523.6 1043.5,537.6 1067.7,523.6 1043.5,509.6"/>
<polygon class="b" points="1019.3,469.6 1023.6,472.1 1028.8,469.1 1024.4,466.6"/>
<polygon class="b" points="1023.6,526.1 1028.8,523.1 1028.8,469.1 1023.6,472.1"/>
<polygon class="b" points="1019.3,523.6 1023.6,526.1 1023.6,472.1 1019.3,469.6"/>
<polygon class="b" points="1024.4,464.6 1040.0,473.6 1052.2,466.6 1036.6,457.6"/>
<polygon class="b" points="1040.0,533.6 1052.2,526.6 1052.2,466.6 1040.0,473.6"/>
<polygon class="b" points="1024.4,524.6 1040.0,533.6 1040.0,473.6 1024.4,464.6"/>
<line class="l" x1="1029.6" y1="521.6" x2="1029.6" y2="471.6"/>
<line class="l" x1="1034.8" y1="524.6" x2="1034.8" y2="474.6"/>
<line class="d" x1="1052.2" y1="512.6" x2="1064.3" y2="505.6"/>
<line class="d" x1="1052.2" y1="504.6" x2="1064.3" y2="497.6"/>
<line class="d" x1="1052.2" y1="496.6" x2="1064.3" y2="489.6"/>
<line class="d" x1="1052.2" y1="488.6" x2="1064.3" y2="481.6"/>
<line class="d" x1="1052.2" y1="480.6" x2="1064.3" y2="473.6"/>
<line class="d" x1="1052.2" y1="472.6" x2="1064.3" y2="465.6"/>
<polygon class="b" style="fill:#cfcfcf" points="1029.6,450.6 1040.0,456.6 1050.4,450.6 1040.0,444.6"/>
<polygon class="b" points="1040.0,469.6 1050.4,463.6 1050.4,450.6 1040.0,456.6"/>
<polygon class="b" points="1029.6,463.6 1040.0,469.6 1040.0,456.6 1029.6,450.6"/>
<polygon class="lt" points="1152.6,517.4 1161.2,522.4 1171.6,516.4 1163.0,511.4"/>
<polygon class="lt" points="1161.2,585.4 1171.6,579.4 1171.6,516.4 1161.2,522.4"/>
<polygon class="lt" points="1152.6,580.4 1161.2,585.4 1161.2,522.4 1152.6,517.4"/>
<line class="lt" x1="1155.5" y1="582.1" x2="1155.5" y2="519.1"/>
<line class="lt" x1="1158.4" y1="583.7" x2="1158.4" y2="520.7"/>
<line class="lt" x1="1164.7" y1="583.4" x2="1164.7" y2="520.4"/>
<line class="lt" x1="1168.2" y1="581.4" x2="1168.2" y2="518.4"/>
<polygon class="d" points="1137.0,615.4 1161.2,629.4 1185.5,615.4 1161.2,601.4"/>
<polygon class="lt" style="fill:#fff" points="1142.2,615.4 1156.1,623.4 1156.1,595.4 1142.2,587.4"/>
<polygon class="lt" style="fill:#fff" points="1166.4,623.4 1180.3,615.4 1180.3,587.4 1166.4,595.4"/>
<polygon class="lt" style="fill:#fafafa" points="1156.1,623.4 1161.2,623.4 1166.4,623.4 1166.4,595.4 1161.2,595.4 1156.1,595.4"/>
<line class="lt2" x1="1143.6" y1="616.2" x2="1143.6" y2="588.2"/>
<line class="lt2" x1="1146.4" y1="617.8" x2="1146.4" y2="589.8"/>
<line class="lt2" x1="1149.1" y1="619.4" x2="1149.1" y2="591.4"/>
<line class="lt2" x1="1151.9" y1="621.0" x2="1151.9" y2="593.0"/>
<line class="lt2" x1="1154.7" y1="622.6" x2="1154.7" y2="594.6"/>
<line class="lt2" x1="1167.8" y1="622.6" x2="1167.8" y2="594.6"/>
<line class="lt2" x1="1170.6" y1="621.0" x2="1170.6" y2="593.0"/>
<line class="lt2" x1="1173.4" y1="619.4" x2="1173.4" y2="591.4"/>
<line class="lt2" x1="1176.1" y1="617.8" x2="1176.1" y2="589.8"/>
<line class="lt2" x1="1178.9" y1="616.2" x2="1178.9" y2="588.2"/>
<line class="ln" x1="1139.6" y1="606.9" x2="1156.1" y2="616.4"/>
<line class="ln" x1="1166.4" y1="616.4" x2="1182.9" y2="606.9"/>
<path class="d" style="fill:none" d="M1156.1,616.4 Q1161.2,622.4 1166.4,616.4"/>
<line class="ln" x1="1139.6" y1="599.9" x2="1156.1" y2="609.4"/>
<line class="ln" x1="1166.4" y1="609.4" x2="1182.9" y2="599.9"/>
<path class="d" style="fill:none" d="M1156.1,609.4 Q1161.2,615.4 1166.4,609.4"/>
<line class="ln" x1="1139.6" y1="592.9" x2="1156.1" y2="602.4"/>
<line class="ln" x1="1166.4" y1="602.4" x2="1182.9" y2="592.9"/>
<path class="d" style="fill:none" d="M1156.1,602.4 Q1161.2,608.4 1166.4,602.4"/>
<line class="ln" x1="1142.2" y1="615.4" x2="1142.2" y2="587.4"/>
<line class="ln" x1="1180.3" y1="615.4" x2="1180.3" y2="587.4"/>
<line class="ln" x1="1156.1" y1="623.4" x2="1156.1" y2="595.4"/>
<line class="ln" x1="1166.4" y1="623.4" x2="1166.4" y2="595.4"/>
<line class="l" x1="1149.1" y1="619.4" x2="1149.1" y2="591.4"/>
<line class="l" x1="1173.4" y1="619.4" x2="1173.4" y2="591.4"/>
<polygon class="d" points="1135.3,581.4 1161.2,596.4 1187.2,581.4 1161.2,566.4"/>
<polygon class="d" points="1161.2,599.4 1187.2,584.4 1187.2,581.4 1161.2,596.4"/>
<polygon class="d" points="1135.3,584.4 1161.2,599.4 1161.2,596.4 1135.3,581.4"/>
<polygon class="l" points="1152.6,517.4 1161.2,522.4 1171.6,516.4 1163.0,511.4"/>
<polygon class="l" points="1161.2,585.4 1171.6,579.4 1171.6,516.4 1161.2,522.4"/>
<polygon class="l" points="1152.6,580.4 1161.2,585.4 1161.2,522.4 1152.6,517.4"/>
<line class="lt" x1="1155.5" y1="582.1" x2="1155.5" y2="519.1"/>
<line class="lt" x1="1158.4" y1="583.7" x2="1158.4" y2="520.7"/>
<line class="lt" x1="1164.7" y1="583.4" x2="1164.7" y2="520.4"/>
<line class="lt" x1="1168.2" y1="581.4" x2="1168.2" y2="518.4"/>
<polygon class="d" points="737.6,709.9 761.8,723.9 786.0,709.9 761.8,695.9"/>
<polygon class="lt" style="fill:#fff" points="742.7,709.9 756.6,717.9 756.6,693.9 742.7,685.9"/>
<polygon class="lt" style="fill:#fff" points="767.0,717.9 780.9,709.9 780.9,685.9 767.0,693.9"/>
<polygon class="lt" style="fill:#fafafa" points="756.6,717.9 761.8,717.9 767.0,717.9 767.0,693.9 761.8,693.9 756.6,693.9"/>
<line class="lt2" x1="744.1" y1="710.7" x2="744.1" y2="686.7"/>
<line class="lt2" x1="746.9" y1="712.3" x2="746.9" y2="688.3"/>
<line class="lt2" x1="749.7" y1="713.9" x2="749.7" y2="689.9"/>
<line class="lt2" x1="752.4" y1="715.5" x2="752.4" y2="691.5"/>
<line class="lt2" x1="755.2" y1="717.1" x2="755.2" y2="693.1"/>
<line class="lt2" x1="768.4" y1="717.1" x2="768.4" y2="693.1"/>
<line class="lt2" x1="771.2" y1="715.5" x2="771.2" y2="691.5"/>
<line class="lt2" x1="773.9" y1="713.9" x2="773.9" y2="689.9"/>
<line class="lt2" x1="776.7" y1="712.3" x2="776.7" y2="688.3"/>
<line class="lt2" x1="779.5" y1="710.7" x2="779.5" y2="686.7"/>
<line class="ln" x1="740.1" y1="700.4" x2="756.6" y2="709.9"/>
<line class="ln" x1="767.0" y1="709.9" x2="783.5" y2="700.4"/>
<path class="d" style="fill:none" d="M756.6,709.9 Q761.8,715.9 767.0,709.9"/>
<line class="ln" x1="740.1" y1="692.4" x2="756.6" y2="701.9"/>
<line class="ln" x1="767.0" y1="701.9" x2="783.5" y2="692.4"/>
<path class="d" style="fill:none" d="M756.6,701.9 Q761.8,707.9 767.0,701.9"/>
<line class="ln" x1="742.7" y1="709.9" x2="742.7" y2="685.9"/>
<line class="ln" x1="780.9" y1="709.9" x2="780.9" y2="685.9"/>
<line class="ln" x1="756.6" y1="717.9" x2="756.6" y2="693.9"/>
<line class="ln" x1="767.0" y1="717.9" x2="767.0" y2="693.9"/>
<line class="l" x1="749.7" y1="713.9" x2="749.7" y2="689.9"/>
<line class="l" x1="773.9" y1="713.9" x2="773.9" y2="689.9"/>
<polygon class="d" points="737.6,685.9 761.8,699.9 786.0,685.9 761.8,671.9"/>
<polygon class="b" points="749.7,632.9 758.3,637.9 784.3,622.9 775.7,617.9"/>
<polygon class="b" points="758.3,687.9 784.3,672.9 784.3,622.9 758.3,637.9"/>
<polygon class="b" style="fill:#f0f0f0" points="749.7,682.9 758.3,687.9 758.3,637.9 749.7,632.9"/>
<polygon class="d" style="fill:#d4d4d4" points="751.4,677.9 756.6,680.9 756.6,638.9 751.4,635.9"/>
<line class="h" x1="751.4" y1="673.7" x2="756.6" y2="676.7"/>
<line class="h" x1="751.4" y1="669.5" x2="756.6" y2="672.5"/>
<line class="h" x1="751.4" y1="665.3" x2="756.6" y2="668.3"/>
<line class="h" x1="751.4" y1="661.1" x2="756.6" y2="664.1"/>
<line class="h" x1="751.4" y1="656.9" x2="756.6" y2="659.9"/>
<line class="h" x1="751.4" y1="652.7" x2="756.6" y2="655.7"/>
<line class="h" x1="751.4" y1="648.5" x2="756.6" y2="651.5"/>
<line class="h" x1="751.4" y1="644.3" x2="756.6" y2="647.3"/>
<line class="h" x1="751.4" y1="640.1" x2="756.6" y2="643.1"/>
<line class="h" x1="754.0" y1="679.4" x2="754.0" y2="637.4"/>
<line class="ln" x1="758.3" y1="679.6" x2="784.3" y2="664.6"/>
<line class="ln" x1="758.3" y1="671.2" x2="784.3" y2="656.2"/>
<line class="ln" x1="758.3" y1="662.9" x2="784.3" y2="647.9"/>
<line class="ln" x1="758.3" y1="654.6" x2="784.3" y2="639.6"/>
<line class="ln" x1="758.3" y1="646.2" x2="784.3" y2="631.2"/>
<line class="ln" x1="767.0" y1="682.9" x2="767.0" y2="632.9"/>
<line class="ln" x1="775.7" y1="677.9" x2="775.7" y2="627.9"/>
<polygon class="ln" style="fill:#e6e6e6" points="749.7,632.9 758.3,637.9 784.3,622.9 775.7,617.9"/>
<line class="h" x1="750.8" y1="633.5" x2="776.7" y2="618.5"/>
<line class="h" x1="751.8" y1="634.1" x2="777.8" y2="619.1"/>
<line class="h" x1="752.9" y1="634.8" x2="778.9" y2="619.8"/>
<line class="h" x1="754.0" y1="635.4" x2="780.0" y2="620.4"/>
<line class="h" x1="755.1" y1="636.0" x2="781.1" y2="621.0"/>
<line class="h" x1="756.2" y1="636.6" x2="782.2" y2="621.6"/>
<line class="h" x1="757.3" y1="637.3" x2="783.2" y2="622.3"/>
<polygon class="l" points="836.6,614.8 841.8,617.8 848.8,613.8 843.6,610.8"/>
<polygon class="l" points="841.8,637.8 848.8,633.8 848.8,613.8 841.8,617.8"/>
<polygon class="l" points="836.6,634.8 841.8,637.8 841.8,617.8 836.6,614.8"/>
<line class="lt" x1="837.9" y1="635.5" x2="837.9" y2="615.5"/>
<line class="lt" x1="839.2" y1="636.3" x2="839.2" y2="616.3"/>
<line class="lt" x1="840.5" y1="637.0" x2="840.5" y2="617.0"/>
<polygon class="d" points="831.5,655.8 855.7,669.8 879.9,655.8 855.7,641.8"/>
<polygon class="lt" style="fill:#fff" points="836.6,655.8 850.5,663.8 850.5,639.8 836.6,631.8"/>
<polygon class="lt" style="fill:#fff" points="860.9,663.8 874.8,655.8 874.8,631.8 860.9,639.8"/>
<polygon class="lt" style="fill:#fafafa" points="850.5,663.8 855.7,663.8 860.9,663.8 860.9,639.8 855.7,639.8 850.5,639.8"/>
<line class="lt2" x1="838.0" y1="656.6" x2="838.0" y2="632.6"/>
<line class="lt2" x1="840.8" y1="658.2" x2="840.8" y2="634.2"/>
<line class="lt2" x1="843.6" y1="659.8" x2="843.6" y2="635.8"/>
<line class="lt2" x1="846.3" y1="661.4" x2="846.3" y2="637.4"/>
<line class="lt2" x1="849.1" y1="663.0" x2="849.1" y2="639.0"/>
<line class="lt2" x1="862.3" y1="663.0" x2="862.3" y2="639.0"/>
<line class="lt2" x1="865.1" y1="661.4" x2="865.1" y2="637.4"/>
<line class="lt2" x1="867.8" y1="659.8" x2="867.8" y2="635.8"/>
<line class="lt2" x1="870.6" y1="658.2" x2="870.6" y2="634.2"/>
<line class="lt2" x1="873.4" y1="656.6" x2="873.4" y2="632.6"/>
<line class="ln" x1="834.0" y1="646.3" x2="850.5" y2="655.8"/>
<line class="ln" x1="860.9" y1="655.8" x2="877.4" y2="646.3"/>
<path class="d" style="fill:none" d="M850.5,655.8 Q855.7,661.8 860.9,655.8"/>
<line class="ln" x1="834.0" y1="638.3" x2="850.5" y2="647.8"/>
<line class="ln" x1="860.9" y1="647.8" x2="877.4" y2="638.3"/>
<path class="d" style="fill:none" d="M850.5,647.8 Q855.7,653.8 860.9,647.8"/>
<line class="ln" x1="836.6" y1="655.8" x2="836.6" y2="631.8"/>
<line class="ln" x1="874.8" y1="655.8" x2="874.8" y2="631.8"/>
<line class="ln" x1="850.5" y1="663.8" x2="850.5" y2="639.8"/>
<line class="ln" x1="860.9" y1="663.8" x2="860.9" y2="639.8"/>
<line class="l" x1="843.6" y1="659.8" x2="843.6" y2="635.8"/>
<line class="l" x1="867.8" y1="659.8" x2="867.8" y2="635.8"/>
<polygon class="d" points="831.5,631.8 855.7,645.8 879.9,631.8 855.7,617.8"/>
<polygon class="b" points="849.6,588.3 854.8,591.3 879.1,577.3 873.9,574.3"/>
<polygon class="b" points="854.8,636.3 879.1,622.3 879.1,577.3 854.8,591.3"/>
<polygon class="b" points="849.6,633.3 854.8,636.3 854.8,591.3 849.6,588.3"/>
<polygon class="d" style="fill:#fff" points="857.4,630.8 876.5,619.8 876.5,581.8 857.4,592.8"/>
<polygon class="d" style="fill:#ededed" points="859.2,627.8 874.8,618.8 874.8,584.8 859.2,593.8"/>
<line class="ln" x1="859.2" y1="616.5" x2="874.8" y2="607.5"/>
<line class="ln" x1="859.2" y1="605.1" x2="874.8" y2="596.1"/>
<line class="l" x1="851.4" y1="634.3" x2="851.4" y2="589.3"/>
<line class="l" x1="853.1" y1="635.3" x2="853.1" y2="590.3"/>
<polygon class="d" points="925.4,601.7 949.6,615.7 973.8,601.7 949.6,587.7"/>
<polygon class="lt" style="fill:#fff" points="930.5,601.7 944.4,609.7 944.4,586.7 930.5,578.7"/>
<polygon class="lt" style="fill:#fff" points="954.8,609.7 968.7,601.7 968.7,578.7 954.8,586.7"/>
<polygon class="lt" style="fill:#fafafa" points="944.4,609.7 949.6,609.7 954.8,609.7 954.8,586.7 949.6,586.7 944.4,586.7"/>
<line class="lt2" x1="931.9" y1="602.5" x2="931.9" y2="579.5"/>
<line class="lt2" x1="934.7" y1="604.1" x2="934.7" y2="581.1"/>
<line class="lt2" x1="937.5" y1="605.7" x2="937.5" y2="582.7"/>
<line class="lt2" x1="940.2" y1="607.3" x2="940.2" y2="584.3"/>
<line class="lt2" x1="943.0" y1="608.9" x2="943.0" y2="585.9"/>
<line class="lt2" x1="956.2" y1="608.9" x2="956.2" y2="585.9"/>
<line class="lt2" x1="959.0" y1="607.3" x2="959.0" y2="584.3"/>
<line class="lt2" x1="961.7" y1="605.7" x2="961.7" y2="582.7"/>
<line class="lt2" x1="964.5" y1="604.1" x2="964.5" y2="581.1"/>
<line class="lt2" x1="967.3" y1="602.5" x2="967.3" y2="579.5"/>
<line class="ln" x1="927.9" y1="592.7" x2="944.4" y2="602.2"/>
<line class="ln" x1="954.8" y1="602.2" x2="971.3" y2="592.7"/>
<path class="d" style="fill:none" d="M944.4,602.2 Q949.6,608.2 954.8,602.2"/>
<line class="ln" x1="927.9" y1="585.2" x2="944.4" y2="594.7"/>
<line class="ln" x1="954.8" y1="594.7" x2="971.3" y2="585.2"/>
<path class="d" style="fill:none" d="M944.4,594.7 Q949.6,600.7 954.8,594.7"/>
<line class="ln" x1="930.5" y1="601.7" x2="930.5" y2="578.7"/>
<line class="ln" x1="968.7" y1="601.7" x2="968.7" y2="578.7"/>
<line class="ln" x1="944.4" y1="609.7" x2="944.4" y2="586.7"/>
<line class="ln" x1="954.8" y1="609.7" x2="954.8" y2="586.7"/>
<line class="l" x1="937.5" y1="605.7" x2="937.5" y2="582.7"/>
<line class="l" x1="961.7" y1="605.7" x2="961.7" y2="582.7"/>
<polygon class="b" points="924.5,578.7 949.6,593.2 974.7,578.7 949.6,564.2"/>
<polygon class="b" points="932.3,567.7 949.6,577.7 968.7,566.7 951.3,556.7"/>
<polygon class="b" points="949.6,587.7 968.7,576.7 968.7,566.7 949.6,577.7"/>
<polygon class="b" points="932.3,577.7 949.6,587.7 949.6,577.7 932.3,567.7"/>
<line class="d" x1="952.8" y1="584.9" x2="952.8" y2="576.9"/>
<line class="d" x1="956.0" y1="583.0" x2="956.0" y2="575.0"/>
<line class="d" x1="959.1" y1="581.2" x2="959.1" y2="573.2"/>
<line class="d" x1="962.3" y1="579.4" x2="962.3" y2="571.4"/>
<line class="d" x1="965.5" y1="577.5" x2="965.5" y2="569.5"/>
<line class="ln" x1="935.7" y1="579.7" x2="935.7" y2="569.7"/>
<line class="ln" x1="939.2" y1="581.7" x2="939.2" y2="571.7"/>
<line class="ln" x1="942.7" y1="583.7" x2="942.7" y2="573.7"/>
<line class="ln" x1="946.1" y1="585.7" x2="946.1" y2="575.7"/>
<line class="ln" x1="949.6" y1="584.7" x2="968.7" y2="573.7"/>
<polygon class="b" points="930.5,567.7 950.5,579.2 971.3,567.2 951.3,555.7"/>
<polygon class="wg" points="935.7,560.7 949.6,568.7 949.6,556.7 935.7,552.3"/>
<line class="lt" x1="935.7" y1="559.3" x2="949.6" y2="566.7"/>
<line class="lt" x1="935.7" y1="557.9" x2="949.6" y2="564.7"/>
<line class="lt" x1="935.7" y1="556.5" x2="949.6" y2="562.7"/>
<line class="lt" x1="935.7" y1="555.1" x2="949.6" y2="560.7"/>
<line class="lt" x1="935.7" y1="553.7" x2="949.6" y2="558.7"/>
<line class="lt" x1="935.7" y1="560.7" x2="935.7" y2="552.3"/>
<line class="lt" x1="941.3" y1="563.9" x2="941.3" y2="554.1"/>
<line class="lt" x1="946.1" y1="566.7" x2="946.1" y2="555.6"/>
<polygon class="wg" points="963.5,560.7 949.6,568.7 949.6,556.7 963.5,552.3"/>
<line class="lt" x1="963.5" y1="559.3" x2="949.6" y2="566.7"/>
<line class="lt" x1="963.5" y1="557.9" x2="949.6" y2="564.7"/>
<line class="lt" x1="963.5" y1="556.5" x2="949.6" y2="562.7"/>
<line class="lt" x1="963.5" y1="555.1" x2="949.6" y2="560.7"/>
<line class="lt" x1="963.5" y1="553.7" x2="949.6" y2="558.7"/>
<line class="lt" x1="963.5" y1="560.7" x2="963.5" y2="552.3"/>
<line class="lt" x1="957.9" y1="563.9" x2="957.9" y2="554.1"/>
<line class="lt" x1="953.1" y1="566.7" x2="953.1" y2="555.6"/>
<polygon class="wg" points="935.7,576.7 949.6,568.7 949.6,556.7 935.7,568.3"/>
<line class="lt" x1="935.7" y1="575.3" x2="949.6" y2="566.7"/>
<line class="lt" x1="935.7" y1="573.9" x2="949.6" y2="564.7"/>
<line class="lt" x1="935.7" y1="572.5" x2="949.6" y2="562.7"/>
<line class="lt" x1="935.7" y1="571.1" x2="949.6" y2="560.7"/>
<line class="lt" x1="935.7" y1="569.7" x2="949.6" y2="558.7"/>
<line class="lt" x1="935.7" y1="576.7" x2="935.7" y2="568.3"/>
<line class="lt" x1="941.3" y1="573.5" x2="941.3" y2="563.7"/>
<line class="lt" x1="946.1" y1="570.7" x2="946.1" y2="559.6"/>
<polygon class="wg" points="963.5,576.7 949.6,568.7 949.6,556.7 963.5,568.3"/>
<line class="lt" x1="963.5" y1="575.3" x2="949.6" y2="566.7"/>
<line class="lt" x1="963.5" y1="573.9" x2="949.6" y2="564.7"/>
<line class="lt" x1="963.5" y1="572.5" x2="949.6" y2="562.7"/>
<line class="lt" x1="963.5" y1="571.1" x2="949.6" y2="560.7"/>
<line class="lt" x1="963.5" y1="569.7" x2="949.6" y2="558.7"/>
<line class="lt" x1="963.5" y1="576.7" x2="963.5" y2="568.3"/>
<line class="lt" x1="957.9" y1="573.5" x2="957.9" y2="563.7"/>
<line class="lt" x1="953.1" y1="570.7" x2="953.1" y2="559.6"/>
<line class="ln" x1="949.6" y1="568.7" x2="949.6" y2="554.3"/>
<line class="l" x1="935.7" y1="568.7" x2="935.7" y2="558.7"/>
<line class="l" x1="949.6" y1="576.7" x2="949.6" y2="566.7"/>
<line class="l" x1="963.5" y1="568.7" x2="963.5" y2="558.7"/>
<line class="l" x1="949.6" y1="560.7" x2="949.6" y2="550.7"/>
<line class="ln" x1="935.7" y1="558.7" x2="949.6" y2="566.7"/>
<line class="ln" x1="949.6" y1="566.7" x2="963.5" y2="558.7"/>
<line class="l" x1="935.7" y1="563.7" x2="949.6" y2="571.7"/>
<line class="l" x1="949.6" y1="571.7" x2="963.5" y2="563.7"/>
<polygon class="d" points="949.2,723.6 973.4,737.6 997.7,723.6 973.4,709.6"/>
<polygon class="lt" style="fill:#fff" points="954.4,723.6 968.3,731.6 968.3,703.6 954.4,695.6"/>
<polygon class="lt" style="fill:#fff" points="978.6,731.6 992.5,723.6 992.5,695.6 978.6,703.6"/>
<polygon class="lt" style="fill:#fafafa" points="968.3,731.6 973.4,731.6 978.6,731.6 978.6,703.6 973.4,703.6 968.3,703.6"/>
<line class="lt2" x1="955.8" y1="724.4" x2="955.8" y2="696.4"/>
<line class="lt2" x1="958.6" y1="726.0" x2="958.6" y2="698.0"/>
<line class="lt2" x1="961.3" y1="727.6" x2="961.3" y2="699.6"/>
<line class="lt2" x1="964.1" y1="729.2" x2="964.1" y2="701.2"/>
<line class="lt2" x1="966.9" y1="730.8" x2="966.9" y2="702.8"/>
<line class="lt2" x1="980.0" y1="730.8" x2="980.0" y2="702.8"/>
<line class="lt2" x1="982.8" y1="729.2" x2="982.8" y2="701.2"/>
<line class="lt2" x1="985.6" y1="727.6" x2="985.6" y2="699.6"/>
<line class="lt2" x1="988.3" y1="726.0" x2="988.3" y2="698.0"/>
<line class="lt2" x1="991.1" y1="724.4" x2="991.1" y2="696.4"/>
<line class="ln" x1="951.8" y1="715.1" x2="968.3" y2="724.6"/>
<line class="ln" x1="978.6" y1="724.6" x2="995.1" y2="715.1"/>
<path class="d" style="fill:none" d="M968.3,724.6 Q973.4,730.6 978.6,724.6"/>
<line class="ln" x1="951.8" y1="708.1" x2="968.3" y2="717.6"/>
<line class="ln" x1="978.6" y1="717.6" x2="995.1" y2="708.1"/>
<path class="d" style="fill:none" d="M968.3,717.6 Q973.4,723.6 978.6,717.6"/>
<line class="ln" x1="951.8" y1="701.1" x2="968.3" y2="710.6"/>
<line class="ln" x1="978.6" y1="710.6" x2="995.1" y2="701.1"/>
<path class="d" style="fill:none" d="M968.3,710.6 Q973.4,716.6 978.6,710.6"/>
<line class="ln" x1="954.4" y1="723.6" x2="954.4" y2="695.6"/>
<line class="ln" x1="992.5" y1="723.6" x2="992.5" y2="695.6"/>
<line class="ln" x1="968.3" y1="731.6" x2="968.3" y2="703.6"/>
<line class="ln" x1="978.6" y1="731.6" x2="978.6" y2="703.6"/>
<line class="l" x1="961.3" y1="727.6" x2="961.3" y2="699.6"/>
<line class="l" x1="985.6" y1="727.6" x2="985.6" y2="699.6"/>
<polygon class="d" points="947.5,689.6 973.4,704.6 999.4,689.6 973.4,674.6"/>
<polygon class="d" points="973.4,707.6 999.4,692.6 999.4,689.6 973.4,704.6"/>
<polygon class="d" points="947.5,692.6 973.4,707.6 973.4,704.6 947.5,689.6"/>
<polygon class="b" points="956.1,637.6 966.5,643.6 983.8,633.6 973.4,627.6"/>
<polygon class="b" points="966.5,695.6 983.8,685.6 983.8,633.6 966.5,643.6"/>
<polygon class="b" points="956.1,689.6 966.5,695.6 966.5,643.6 956.1,637.6"/>
<line class="ln" x1="958.7" y1="691.1" x2="958.7" y2="639.1"/>
<line class="ln" x1="961.3" y1="692.6" x2="961.3" y2="640.6"/>
<line class="ln" x1="963.9" y1="694.1" x2="963.9" y2="642.1"/>
<line class="l" x1="970.0" y1="693.6" x2="970.0" y2="641.6"/>
<line class="l" x1="973.4" y1="691.6" x2="973.4" y2="639.6"/>
<line class="l" x1="976.9" y1="689.6" x2="976.9" y2="637.6"/>
<line class="l" x1="980.4" y1="687.6" x2="980.4" y2="635.6"/>
<line class="ln" x1="956.1" y1="677.6" x2="952.7" y2="675.6"/>
<line class="ln" x1="956.1" y1="668.6" x2="952.7" y2="666.6"/>
<line class="ln" x1="956.1" y1="659.6" x2="952.7" y2="657.6"/>
<line class="ln" x1="956.1" y1="650.6" x2="952.7" y2="648.6"/>
<polygon class="d" points="1043.1,669.5 1067.3,683.5 1091.6,669.5 1067.3,655.5"/>
<polygon class="lt" style="fill:#fff" points="1048.3,669.5 1062.2,677.5 1062.2,647.5 1048.3,639.5"/>
<polygon class="lt" style="fill:#fff" points="1072.5,677.5 1086.4,669.5 1086.4,639.5 1072.5,647.5"/>
<polygon class="lt" style="fill:#fafafa" points="1062.2,677.5 1067.3,677.5 1072.5,677.5 1072.5,647.5 1067.3,647.5 1062.2,647.5"/>
<line class="lt2" x1="1049.7" y1="670.3" x2="1049.7" y2="640.3"/>
<line class="lt2" x1="1052.5" y1="671.9" x2="1052.5" y2="641.9"/>
<line class="lt2" x1="1055.2" y1="673.5" x2="1055.2" y2="643.5"/>
<line class="lt2" x1="1058.0" y1="675.1" x2="1058.0" y2="645.1"/>
<line class="lt2" x1="1060.8" y1="676.7" x2="1060.8" y2="646.7"/>
<line class="lt2" x1="1073.9" y1="676.7" x2="1073.9" y2="646.7"/>
<line class="lt2" x1="1076.7" y1="675.1" x2="1076.7" y2="645.1"/>
<line class="lt2" x1="1079.5" y1="673.5" x2="1079.5" y2="643.5"/>
<line class="lt2" x1="1082.2" y1="671.9" x2="1082.2" y2="641.9"/>
<line class="lt2" x1="1085.0" y1="670.3" x2="1085.0" y2="640.3"/>
<line class="ln" x1="1045.7" y1="661.0" x2="1062.2" y2="670.5"/>
<line class="ln" x1="1072.5" y1="670.5" x2="1089.0" y2="661.0"/>
<path class="d" style="fill:none" d="M1062.2,670.5 Q1067.3,676.5 1072.5,670.5"/>
<line class="ln" x1="1045.7" y1="654.0" x2="1062.2" y2="663.5"/>
<line class="ln" x1="1072.5" y1="663.5" x2="1089.0" y2="654.0"/>
<path class="d" style="fill:none" d="M1062.2,663.5 Q1067.3,669.5 1072.5,663.5"/>
<line class="ln" x1="1045.7" y1="647.0" x2="1062.2" y2="656.5"/>
<line class="ln" x1="1072.5" y1="656.5" x2="1089.0" y2="647.0"/>
<path class="d" style="fill:none" d="M1062.2,656.5 Q1067.3,662.5 1072.5,656.5"/>
<line class="ln" x1="1048.3" y1="669.5" x2="1048.3" y2="639.5"/>
<line class="ln" x1="1086.4" y1="669.5" x2="1086.4" y2="639.5"/>
<line class="ln" x1="1062.2" y1="677.5" x2="1062.2" y2="647.5"/>
<line class="ln" x1="1072.5" y1="677.5" x2="1072.5" y2="647.5"/>
<line class="l" x1="1055.2" y1="673.5" x2="1055.2" y2="643.5"/>
<line class="l" x1="1079.5" y1="673.5" x2="1079.5" y2="643.5"/>
<polygon class="d" points="1041.4,633.5 1067.3,648.5 1093.3,633.5 1067.3,618.5"/>
<polygon class="d" points="1067.3,651.5 1093.3,636.5 1093.3,633.5 1067.3,648.5"/>
<polygon class="d" points="1041.4,636.5 1067.3,651.5 1067.3,648.5 1041.4,633.5"/>
<polygon class="b" points="1050.0,583.5 1060.4,589.5 1077.7,579.5 1067.3,573.5"/>
<polygon class="b" points="1060.4,641.5 1077.7,631.5 1077.7,579.5 1060.4,589.5"/>
<polygon class="b" points="1050.0,635.5 1060.4,641.5 1060.4,589.5 1050.0,583.5"/>
<line class="l" x1="1053.5" y1="637.5" x2="1053.5" y2="585.5"/>
<line class="l" x1="1057.0" y1="639.5" x2="1057.0" y2="587.5"/>
<polygon class="d" style="fill:#d8d8d8" points="1067.3,635.5 1072.5,632.5 1072.5,584.5 1067.3,587.5"/>
<line class="ln" x1="1067.3" y1="631.5" x2="1072.5" y2="628.5"/>
<line class="ln" x1="1067.3" y1="627.5" x2="1072.5" y2="624.5"/>
<line class="ln" x1="1067.3" y1="623.5" x2="1072.5" y2="620.5"/>
<line class="ln" x1="1067.3" y1="619.5" x2="1072.5" y2="616.5"/>
<line class="ln" x1="1067.3" y1="615.5" x2="1072.5" y2="612.5"/>
<line class="ln" x1="1067.3" y1="611.5" x2="1072.5" y2="608.5"/>
<line class="ln" x1="1067.3" y1="607.5" x2="1072.5" y2="604.5"/>
<line class="ln" x1="1067.3" y1="603.5" x2="1072.5" y2="600.5"/>
<line class="ln" x1="1067.3" y1="599.5" x2="1072.5" y2="596.5"/>
<line class="ln" x1="1067.3" y1="595.5" x2="1072.5" y2="592.5"/>
<line class="ln" x1="1067.3" y1="591.5" x2="1072.5" y2="588.5"/>
<line class="ln" x1="1050.0" y1="621.5" x2="1045.7" y2="619.0"/>
<line class="ln" x1="1050.0" y1="611.5" x2="1045.7" y2="609.0"/>
<line class="ln" x1="1050.0" y1="601.5" x2="1045.7" y2="599.0"/>
<line class="ln" x1="1050.0" y1="591.5" x2="1045.7" y2="589.0"/>
<polygon class="d" points="855.3,777.7 879.5,791.7 903.8,777.7 879.5,763.7"/>
<polygon class="lt" style="fill:#fff" points="860.5,777.7 874.4,785.7 874.4,757.7 860.5,749.7"/>
<polygon class="lt" style="fill:#fff" points="884.7,785.7 898.6,777.7 898.6,749.7 884.7,757.7"/>
<polygon class="lt" style="fill:#fafafa" points="874.4,785.7 879.5,785.7 884.7,785.7 884.7,757.7 879.5,757.7 874.4,757.7"/>
<line class="lt2" x1="861.9" y1="778.5" x2="861.9" y2="750.5"/>
<line class="lt2" x1="864.7" y1="780.1" x2="864.7" y2="752.1"/>
<line class="lt2" x1="867.4" y1="781.7" x2="867.4" y2="753.7"/>
<line class="lt2" x1="870.2" y1="783.3" x2="870.2" y2="755.3"/>
<line class="lt2" x1="873.0" y1="784.9" x2="873.0" y2="756.9"/>
<line class="lt2" x1="886.1" y1="784.9" x2="886.1" y2="756.9"/>
<line class="lt2" x1="888.9" y1="783.3" x2="888.9" y2="755.3"/>
<line class="lt2" x1="891.7" y1="781.7" x2="891.7" y2="753.7"/>
<line class="lt2" x1="894.4" y1="780.1" x2="894.4" y2="752.1"/>
<line class="lt2" x1="897.2" y1="778.5" x2="897.2" y2="750.5"/>
<line class="ln" x1="857.9" y1="769.2" x2="874.4" y2="778.7"/>
<line class="ln" x1="884.7" y1="778.7" x2="901.2" y2="769.2"/>
<path class="d" style="fill:none" d="M874.4,778.7 Q879.5,784.7 884.7,778.7"/>
<line class="ln" x1="857.9" y1="762.2" x2="874.4" y2="771.7"/>
<line class="ln" x1="884.7" y1="771.7" x2="901.2" y2="762.2"/>
<path class="d" style="fill:none" d="M874.4,771.7 Q879.5,777.7 884.7,771.7"/>
<line class="ln" x1="857.9" y1="755.2" x2="874.4" y2="764.7"/>
<line class="ln" x1="884.7" y1="764.7" x2="901.2" y2="755.2"/>
<path class="d" style="fill:none" d="M874.4,764.7 Q879.5,770.7 884.7,764.7"/>
<line class="ln" x1="860.5" y1="777.7" x2="860.5" y2="749.7"/>
<line class="ln" x1="898.6" y1="777.7" x2="898.6" y2="749.7"/>
<line class="ln" x1="874.4" y1="785.7" x2="874.4" y2="757.7"/>
<line class="ln" x1="884.7" y1="785.7" x2="884.7" y2="757.7"/>
<line class="l" x1="867.4" y1="781.7" x2="867.4" y2="753.7"/>
<line class="l" x1="891.7" y1="781.7" x2="891.7" y2="753.7"/>
<polygon class="d" points="853.6,743.7 879.5,758.7 905.5,743.7 879.5,728.7"/>
<polygon class="d" points="879.5,761.7 905.5,746.7 905.5,743.7 879.5,758.7"/>
<polygon class="d" points="853.6,746.7 879.5,761.7 879.5,758.7 853.6,743.7"/>
<polygon class="l" points="862.2,685.7 869.2,689.7 883.0,681.7 876.1,677.7"/>
<polygon class="l" points="869.2,747.7 883.0,739.7 883.0,681.7 869.2,689.7"/>
<polygon class="l" points="862.2,743.7 869.2,747.7 869.2,689.7 862.2,685.7"/>
<line class="lt" x1="864.5" y1="745.0" x2="864.5" y2="687.0"/>
<line class="lt" x1="866.8" y1="746.4" x2="866.8" y2="688.4"/>
<line class="lt" x1="872.6" y1="745.7" x2="872.6" y2="687.7"/>
<line class="lt" x1="876.1" y1="743.7" x2="876.1" y2="685.7"/>
<line class="lt" x1="879.5" y1="741.7" x2="879.5" y2="683.7"/>
<polygon class="b" points="999.6,261.9 1006.5,265.9 1013.5,261.9 1006.5,257.9"/>
<polygon class="b" points="1006.5,284.9 1013.5,280.9 1013.5,261.9 1006.5,265.9"/>
<polygon class="b" points="999.6,280.9 1006.5,284.9 1006.5,265.9 999.6,261.9"/>
<line class="ln" x1="1001.9" y1="282.2" x2="1001.9" y2="263.2"/>
<line class="ln" x1="1004.2" y1="283.6" x2="1004.2" y2="264.6"/>
<line class="ln" x1="1008.3" y1="283.9" x2="1008.3" y2="264.9"/>
<line class="ln" x1="1010.0" y1="282.9" x2="1010.0" y2="263.9"/>
<line class="ln" x1="1011.7" y1="281.9" x2="1011.7" y2="262.9"/>
<polygon class="b" points="975.8,304.4 1018.2,285.4 1018.2,302.9 1013.2,305.9 1013.2,300.9 1008.2,303.4 1007.2,308.9 975.8,326.9"/>
<polygon class="b" points="954.5,289.9 993.2,270.9 1018.2,285.4 975.8,304.4"/>
<line class="d" x1="954.5" y1="289.9" x2="975.8" y2="304.4"/>
<line class="l" x1="956.7" y1="288.6" x2="977.2" y2="302.6"/>
<line class="lt" x1="954.5" y1="289.9" x2="993.2" y2="270.9"/>
<line class="ln" x1="999.2" y1="308.9" x2="999.2" y2="318.9"/>
<line class="d" x1="979.2" y1="319.9" x2="988.2" y2="314.9"/>
<line class="ln" x1="979.2" y1="322.9" x2="988.2" y2="317.9"/>
<polygon class="b" points="940.1,297.4 954.5,289.9 975.8,304.0 960.8,311.4"/>
<polygon class="b" points="940.1,297.4 960.8,311.4 960.8,314.4 940.1,300.4"/>
<polygon class="b" points="960.8,311.4 975.8,304.0 975.8,307.0 960.8,314.4"/>
<line class="d" x1="960.8" y1="311.4" x2="975.8" y2="304.0"/>
<line class="ln" x1="942.2" y1="301.9" x2="942.2" y2="319.9"/>
<line class="l" x1="947.2" y1="304.9" x2="947.2" y2="324.9"/>
<line class="ln" x1="939.2" y1="317.9" x2="944.2" y2="320.9"/>
<line class="ln" x1="939.2" y1="309.9" x2="944.2" y2="312.9"/>
<polygon class="b" points="959.6,317.9 959.6,330.9 964.1,333.4 968.6,330.9 968.6,317.9 964.1,320.4"/>
<polygon class="d" points="959.6,317.9 964.1,315.4 968.6,317.9 964.1,320.4"/>
<line class="h" x1="961.2" y1="320.9" x2="961.2" y2="330.9"/>
<line class="h" x1="964.2" y1="321.9" x2="964.2" y2="332.4"/>
<line class="h" x1="966.8" y1="320.9" x2="966.8" y2="331.4"/>
<polygon class="ln" points="959.6,332.4 964.1,329.9 968.6,332.4 964.1,334.9"/>
<polygon class="b" points="1117.9,330.2 1124.8,334.2 1131.8,330.2 1124.8,326.2"/>
<polygon class="b" points="1124.8,353.2 1131.8,349.2 1131.8,330.2 1124.8,334.2"/>
<polygon class="b" points="1117.9,349.2 1124.8,353.2 1124.8,334.2 1117.9,330.2"/>
<line class="ln" x1="1120.2" y1="350.5" x2="1120.2" y2="331.5"/>
<line class="ln" x1="1122.5" y1="351.9" x2="1122.5" y2="332.9"/>
<line class="ln" x1="1126.6" y1="352.2" x2="1126.6" y2="333.2"/>
<line class="ln" x1="1128.3" y1="351.2" x2="1128.3" y2="332.2"/>
<line class="ln" x1="1130.0" y1="350.2" x2="1130.0" y2="331.2"/>
<polygon class="b" points="1094.1,372.7 1136.5,353.7 1136.5,371.2 1131.5,374.2 1131.5,369.2 1126.5,371.7 1125.5,377.2 1094.1,395.2"/>
<polygon class="b" points="1072.8,358.2 1111.5,339.2 1136.5,353.7 1094.1,372.7"/>
<line class="d" x1="1072.8" y1="358.2" x2="1094.1" y2="372.7"/>
<line class="l" x1="1075.0" y1="356.9" x2="1095.5" y2="370.9"/>
<line class="lt" x1="1072.8" y1="358.2" x2="1111.5" y2="339.2"/>
<line class="ln" x1="1117.5" y1="377.2" x2="1117.5" y2="387.2"/>
<line class="d" x1="1097.5" y1="388.2" x2="1106.5" y2="383.2"/>
<line class="ln" x1="1097.5" y1="391.2" x2="1106.5" y2="386.2"/>
<polygon class="b" points="1058.4,365.7 1072.8,358.2 1094.1,372.3 1079.1,379.7"/>
<polygon class="b" points="1058.4,365.7 1079.1,379.7 1079.1,382.7 1058.4,368.7"/>
<polygon class="b" points="1079.1,379.7 1094.1,372.3 1094.1,375.3 1079.1,382.7"/>
<line class="d" x1="1079.1" y1="379.7" x2="1094.1" y2="372.3"/>
<line class="ln" x1="1060.5" y1="370.2" x2="1060.5" y2="388.2"/>
<line class="l" x1="1065.5" y1="373.2" x2="1065.5" y2="393.2"/>
<line class="ln" x1="1057.5" y1="386.2" x2="1062.5" y2="389.2"/>
<line class="ln" x1="1057.5" y1="378.2" x2="1062.5" y2="381.2"/>
<polygon class="b" points="1077.9,386.2 1077.9,399.2 1082.4,401.7 1086.9,399.2 1086.9,386.2 1082.4,388.7"/>
<polygon class="d" points="1077.9,386.2 1082.4,383.7 1086.9,386.2 1082.4,388.7"/>
<line class="h" x1="1079.5" y1="389.2" x2="1079.5" y2="399.2"/>
<line class="h" x1="1082.5" y1="390.2" x2="1082.5" y2="400.7"/>
<line class="h" x1="1085.1" y1="389.2" x2="1085.1" y2="399.7"/>
<polygon class="ln" points="1077.9,400.7 1082.4,398.2 1086.9,400.7 1082.4,403.2"/>
<polygon class="b" points="1236.2,398.5 1243.1,402.5 1250.1,398.5 1243.1,394.5"/>
<polygon class="b" points="1243.1,421.5 1250.1,417.5 1250.1,398.5 1243.1,402.5"/>
<polygon class="b" points="1236.2,417.5 1243.1,421.5 1243.1,402.5 1236.2,398.5"/>
<line class="ln" x1="1238.5" y1="418.8" x2="1238.5" y2="399.8"/>
<line class="ln" x1="1240.8" y1="420.2" x2="1240.8" y2="401.2"/>
<line class="ln" x1="1244.9" y1="420.5" x2="1244.9" y2="401.5"/>
<line class="ln" x1="1246.6" y1="419.5" x2="1246.6" y2="400.5"/>
<line class="ln" x1="1248.3" y1="418.5" x2="1248.3" y2="399.5"/>
<polygon class="b" points="1212.4,441.0 1254.8,422.0 1254.8,439.5 1249.8,442.5 1249.8,437.5 1244.8,440.0 1243.8,445.5 1212.4,463.5"/>
<polygon class="b" points="1191.1,426.5 1229.8,407.5 1254.8,422.0 1212.4,441.0"/>
<line class="d" x1="1191.1" y1="426.5" x2="1212.4" y2="441.0"/>
<line class="l" x1="1193.3" y1="425.2" x2="1213.8" y2="439.2"/>
<line class="lt" x1="1191.1" y1="426.5" x2="1229.8" y2="407.5"/>
<line class="ln" x1="1235.8" y1="445.5" x2="1235.8" y2="455.5"/>
<line class="d" x1="1215.8" y1="456.5" x2="1224.8" y2="451.5"/>
<line class="ln" x1="1215.8" y1="459.5" x2="1224.8" y2="454.5"/>
<polygon class="b" points="1176.7,434.0 1191.1,426.5 1212.4,440.6 1197.4,448.0"/>
<polygon class="b" points="1176.7,434.0 1197.4,448.0 1197.4,451.0 1176.7,437.0"/>
<polygon class="b" points="1197.4,448.0 1212.4,440.6 1212.4,443.6 1197.4,451.0"/>
<line class="d" x1="1197.4" y1="448.0" x2="1212.4" y2="440.6"/>
<line class="ln" x1="1178.8" y1="438.5" x2="1178.8" y2="456.5"/>
<line class="l" x1="1183.8" y1="441.5" x2="1183.8" y2="461.5"/>
<line class="ln" x1="1175.8" y1="454.5" x2="1180.8" y2="457.5"/>
<line class="ln" x1="1175.8" y1="446.5" x2="1180.8" y2="449.5"/>
<polygon class="b" points="1196.2,454.5 1196.2,467.5 1200.7,470.0 1205.2,467.5 1205.2,454.5 1200.7,457.0"/>
<polygon class="d" points="1196.2,454.5 1200.7,452.0 1205.2,454.5 1200.7,457.0"/>
<line class="h" x1="1197.8" y1="457.5" x2="1197.8" y2="467.5"/>
<line class="h" x1="1200.8" y1="458.5" x2="1200.8" y2="469.0"/>
<line class="h" x1="1203.4" y1="457.5" x2="1203.4" y2="468.0"/>
<polygon class="ln" points="1196.2,469.0 1200.7,466.5 1205.2,469.0 1200.7,471.5"/>
<polygon class="b" points="1354.5,466.8 1361.4,470.8 1368.4,466.8 1361.4,462.8"/>
<polygon class="b" points="1361.4,489.8 1368.4,485.8 1368.4,466.8 1361.4,470.8"/>
<polygon class="b" points="1354.5,485.8 1361.4,489.8 1361.4,470.8 1354.5,466.8"/>
<line class="ln" x1="1356.8" y1="487.1" x2="1356.8" y2="468.1"/>
<line class="ln" x1="1359.1" y1="488.5" x2="1359.1" y2="469.5"/>
<line class="ln" x1="1363.2" y1="488.8" x2="1363.2" y2="469.8"/>
<line class="ln" x1="1364.9" y1="487.8" x2="1364.9" y2="468.8"/>
<line class="ln" x1="1366.6" y1="486.8" x2="1366.6" y2="467.8"/>
<polygon class="b" points="1330.7,509.3 1373.1,490.3 1373.1,507.8 1368.1,510.8 1368.1,505.8 1363.1,508.3 1362.1,513.8 1330.7,531.8"/>
<polygon class="b" points="1309.4,494.8 1348.1,475.8 1373.1,490.3 1330.7,509.3"/>
<line class="d" x1="1309.4" y1="494.8" x2="1330.7" y2="509.3"/>
<line class="l" x1="1311.6" y1="493.5" x2="1332.1" y2="507.5"/>
<line class="lt" x1="1309.4" y1="494.8" x2="1348.1" y2="475.8"/>
<line class="ln" x1="1354.1" y1="513.8" x2="1354.1" y2="523.8"/>
<line class="d" x1="1334.1" y1="524.8" x2="1343.1" y2="519.8"/>
<line class="ln" x1="1334.1" y1="527.8" x2="1343.1" y2="522.8"/>
<polygon class="b" points="1295.0,502.3 1309.4,494.8 1330.7,508.9 1315.7,516.3"/>
<polygon class="b" points="1295.0,502.3 1315.7,516.3 1315.7,519.3 1295.0,505.3"/>
<polygon class="b" points="1315.7,516.3 1330.7,508.9 1330.7,511.9 1315.7,519.3"/>
<line class="d" x1="1315.7" y1="516.3" x2="1330.7" y2="508.9"/>
<line class="ln" x1="1297.1" y1="506.8" x2="1297.1" y2="524.8"/>
<line class="l" x1="1302.1" y1="509.8" x2="1302.1" y2="529.8"/>
<line class="ln" x1="1294.1" y1="522.8" x2="1299.1" y2="525.8"/>
<line class="ln" x1="1294.1" y1="514.8" x2="1299.1" y2="517.8"/>
<polygon class="b" points="1314.5,522.8 1314.5,535.8 1319.0,538.3 1323.5,535.8 1323.5,522.8 1319.0,525.3"/>
<polygon class="d" points="1314.5,522.8 1319.0,520.3 1323.5,522.8 1319.0,525.3"/>
<line class="h" x1="1316.1" y1="525.8" x2="1316.1" y2="535.8"/>
<line class="h" x1="1319.1" y1="526.8" x2="1319.1" y2="537.3"/>
<line class="h" x1="1321.7" y1="525.8" x2="1321.7" y2="536.3"/>
<polygon class="ln" points="1314.5,537.3 1319.0,534.8 1323.5,537.3 1319.0,539.8"/>
<polygon class="l" points="940.7,231.5 949.2,236.4 949.2,291.9 940.7,286.9"/>
<polygon class="l" points="949.2,236.4 957.2,231.9 957.2,287.9 949.2,291.9"/>
<line class="lt" x1="945.2" y1="233.9" x2="945.2" y2="288.9"/>
<line class="lt" x1="953.2" y1="234.9" x2="953.2" y2="289.9"/>
<line class="l" x1="957.2" y1="287.9" x2="957.2" y2="290.9"/>
<polygon class="b" points="881.3,193.6 888.2,197.6 895.2,193.6 888.2,189.6"/>
<polygon class="b" points="888.2,216.6 895.2,212.6 895.2,193.6 888.2,197.6"/>
<polygon class="b" points="881.3,212.6 888.2,216.6 888.2,197.6 881.3,193.6"/>
<line class="ln" x1="883.6" y1="213.9" x2="883.6" y2="194.9"/>
<line class="ln" x1="885.9" y1="215.3" x2="885.9" y2="196.3"/>
<line class="ln" x1="890.0" y1="215.6" x2="890.0" y2="196.6"/>
<line class="ln" x1="891.7" y1="214.6" x2="891.7" y2="195.6"/>
<line class="ln" x1="893.4" y1="213.6" x2="893.4" y2="194.6"/>
<polygon class="b" points="857.5,236.1 899.9,217.1 899.9,234.6 894.9,237.6 894.9,232.6 889.9,235.1 888.9,240.6 857.5,258.6"/>
<polygon class="b" points="836.2,221.6 874.9,202.6 899.9,217.1 857.5,236.1"/>
<line class="d" x1="836.2" y1="221.6" x2="857.5" y2="236.1"/>
<line class="l" x1="838.4" y1="220.3" x2="858.9" y2="234.3"/>
<line class="lt" x1="836.2" y1="221.6" x2="874.9" y2="202.6"/>
<line class="ln" x1="880.9" y1="240.6" x2="880.9" y2="250.6"/>
<line class="d" x1="860.9" y1="251.6" x2="869.9" y2="246.6"/>
<line class="ln" x1="860.9" y1="254.6" x2="869.9" y2="249.6"/>
<polygon class="lt" points="824.9,160.6 850.9,175.6 850.9,198.6 824.9,183.6"/>
<line class="l" x1="824.9" y1="160.6" x2="850.9" y2="175.6"/>
<polygon class="ln" points="842.9,176.6 847.9,179.6 847.9,198.6 842.9,195.6"/>
<polygon class="d" points="822.3,182.6 849.6,198.4 849.6,200.4 822.3,184.6"/>
<polygon class="d" points="822.3,190.6 849.6,206.4 849.6,208.4 822.3,192.6"/>
<polygon class="d" points="822.3,198.6 849.6,214.4 849.6,216.4 822.3,200.6"/>
<polygon class="d" points="822.3,206.6 849.6,222.4 849.6,224.4 822.3,208.6"/>
<polygon class="d" points="822.3,216.6 849.6,232.4 849.6,234.4 822.3,218.6"/>
<line class="lt" x1="824.9" y1="185.6" x2="824.9" y2="227.6"/>
<line class="ln" x1="836.9" y1="193.6" x2="836.9" y2="231.6"/>
<polygon class="b" points="821.8,229.1 836.2,221.6 857.5,235.7 842.5,243.1"/>
<polygon class="b" points="821.8,229.1 842.5,243.1 842.5,246.1 821.8,232.1"/>
<polygon class="b" points="842.5,243.1 857.5,235.7 857.5,238.7 842.5,246.1"/>
<line class="d" x1="842.5" y1="243.1" x2="857.5" y2="235.7"/>
<line class="ln" x1="823.9" y1="233.6" x2="823.9" y2="251.6"/>
<line class="l" x1="828.9" y1="236.6" x2="828.9" y2="256.6"/>
<line class="ln" x1="820.9" y1="249.6" x2="825.9" y2="252.6"/>
<line class="ln" x1="820.9" y1="241.6" x2="825.9" y2="244.6"/>
<polygon class="b" points="841.3,249.6 841.3,262.6 845.8,265.1 850.3,262.6 850.3,249.6 845.8,252.1"/>
<polygon class="d" points="841.3,249.6 845.8,247.1 850.3,249.6 845.8,252.1"/>
<line class="h" x1="842.9" y1="252.6" x2="842.9" y2="262.6"/>
<line class="h" x1="845.9" y1="253.6" x2="845.9" y2="264.1"/>
<line class="h" x1="848.5" y1="252.6" x2="848.5" y2="263.1"/>
<polygon class="ln" points="841.3,264.1 845.8,261.6 850.3,264.1 845.8,266.6"/>
<polygon class="b" points="822.3,227.6 836.9,219.6 857.7,231.6 845.5,242.3"/>
<line class="d" x1="714.0" y1="191.0" x2="714.0" y2="240.7"/>
<line class="ln" x1="704.6" y1="235.5" x2="714.0" y2="240.7"/>
<line class="lt" x1="714.0" y1="240.7" x2="767.0" y2="213.3"/>
<line class="lt" x1="767.0" y1="165.3" x2="767.0" y2="213.3"/>
<polygon class="b" points="708.9,163.5 739.7,181.3 739.7,189.3 708.9,171.5"/>
<line class="ln" x1="708.9" y1="163.5" x2="708.9" y2="189.3"/>
<line class="l" x1="711.6" y1="167.3" x2="711.6" y2="188.3"/>
<polygon class="lt" points="708.6,89.8 736.3,105.8 736.3,130.3 708.6,114.3"/>
<polygon class="d" points="704.6,105.3 736.3,123.6 736.3,125.6 704.6,107.3"/>
<polygon class="d" points="704.6,115.3 736.3,133.6 736.3,135.6 704.6,117.3"/>
<polygon class="d" points="704.6,123.7 736.3,142.0 736.3,144.0 704.6,125.7"/>
<polygon class="d" points="704.6,132.3 736.3,150.6 736.3,152.6 704.6,134.3"/>
<polygon class="d" points="704.6,141.3 736.3,159.6 736.3,161.6 704.6,143.3"/>
<polygon class="b" points="706.6,143.3 736.3,160.3 736.3,170.3 706.6,153.3"/>
<line class="d" x1="736.3" y1="105.3" x2="736.3" y2="159.3"/>
<line class="ln" x1="738.9" y1="103.3" x2="738.9" y2="158.3"/>
<polygon class="b" points="739.7,140.3 748.6,145.3 748.6,158.3 739.7,153.3"/>
<polygon class="b" points="748.6,145.3 758.6,139.3 758.6,152.3 748.6,158.3"/>
<polygon class="b" points="739.7,140.3 749.6,134.3 758.6,139.3 748.6,145.3"/>
<line class="ln" x1="741.6" y1="144.3" x2="741.6" y2="156.3"/>
<line class="ln" x1="744.1" y1="144.3" x2="744.1" y2="156.3"/>
<line class="ln" x1="746.6" y1="144.3" x2="746.6" y2="156.3"/>
<line class="ln" x1="750.6" y1="146.1" x2="750.6" y2="158.1"/>
<line class="ln" x1="753.6" y1="144.3" x2="753.6" y2="156.3"/>
<line class="ln" x1="756.6" y1="142.5" x2="756.6" y2="154.5"/>
<polygon class="b" points="732.9,160.1 774.6,136.3 784.6,145.3 739.7,168.7"/>
<polygon class="b" points="739.7,168.7 784.6,145.3 784.6,149.3 739.7,172.7"/>
<line class="d" x1="740.6" y1="172.7" x2="740.6" y2="191.0"/>
<line class="d" x1="780.0" y1="147.8" x2="780.0" y2="168.5"/>
<polygon class="b" points="724.3,180.3 724.3,195.3 729.5,197.9 734.6,195.3 734.6,180.3 729.5,182.9"/>
<polygon class="d" points="724.3,180.3 729.5,177.7 734.6,180.3 729.5,182.9"/>
<line class="h" x1="727.1" y1="182.3" x2="727.1" y2="195.3"/>
<line class="h" x1="731.6" y1="182.3" x2="731.6" y2="195.3"/>
<polygon class="lt2" style="fill:#f5f5f5" points="1023.8,850.8 1049.0,837.5 1049.0,822.8 1023.8,835.8"/>
<line class="lt2" x1="1026.3" y1="849.5" x2="1026.3" y2="835.0"/>
<line class="lt2" x1="1028.8" y1="848.1" x2="1028.8" y2="833.6"/>
<line class="lt2" x1="1031.4" y1="846.8" x2="1031.4" y2="832.3"/>
<line class="lt2" x1="1033.9" y1="845.5" x2="1033.9" y2="831.0"/>
<line class="lt2" x1="1036.4" y1="844.1" x2="1036.4" y2="829.6"/>
<line class="lt2" x1="1038.9" y1="842.8" x2="1038.9" y2="828.3"/>
<line class="lt2" x1="1041.4" y1="841.5" x2="1041.4" y2="827.0"/>
<line class="lt2" x1="1044.0" y1="840.2" x2="1044.0" y2="825.7"/>
<line class="lt2" x1="1046.5" y1="838.8" x2="1046.5" y2="824.3"/>
<polygon class="lt" points="1052.7,873.9 1077.2,857.5 1077.2,877.5 1052.7,892.1"/>
<polygon class="b" points="1022.7,853.9 1052.7,873.9 1052.7,892.1 1045.8,888.3 1043.8,882.8 1039.8,879.8 1038.8,873.8 1034.8,871.8 1034.8,879.8 1022.7,875.8"/>
<line class="d" x1="1025.8" y1="861.8" x2="1037.8" y2="868.8"/>
<line class="ln" x1="1025.8" y1="856.8" x2="1025.8" y2="862.8"/>
<line class="d" x1="1041.8" y1="874.8" x2="1041.8" y2="883.8"/>
<polygon class="b" points="1022.7,850.3 1049.0,837.5 1077.2,853.9 1052.7,870.3"/>
<polygon class="b" points="1022.7,850.3 1052.7,870.3 1052.7,873.9 1022.7,853.9"/>
<polygon class="lt" points="1052.7,870.3 1077.2,853.9 1077.2,857.5 1052.7,873.9"/>
<line class="d" x1="1022.7" y1="850.3" x2="1052.7" y2="870.3"/>
<line class="ln" x1="1017.8" y1="849.8" x2="1017.8" y2="869.8"/>
<line class="l" x1="1019.8" y1="848.8" x2="1019.8" y2="868.8"/>
<line class="ln" x1="1013.8" y1="858.8" x2="1018.8" y2="861.8"/>
<line class="ln" x1="1013.8" y1="866.8" x2="1018.8" y2="869.8"/>
<polygon class="lt2" style="fill:#f5f5f5" points="1117.3,796.9 1142.5,783.6 1142.5,768.9 1117.3,781.9"/>
<line class="lt2" x1="1119.8" y1="795.6" x2="1119.8" y2="781.1"/>
<line class="lt2" x1="1122.3" y1="794.2" x2="1122.3" y2="779.7"/>
<line class="lt2" x1="1124.9" y1="792.9" x2="1124.9" y2="778.4"/>
<line class="lt2" x1="1127.4" y1="791.6" x2="1127.4" y2="777.1"/>
<line class="lt2" x1="1129.9" y1="790.2" x2="1129.9" y2="775.8"/>
<line class="lt2" x1="1132.4" y1="788.9" x2="1132.4" y2="774.4"/>
<line class="lt2" x1="1134.9" y1="787.6" x2="1134.9" y2="773.1"/>
<line class="lt2" x1="1137.5" y1="786.3" x2="1137.5" y2="771.8"/>
<line class="lt2" x1="1140.0" y1="784.9" x2="1140.0" y2="770.4"/>
<polygon class="lt" points="1146.2,820.0 1170.7,803.6 1170.7,823.6 1146.2,838.2"/>
<polygon class="b" points="1116.2,800.0 1146.2,820.0 1146.2,838.2 1139.3,834.4 1137.3,828.9 1133.3,825.9 1132.3,819.9 1128.3,817.9 1128.3,825.9 1116.2,821.9"/>
<line class="d" x1="1119.3" y1="807.9" x2="1131.3" y2="814.9"/>
<line class="ln" x1="1119.3" y1="802.9" x2="1119.3" y2="808.9"/>
<line class="d" x1="1135.3" y1="820.9" x2="1135.3" y2="829.9"/>
<polygon class="b" points="1116.2,796.4 1142.5,783.6 1170.7,800.0 1146.2,816.4"/>
<polygon class="b" points="1116.2,796.4 1146.2,816.4 1146.2,820.0 1116.2,800.0"/>
<polygon class="lt" points="1146.2,816.4 1170.7,800.0 1170.7,803.6 1146.2,820.0"/>
<line class="d" x1="1116.2" y1="796.4" x2="1146.2" y2="816.4"/>
<line class="ln" x1="1111.3" y1="795.9" x2="1111.3" y2="815.9"/>
<line class="l" x1="1113.3" y1="794.9" x2="1113.3" y2="814.9"/>
<line class="ln" x1="1107.3" y1="804.9" x2="1112.3" y2="807.9"/>
<line class="ln" x1="1107.3" y1="812.9" x2="1112.3" y2="815.9"/>
<polygon class="lt2" style="fill:#f5f5f5" points="1210.8,743.0 1236.0,729.7 1236.0,715.0 1210.8,728.0"/>
<line class="lt2" x1="1213.3" y1="741.7" x2="1213.3" y2="727.2"/>
<line class="lt2" x1="1215.8" y1="740.3" x2="1215.8" y2="725.8"/>
<line class="lt2" x1="1218.4" y1="739.0" x2="1218.4" y2="724.5"/>
<line class="lt2" x1="1220.9" y1="737.7" x2="1220.9" y2="723.2"/>
<line class="lt2" x1="1223.4" y1="736.4" x2="1223.4" y2="721.9"/>
<line class="lt2" x1="1225.9" y1="735.0" x2="1225.9" y2="720.5"/>
<line class="lt2" x1="1228.4" y1="733.7" x2="1228.4" y2="719.2"/>
<line class="lt2" x1="1231.0" y1="732.4" x2="1231.0" y2="717.9"/>
<line class="lt2" x1="1233.5" y1="731.0" x2="1233.5" y2="716.5"/>
<polygon class="lt" points="1239.7,766.1 1264.2,749.7 1264.2,769.7 1239.7,784.3"/>
<polygon class="b" points="1209.7,746.1 1239.7,766.1 1239.7,784.3 1232.8,780.5 1230.8,775.0 1226.8,772.0 1225.8,766.0 1221.8,764.0 1221.8,772.0 1209.7,768.0"/>
<line class="d" x1="1212.8" y1="754.0" x2="1224.8" y2="761.0"/>
<line class="ln" x1="1212.8" y1="749.0" x2="1212.8" y2="755.0"/>
<line class="d" x1="1228.8" y1="767.0" x2="1228.8" y2="776.0"/>
<polygon class="b" points="1209.7,742.5 1236.0,729.7 1264.2,746.1 1239.7,762.5"/>
<polygon class="b" points="1209.7,742.5 1239.7,762.5 1239.7,766.1 1209.7,746.1"/>
<polygon class="lt" points="1239.7,762.5 1264.2,746.1 1264.2,749.7 1239.7,766.1"/>
<line class="d" x1="1209.7" y1="742.5" x2="1239.7" y2="762.5"/>
<line class="ln" x1="1204.8" y1="742.0" x2="1204.8" y2="762.0"/>
<line class="l" x1="1206.8" y1="741.0" x2="1206.8" y2="761.0"/>
<line class="ln" x1="1200.8" y1="751.0" x2="1205.8" y2="754.0"/>
<line class="ln" x1="1200.8" y1="759.0" x2="1205.8" y2="762.0"/>
<polygon class="lt2" style="fill:#f5f5f5" points="1304.3,689.1 1329.5,675.8 1329.5,661.1 1304.3,674.1"/>
<line class="lt2" x1="1306.8" y1="687.8" x2="1306.8" y2="673.3"/>
<line class="lt2" x1="1309.3" y1="686.4" x2="1309.3" y2="671.9"/>
<line class="lt2" x1="1311.9" y1="685.1" x2="1311.9" y2="670.6"/>
<line class="lt2" x1="1314.4" y1="683.8" x2="1314.4" y2="669.3"/>
<line class="lt2" x1="1316.9" y1="682.4" x2="1316.9" y2="667.9"/>
<line class="lt2" x1="1319.4" y1="681.1" x2="1319.4" y2="666.6"/>
<line class="lt2" x1="1321.9" y1="679.8" x2="1321.9" y2="665.3"/>
<line class="lt2" x1="1324.5" y1="678.5" x2="1324.5" y2="664.0"/>
<line class="lt2" x1="1327.0" y1="677.1" x2="1327.0" y2="662.6"/>
<polygon class="lt" points="1333.2,712.2 1357.7,695.8 1357.7,715.8 1333.2,730.4"/>
<polygon class="b" points="1303.2,692.2 1333.2,712.2 1333.2,730.4 1326.3,726.6 1324.3,721.1 1320.3,718.1 1319.3,712.1 1315.3,710.1 1315.3,718.1 1303.2,714.1"/>
<line class="d" x1="1306.3" y1="700.1" x2="1318.3" y2="707.1"/>
<line class="ln" x1="1306.3" y1="695.1" x2="1306.3" y2="701.1"/>
<line class="d" x1="1322.3" y1="713.1" x2="1322.3" y2="722.1"/>
<polygon class="b" points="1303.2,688.6 1329.5,675.8 1357.7,692.2 1333.2,708.6"/>
<polygon class="b" points="1303.2,688.6 1333.2,708.6 1333.2,712.2 1303.2,692.2"/>
<polygon class="lt" points="1333.2,708.6 1357.7,692.2 1357.7,695.8 1333.2,712.2"/>
<line class="d" x1="1303.2" y1="688.6" x2="1333.2" y2="708.6"/>
<line class="ln" x1="1298.3" y1="688.1" x2="1298.3" y2="708.1"/>
<line class="l" x1="1300.3" y1="687.1" x2="1300.3" y2="707.1"/>
<line class="ln" x1="1294.3" y1="697.1" x2="1299.3" y2="700.1"/>
<line class="ln" x1="1294.3" y1="705.1" x2="1299.3" y2="708.1"/>
<line class="lt" x1="90.0" y1="554.0" x2="90.0" y2="594.0"/>
<line class="lt" x1="144.0" y1="536.0" x2="144.0" y2="574.0"/>
<line class="lt" x1="90.0" y1="594.0" x2="144.0" y2="574.0"/>
<polygon class="l" points="46.0,634.0 114.0,578.0 119.0,581.0 54.0,638.0"/>
<line class="lt" x1="50.0" y1="636.0" x2="116.0" y2="579.5"/>
<polygon class="b" points="30.0,558.0 84.0,527.0 112.0,540.0 54.0,572.0"/>
<polygon class="b" points="30.0,558.0 54.0,572.0 54.0,574.5 30.0,560.5"/>
<polygon class="d" points="54.0,572.0 112.0,540.0 112.0,542.5 54.0,574.5"/>
<line class="d" x1="105.6" y1="539.5" x2="105.6" y2="559.0"/>
<line class="l" x1="107.5" y1="538.5" x2="107.5" y2="558.0"/>
<line class="d" x1="139.5" y1="520.0" x2="139.5" y2="540.0"/>
<line class="d" x1="146.0" y1="512.0" x2="146.0" y2="535.0"/>
<polygon class="b" points="81.4,521.8 112.0,504.0 157.3,508.0 105.6,535.5"/>
<polygon class="b" points="81.4,521.8 105.6,535.5 105.6,539.5 81.4,525.8"/>
<polygon class="d" points="105.6,535.5 157.3,508.0 157.3,512.0 105.6,539.5"/>
<polygon class="b" style="fill:#d6d6d6" points="108.0,441.3 130.0,454.0 147.6,443.8 125.6,431.1"/>
<polygon class="b" style="fill:#dedede" points="130.0,508.0 147.6,497.8 147.6,443.8 130.0,454.0"/>
<polygon class="b" style="fill:#fff" points="108.0,495.3 130.0,508.0 130.0,454.0 108.0,441.3"/>
<line class="d" x1="130.0" y1="494.5" x2="147.6" y2="484.3"/>
<line class="d" x1="130.0" y1="481.0" x2="147.6" y2="470.8"/>
<line class="d" x1="130.0" y1="467.5" x2="147.6" y2="457.3"/>
<line class="d" x1="135.9" y1="504.6" x2="135.9" y2="450.6"/>
<line class="d" x1="141.7" y1="501.2" x2="141.7" y2="447.2"/>
<line class="h" x1="110.8" y1="442.9" x2="128.4" y2="432.7"/>
<line class="h" x1="113.5" y1="444.5" x2="131.1" y2="434.3"/>
<line class="h" x1="116.3" y1="446.1" x2="133.9" y2="435.9"/>
<line class="h" x1="119.0" y1="447.6" x2="136.6" y2="437.5"/>
<line class="h" x1="121.8" y1="449.2" x2="139.4" y2="439.1"/>
<line class="h" x1="124.5" y1="450.8" x2="142.1" y2="440.7"/>
<line class="h" x1="127.3" y1="452.4" x2="144.9" y2="442.3"/>
<polygon class="ln" style="fill:#d9d9d9" points="118.4,501.3 130.0,508.0 130.0,486.6 118.4,479.9"/>
<line class="h" x1="120.3" y1="502.4" x2="120.3" y2="481.0"/>
<line class="h" x1="122.3" y1="503.5" x2="122.3" y2="482.1"/>
<line class="h" x1="124.2" y1="504.6" x2="124.2" y2="483.2"/>
<line class="h" x1="126.2" y1="505.8" x2="126.2" y2="484.4"/>
<line class="h" x1="128.1" y1="506.9" x2="128.1" y2="485.5"/>
<line class="l" x1="111.5" y1="475.9" x2="111.5" y2="443.3"/>
<line class="l" x1="115.0" y1="477.9" x2="115.0" y2="445.3"/>
<line class="ln" x1="150.0" y1="447.0" x2="150.0" y2="532.0"/>
<line class="ln" x1="155.0" y1="444.0" x2="155.0" y2="531.0"/>
<line class="ln" x1="147.6" y1="470.0" x2="157.3" y2="465.0"/>
<line class="ln" x1="147.6" y1="492.0" x2="157.3" y2="487.0"/>
<line class="ln" x1="147.6" y1="515.0" x2="157.3" y2="510.0"/>
<line class="d" x1="152.0" y1="535.0" x2="152.0" y2="553.0"/>
<line class="ln" x1="157.0" y1="532.0" x2="157.0" y2="550.0"/>
<polygon class="b" points="148.0,626.0 200.0,598.0 276.0,574.0 224.0,602.0 172.0,640.0"/>
<polygon class="b" points="148.0,626.0 172.0,640.0 172.0,642.5 148.0,628.5"/>
<polygon class="d" points="172.0,640.0 276.0,574.0 276.0,576.5 172.0,642.5"/>
<polygon class="b" style="fill:#e4e4e4" points="200.0,590.0 222.0,602.0 222.0,614.0 200.0,602.0"/>
<line class="h" x1="202.8" y1="591.5" x2="202.8" y2="603.5"/>
<line class="h" x1="205.5" y1="593.0" x2="205.5" y2="605.0"/>
<line class="h" x1="208.2" y1="594.5" x2="208.2" y2="606.5"/>
<line class="h" x1="211.0" y1="596.0" x2="211.0" y2="608.0"/>
<line class="h" x1="213.8" y1="597.5" x2="213.8" y2="609.5"/>
<line class="h" x1="216.5" y1="599.0" x2="216.5" y2="611.0"/>
<line class="h" x1="219.2" y1="600.5" x2="219.2" y2="612.5"/>
<polygon class="b" points="200.0,590.0 238.0,566.0 266.0,580.0 222.0,602.0"/>
<line class="d" x1="222.0" y1="602.0" x2="268.0" y2="576.0"/>
<polygon class="b" style="fill:#e0e0e0" points="240.0,562.0 253.0,569.0 253.0,577.0 240.0,570.0"/>
<polygon class="b" points="253.0,569.0 266.0,561.0 266.0,569.0 253.0,577.0"/>
<polygon class="b" points="240.0,562.0 253.0,554.0 266.0,561.0 253.0,569.0"/>
<line class="h" x1="242.2" y1="563.2" x2="242.2" y2="571.2"/>
<line class="h" x1="244.3" y1="564.3" x2="244.3" y2="572.3"/>
<line class="h" x1="246.5" y1="565.5" x2="246.5" y2="573.5"/>
<line class="h" x1="248.7" y1="566.7" x2="248.7" y2="574.7"/>
<line class="h" x1="250.8" y1="567.8" x2="250.8" y2="575.8"/>
<line class="ln" x1="266.0" y1="561.0" x2="272.0" y2="564.0"/>
<line class="ln" x1="272.0" y1="564.0" x2="272.0" y2="572.0"/>
<line class="d" x1="222.0" y1="604.0" x2="222.0" y2="626.0"/>
<line class="l" x1="224.0" y1="603.0" x2="224.0" y2="625.0"/>
<line class="d" x1="242.0" y1="594.0" x2="242.0" y2="616.0"/>
<line class="ln" x1="264.0" y1="584.0" x2="264.0" y2="604.0"/>
<line class="ln" x1="268.0" y1="578.0" x2="268.0" y2="600.0"/>
<line class="ln" x1="272.0" y1="576.0" x2="272.0" y2="598.0"/>
<line class="ln" x1="268.0" y1="584.0" x2="276.0" y2="580.0"/>
<line class="ln" x1="268.0" y1="592.0" x2="276.0" y2="588.0"/>
<line class="ln" x1="268.0" y1="598.0" x2="276.0" y2="594.0"/>
<polygon class="b" points="315.5,661.9 339.0,675.5 359.8,663.5 336.3,649.9"/>
<polygon class="b" points="339.0,694.5 359.8,682.5 359.8,663.5 339.0,675.5"/>
<polygon class="b" points="315.5,680.9 339.0,694.5 339.0,675.5 315.5,661.9"/>
<polygon class="ln" points="338.6,683.4 338.6,697.4 342.6,695.4 343.6,689.4 346.6,687.4 346.6,681.4"/>
<line class="l" x1="315.6" y1="675.4" x2="338.6" y2="689.4"/>
<polygon class="b" style="fill:#dedede" points="319.7,650.9 331.8,657.9 348.3,648.4 336.1,641.4"/>
<polygon class="b" points="331.8,668.9 348.3,659.4 348.3,648.4 331.8,657.9"/>
<polygon class="b" style="fill:#e6e6e6" points="319.7,661.9 331.8,668.9 331.8,657.9 319.7,650.9"/>
<line class="h" x1="320.9" y1="651.6" x2="337.3" y2="642.1"/>
<line class="h" x1="322.1" y1="652.3" x2="338.6" y2="642.8"/>
<line class="h" x1="323.3" y1="653.0" x2="339.8" y2="643.5"/>
<line class="h" x1="324.5" y1="653.7" x2="341.0" y2="644.2"/>
<line class="h" x1="325.7" y1="654.4" x2="342.2" y2="644.9"/>
<line class="h" x1="327.0" y1="655.1" x2="343.4" y2="645.6"/>
<line class="h" x1="328.2" y1="655.8" x2="344.6" y2="646.3"/>
<line class="h" x1="329.4" y1="656.5" x2="345.8" y2="647.0"/>
<line class="h" x1="330.6" y1="657.2" x2="347.0" y2="647.7"/>
<line class="h" x1="320.9" y1="662.6" x2="320.9" y2="651.6"/>
<line class="h" x1="322.1" y1="663.3" x2="322.1" y2="652.3"/>
<line class="h" x1="323.3" y1="664.0" x2="323.3" y2="653.0"/>
<line class="h" x1="324.5" y1="664.7" x2="324.5" y2="653.7"/>
<line class="h" x1="325.7" y1="665.4" x2="325.7" y2="654.4"/>
<line class="h" x1="327.0" y1="666.1" x2="327.0" y2="655.1"/>
<line class="h" x1="328.2" y1="666.8" x2="328.2" y2="655.8"/>
<line class="h" x1="329.4" y1="667.5" x2="329.4" y2="656.5"/>
<line class="h" x1="330.6" y1="668.2" x2="330.6" y2="657.2"/>
<polygon class="b" points="347.9,555.6 361.8,563.6 393.6,545.2 379.7,537.2"/>
<polygon class="b" points="361.8,683.6 393.6,665.2 393.6,545.2 361.8,563.6"/>
<polygon class="b" style="fill:#f1f1f1" points="347.9,675.6 361.8,683.6 361.8,563.6 347.9,555.6"/>
<line class="hl" x1="347.9" y1="672.3" x2="361.8" y2="680.3"/>
<line class="hl" x1="347.9" y1="668.9" x2="361.8" y2="676.9"/>
<line class="hl" x1="347.9" y1="665.6" x2="361.8" y2="673.6"/>
<line class="hl" x1="347.9" y1="662.3" x2="361.8" y2="670.3"/>
<line class="hl" x1="347.9" y1="658.9" x2="361.8" y2="666.9"/>
<line class="hl" x1="347.9" y1="655.6" x2="361.8" y2="663.6"/>
<line class="hl" x1="347.9" y1="652.3" x2="361.8" y2="660.3"/>
<line class="hl" x1="347.9" y1="648.9" x2="361.8" y2="656.9"/>
<line class="hl" x1="347.9" y1="645.6" x2="361.8" y2="653.6"/>
<line class="hl" x1="347.9" y1="642.3" x2="361.8" y2="650.3"/>
<line class="hl" x1="347.9" y1="638.9" x2="361.8" y2="646.9"/>
<line class="hl" x1="347.9" y1="635.6" x2="361.8" y2="643.6"/>
<line class="hl" x1="347.9" y1="632.3" x2="361.8" y2="640.3"/>
<line class="hl" x1="347.9" y1="628.9" x2="361.8" y2="636.9"/>
<line class="hl" x1="347.9" y1="625.6" x2="361.8" y2="633.6"/>
<line class="hl" x1="347.9" y1="622.3" x2="361.8" y2="630.3"/>
<line class="hl" x1="347.9" y1="618.9" x2="361.8" y2="626.9"/>
<line class="hl" x1="347.9" y1="615.6" x2="361.8" y2="623.6"/>
<line class="hl" x1="347.9" y1="612.3" x2="361.8" y2="620.3"/>
<line class="hl" x1="347.9" y1="608.9" x2="361.8" y2="616.9"/>
<line class="hl" x1="347.9" y1="605.6" x2="361.8" y2="613.6"/>
<line class="hl" x1="347.9" y1="602.3" x2="361.8" y2="610.3"/>
<line class="hl" x1="347.9" y1="598.9" x2="361.8" y2="606.9"/>
<line class="hl" x1="347.9" y1="595.6" x2="361.8" y2="603.6"/>
<line class="hl" x1="347.9" y1="592.3" x2="361.8" y2="600.3"/>
<line class="hl" x1="347.9" y1="588.9" x2="361.8" y2="596.9"/>
<line class="hl" x1="347.9" y1="585.6" x2="361.8" y2="593.6"/>
<line class="hl" x1="347.9" y1="582.3" x2="361.8" y2="590.3"/>
<line class="hl" x1="347.9" y1="578.9" x2="361.8" y2="586.9"/>
<line class="hl" x1="347.9" y1="575.6" x2="361.8" y2="583.6"/>
<line class="hl" x1="347.9" y1="572.3" x2="361.8" y2="580.3"/>
<line class="hl" x1="347.9" y1="568.9" x2="361.8" y2="576.9"/>
<line class="hl" x1="347.9" y1="565.6" x2="361.8" y2="573.6"/>
<line class="hl" x1="347.9" y1="562.3" x2="361.8" y2="570.3"/>
<line class="hl" x1="347.9" y1="558.9" x2="361.8" y2="566.9"/>
<line class="hl" x1="351.4" y1="677.6" x2="351.4" y2="557.6"/>
<line class="hl" x1="354.8" y1="679.6" x2="354.8" y2="559.6"/>
<line class="hl" x1="358.3" y1="681.6" x2="358.3" y2="561.6"/>
<line class="d" x1="361.8" y1="674.4" x2="393.6" y2="656.0"/>
<line class="d" x1="361.8" y1="665.1" x2="393.6" y2="646.8"/>
<line class="d" x1="361.8" y1="655.9" x2="393.6" y2="637.6"/>
<line class="d" x1="361.8" y1="646.7" x2="393.6" y2="628.3"/>
<line class="d" x1="361.8" y1="637.4" x2="393.6" y2="619.1"/>
<line class="d" x1="361.8" y1="628.2" x2="393.6" y2="609.9"/>
<line class="d" x1="361.8" y1="619.0" x2="393.6" y2="600.6"/>
<line class="d" x1="361.8" y1="609.8" x2="393.6" y2="591.4"/>
<line class="d" x1="361.8" y1="600.5" x2="393.6" y2="582.2"/>
<line class="d" x1="361.8" y1="591.3" x2="393.6" y2="572.9"/>
<line class="d" x1="361.8" y1="582.1" x2="393.6" y2="563.7"/>
<line class="d" x1="361.8" y1="572.8" x2="393.6" y2="554.5"/>
<line class="ln" x1="390.7" y1="666.9" x2="390.7" y2="546.9"/>
<line class="lt" x1="387.2" y1="668.9" x2="387.2" y2="548.9"/>
<line class="d" x1="393.6" y1="655.2" x2="401.1" y2="650.9"/>
<line class="d" x1="393.6" y1="645.2" x2="401.1" y2="640.9"/>
<line class="d" x1="393.6" y1="665.2" x2="393.6" y2="643.2"/>
<polygon class="b" points="433.8,732.8 457.4,746.4 511.5,715.1 488.0,701.5"/>
<polygon class="b" points="457.4,763.1 511.5,731.8 511.5,715.1 457.4,746.4"/>
<polygon class="b" points="433.8,749.5 457.4,763.1 457.4,746.4 433.8,732.8"/>
<polygon class="ln" points="459.9,754.7 459.9,761.7 462.9,759.7 463.9,753.7 466.9,751.7 466.9,745.7"/>
<line class="d" x1="475.9" y1="737.7" x2="485.9" y2="732.7"/>
<line class="d" x1="487.9" y1="731.7" x2="487.9" y2="741.7"/>
<line class="ln" x1="491.9" y1="729.7" x2="491.9" y2="739.7"/>
<polygon class="l" style="fill:#fff" points="454.3,617.0 467.2,624.4 500.6,605.1 487.8,597.7"/>
<polygon class="l" style="fill:#f1f1f1" points="467.2,731.0 500.6,711.7 500.6,605.1 467.2,624.4"/>
<polygon class="l" style="fill:#f3f3f3" points="454.3,723.6 467.2,731.0 467.2,624.4 454.3,617.0"/>
<line class="hl" x1="454.3" y1="720.0" x2="467.2" y2="727.4"/>
<line class="hl" x1="454.3" y1="716.5" x2="467.2" y2="723.9"/>
<line class="hl" x1="454.3" y1="712.9" x2="467.2" y2="720.3"/>
<line class="hl" x1="454.3" y1="709.4" x2="467.2" y2="716.8"/>
<line class="hl" x1="454.3" y1="705.8" x2="467.2" y2="713.2"/>
<line class="hl" x1="454.3" y1="702.3" x2="467.2" y2="709.7"/>
<line class="hl" x1="454.3" y1="698.7" x2="467.2" y2="706.1"/>
<line class="hl" x1="454.3" y1="695.2" x2="467.2" y2="702.6"/>
<line class="hl" x1="454.3" y1="691.6" x2="467.2" y2="699.0"/>
<line class="hl" x1="454.3" y1="688.1" x2="467.2" y2="695.5"/>
<line class="hl" x1="454.3" y1="684.5" x2="467.2" y2="691.9"/>
<line class="hl" x1="454.3" y1="681.0" x2="467.2" y2="688.4"/>
<line class="hl" x1="454.3" y1="677.4" x2="467.2" y2="684.8"/>
<line class="hl" x1="454.3" y1="673.9" x2="467.2" y2="681.3"/>
<line class="hl" x1="454.3" y1="670.3" x2="467.2" y2="677.7"/>
<line class="hl" x1="454.3" y1="666.7" x2="467.2" y2="674.1"/>
<line class="hl" x1="454.3" y1="663.2" x2="467.2" y2="670.6"/>
<line class="hl" x1="454.3" y1="659.6" x2="467.2" y2="667.0"/>
<line class="hl" x1="454.3" y1="656.1" x2="467.2" y2="663.5"/>
<line class="hl" x1="454.3" y1="652.5" x2="467.2" y2="659.9"/>
<line class="hl" x1="454.3" y1="649.0" x2="467.2" y2="656.4"/>
<line class="hl" x1="454.3" y1="645.4" x2="467.2" y2="652.8"/>
<line class="hl" x1="454.3" y1="641.9" x2="467.2" y2="649.3"/>
<line class="hl" x1="454.3" y1="638.3" x2="467.2" y2="645.7"/>
<line class="hl" x1="454.3" y1="634.8" x2="467.2" y2="642.2"/>
<line class="hl" x1="454.3" y1="631.2" x2="467.2" y2="638.6"/>
<line class="hl" x1="454.3" y1="627.7" x2="467.2" y2="635.1"/>
<line class="hl" x1="454.3" y1="624.1" x2="467.2" y2="631.5"/>
<line class="hl" x1="454.3" y1="620.6" x2="467.2" y2="628.0"/>
<line class="hl" x1="456.9" y1="725.1" x2="456.9" y2="618.5"/>
<line class="hl" x1="459.5" y1="726.6" x2="459.5" y2="620.0"/>
<line class="hl" x1="462.0" y1="728.0" x2="462.0" y2="621.4"/>
<line class="hl" x1="464.6" y1="729.5" x2="464.6" y2="622.9"/>
<line class="hl" x1="467.2" y1="727.4" x2="500.6" y2="708.1"/>
<line class="hl" x1="467.2" y1="723.9" x2="500.6" y2="704.6"/>
<line class="hl" x1="467.2" y1="720.3" x2="500.6" y2="701.0"/>
<line class="hl" x1="467.2" y1="716.8" x2="500.6" y2="697.5"/>
<line class="hl" x1="467.2" y1="713.2" x2="500.6" y2="693.9"/>
<line class="hl" x1="467.2" y1="709.7" x2="500.6" y2="690.4"/>
<line class="hl" x1="467.2" y1="706.1" x2="500.6" y2="686.8"/>
<line class="hl" x1="467.2" y1="702.6" x2="500.6" y2="683.2"/>
<line class="hl" x1="467.2" y1="699.0" x2="500.6" y2="679.7"/>
<line class="hl" x1="467.2" y1="695.5" x2="500.6" y2="676.1"/>
<line class="hl" x1="467.2" y1="691.9" x2="500.6" y2="672.6"/>
<line class="hl" x1="467.2" y1="688.4" x2="500.6" y2="669.0"/>
<line class="hl" x1="467.2" y1="684.8" x2="500.6" y2="665.5"/>
<line class="hl" x1="467.2" y1="681.3" x2="500.6" y2="661.9"/>
<line class="hl" x1="467.2" y1="677.7" x2="500.6" y2="658.4"/>
<line class="hl" x1="467.2" y1="674.1" x2="500.6" y2="654.8"/>
<line class="hl" x1="467.2" y1="670.6" x2="500.6" y2="651.3"/>
<line class="hl" x1="467.2" y1="667.0" x2="500.6" y2="647.7"/>
<line class="hl" x1="467.2" y1="663.5" x2="500.6" y2="644.2"/>
<line class="hl" x1="467.2" y1="659.9" x2="500.6" y2="640.6"/>
<line class="hl" x1="467.2" y1="656.4" x2="500.6" y2="637.1"/>
<line class="hl" x1="467.2" y1="652.8" x2="500.6" y2="633.5"/>
<line class="hl" x1="467.2" y1="649.3" x2="500.6" y2="629.9"/>
<line class="hl" x1="467.2" y1="645.7" x2="500.6" y2="626.4"/>
<line class="hl" x1="467.2" y1="642.2" x2="500.6" y2="622.8"/>
<line class="hl" x1="467.2" y1="638.6" x2="500.6" y2="619.3"/>
<line class="hl" x1="467.2" y1="635.1" x2="500.6" y2="615.7"/>
<line class="hl" x1="467.2" y1="631.5" x2="500.6" y2="612.2"/>
<line class="hl" x1="467.2" y1="628.0" x2="500.6" y2="608.6"/>
<line class="hl" x1="470.0" y1="729.4" x2="470.0" y2="622.8"/>
<line class="hl" x1="472.7" y1="727.8" x2="472.7" y2="621.2"/>
<line class="hl" x1="475.5" y1="726.2" x2="475.5" y2="619.6"/>
<line class="hl" x1="478.3" y1="724.6" x2="478.3" y2="618.0"/>
<line class="hl" x1="481.1" y1="722.9" x2="481.1" y2="616.3"/>
<line class="hl" x1="483.9" y1="721.3" x2="483.9" y2="614.7"/>
<line class="hl" x1="486.7" y1="719.7" x2="486.7" y2="613.1"/>
<line class="hl" x1="489.5" y1="718.1" x2="489.5" y2="611.5"/>
<line class="hl" x1="492.3" y1="716.5" x2="492.3" y2="609.9"/>
<line class="hl" x1="495.1" y1="714.9" x2="495.1" y2="608.3"/>
<line class="hl" x1="497.8" y1="713.3" x2="497.8" y2="606.7"/>
<line class="ln" x1="468.6" y1="730.2" x2="468.6" y2="623.6"/>
<polygon class="b" points="486.9,702.9 495.6,707.9 510.7,699.2 502.1,694.2"/>
<polygon class="b" points="495.6,729.9 510.7,721.2 510.7,699.2 495.6,707.9"/>
<polygon class="b" points="486.9,724.9 495.6,729.9 495.6,707.9 486.9,702.9"/>
<line class="h" x1="488.4" y1="725.8" x2="488.4" y2="703.8"/>
<line class="h" x1="489.8" y1="726.6" x2="489.8" y2="704.6"/>
<line class="h" x1="491.2" y1="727.4" x2="491.2" y2="705.4"/>
<line class="h" x1="492.7" y1="728.3" x2="492.7" y2="706.3"/>
<line class="h" x1="494.1" y1="729.1" x2="494.1" y2="707.1"/>
<line class="d" x1="501.2" y1="720.7" x2="515.1" y2="712.7"/>
<line class="d" x1="501.2" y1="712.7" x2="515.1" y2="704.7"/>
<line class="ln" x1="513.3" y1="727.7" x2="513.3" y2="705.7"/>
<polygon class="b" points="552.1,796.2 576.4,810.2 631.0,778.6 606.8,764.6"/>
<polygon class="b" points="576.4,829.8 631.0,798.2 631.0,778.6 576.4,810.2"/>
<polygon class="b" points="552.1,815.8 576.4,829.8 576.4,810.2 552.1,796.2"/>
<polygon class="ln" points="578.2,824.0 578.2,829.0 581.2,827.0 582.2,821.0 585.2,819.0 585.2,813.0"/>
<line class="d" x1="566.2" y1="808.0" x2="606.2" y2="785.0"/>
<line class="ln" x1="566.2" y1="810.0" x2="606.2" y2="787.0"/>
<line class="d" x1="606.2" y1="785.0" x2="606.2" y2="806.0"/>
<line class="ln" x1="616.2" y1="780.0" x2="616.2" y2="800.0"/>
<polygon class="b" style="fill:#e2e2e2" points="604.8,716.0 615.2,722.0 629.9,713.5 619.5,707.5"/>
<polygon class="b" style="fill:#efefef" points="615.2,780.9 629.9,772.4 629.9,713.5 615.2,722.0"/>
<polygon class="b" points="604.8,774.9 615.2,780.9 615.2,722.0 604.8,716.0"/>
<line class="d" x1="615.2" y1="766.2" x2="629.9" y2="757.7"/>
<line class="d" x1="615.2" y1="751.5" x2="629.9" y2="743.0"/>
<line class="d" x1="615.2" y1="736.7" x2="629.9" y2="728.2"/>
<line class="d" x1="622.5" y1="776.6" x2="622.5" y2="717.8"/>
<polygon class="ln" points="616.9,769.5 628.2,763.0 628.2,719.0 616.9,725.5"/>
<line class="h" x1="606.5" y1="717.0" x2="621.2" y2="708.5"/>
<line class="h" x1="608.2" y1="718.0" x2="623.0" y2="709.5"/>
<line class="h" x1="610.0" y1="719.0" x2="624.7" y2="710.5"/>
<line class="h" x1="611.7" y1="720.0" x2="626.4" y2="711.5"/>
<line class="h" x1="613.4" y1="721.0" x2="628.2" y2="712.5"/>
<polygon class="b" style="fill:#e2e2e2" points="586.6,726.5 597.0,732.5 612.6,723.5 602.2,717.5"/>
<polygon class="b" style="fill:#efefef" points="597.0,791.4 612.6,782.4 612.6,723.5 597.0,732.5"/>
<polygon class="b" points="586.6,785.4 597.0,791.4 597.0,732.5 586.6,726.5"/>
<line class="d" x1="597.0" y1="776.7" x2="612.6" y2="767.7"/>
<line class="d" x1="597.0" y1="762.0" x2="612.6" y2="753.0"/>
<line class="d" x1="597.0" y1="747.2" x2="612.6" y2="738.2"/>
<line class="d" x1="604.8" y1="786.9" x2="604.8" y2="728.0"/>
<polygon class="ln" points="598.7,780.0 610.8,773.0 610.8,729.0 598.7,736.0"/>
<line class="h" x1="588.3" y1="727.5" x2="603.9" y2="718.5"/>
<line class="h" x1="590.1" y1="728.5" x2="605.6" y2="719.5"/>
<line class="h" x1="591.8" y1="729.5" x2="607.4" y2="720.5"/>
<line class="h" x1="593.5" y1="730.5" x2="609.1" y2="721.5"/>
<line class="h" x1="595.3" y1="731.5" x2="610.8" y2="722.5"/>
<polygon class="b" style="fill:#e2e2e2" points="564.9,739.0 575.3,745.0 594.4,734.0 584.0,728.0"/>
<polygon class="b" style="fill:#efefef" points="575.3,803.9 594.4,792.9 594.4,734.0 575.3,745.0"/>
<polygon class="b" points="564.9,797.9 575.3,803.9 575.3,745.0 564.9,739.0"/>
<line class="d" x1="575.3" y1="789.2" x2="594.4" y2="778.2"/>
<line class="d" x1="575.3" y1="774.5" x2="594.4" y2="763.5"/>
<line class="d" x1="575.3" y1="759.7" x2="594.4" y2="748.7"/>
<line class="d" x1="584.9" y1="798.4" x2="584.9" y2="739.5"/>
<polygon class="ln" points="577.1,792.5 592.7,783.5 592.7,739.5 577.1,748.5"/>
<line class="h" x1="566.7" y1="740.0" x2="585.7" y2="729.0"/>
<line class="h" x1="568.4" y1="741.0" x2="587.5" y2="730.0"/>
<line class="h" x1="570.1" y1="742.0" x2="589.2" y2="731.0"/>
<line class="h" x1="571.9" y1="743.0" x2="590.9" y2="732.0"/>
<line class="h" x1="573.6" y1="744.0" x2="592.7" y2="733.0"/>
<polygon class="ln" style="fill:#dcdcdc" points="564.9,797.9 575.3,803.9 575.3,775.5 564.9,769.5"/>
<line class="h" x1="566.2" y1="798.6" x2="566.2" y2="770.2"/>
<line class="h" x1="567.5" y1="799.4" x2="567.5" y2="771.0"/>
<line class="h" x1="568.8" y1="800.1" x2="568.8" y2="771.8"/>
<line class="h" x1="570.1" y1="800.9" x2="570.1" y2="772.5"/>
<line class="h" x1="571.4" y1="801.6" x2="571.4" y2="773.2"/>
<line class="h" x1="572.7" y1="802.4" x2="572.7" y2="774.0"/>
<line class="h" x1="574.0" y1="803.1" x2="574.0" y2="774.8"/>
<polygon class="b" points="670.9,863.4 694.2,876.8 739.8,850.4 716.5,837.0"/>
<polygon class="b" points="694.2,901.2 739.8,874.8 739.8,850.4 694.2,876.8"/>
<polygon class="b" style="fill:#fff" points="670.9,887.8 694.2,901.2 694.2,876.8 670.9,863.4"/>
<polygon class="b" style="fill:#ededed" points="713.9,831.6 737.2,846.8 737.2,854.8 713.9,839.6"/>
<line class="h" x1="716.5" y1="833.3" x2="716.5" y2="841.3"/>
<line class="h" x1="719.1" y1="835.0" x2="719.1" y2="843.0"/>
<line class="h" x1="721.7" y1="836.7" x2="721.7" y2="844.7"/>
<line class="h" x1="724.3" y1="838.4" x2="724.3" y2="846.4"/>
<line class="h" x1="726.8" y1="840.0" x2="726.8" y2="848.0"/>
<line class="h" x1="729.4" y1="841.7" x2="729.4" y2="849.7"/>
<line class="h" x1="732.0" y1="843.4" x2="732.0" y2="851.4"/>
<line class="h" x1="734.6" y1="845.1" x2="734.6" y2="853.1"/>
<polygon class="b" points="737.2,846.8 751.1,837.4 751.1,845.4 737.2,854.8"/>
<polygon class="b" points="713.9,831.6 725.5,823.5 751.1,837.4 737.2,846.8"/>
<line class="ln" x1="737.2" y1="851.3" x2="751.1" y2="841.9"/>
<line class="ln" x1="739.5" y1="856.3" x2="739.5" y2="862.3"/>
<line class="ln" x1="746.5" y1="851.3" x2="746.5" y2="857.3"/>
<line class="d" x1="694.2" y1="876.8" x2="739.8" y2="851.8"/>
<line class="ln" x1="696.5" y1="884.3" x2="739.5" y2="859.3"/>
<line class="d" x1="704.5" y1="882.3" x2="704.5" y2="898.3"/>
<polygon class="ln" points="698.5,888.3 698.5,898.3 700.5,896.3 701.5,890.3 703.5,888.3"/>
<line class="d" x1="722.5" y1="876.3" x2="732.5" y2="870.3"/>
<line class="ln" x1="732.5" y1="870.3" x2="732.5" y2="874.3"/>
<polygon class="lt" style="fill:#fff" points="371.0,229.0 373.7,226.0 481.2,262.0 458.0,277.3"/>
<line class="d" x1="371.0" y1="229.0" x2="458.0" y2="277.3"/>
<line class="ln" x1="458.0" y1="277.3" x2="481.2" y2="262.0"/>
<polygon class="d" points="371.0,229.0 458.0,277.3 458.0,280.3 371.0,232.0"/>
<polygon class="b" points="458.0,277.3 481.2,262.0 481.2,265.0 458.0,280.3"/>
<polygon class="b" points="437.0,250.0 452.0,241.0 464.0,248.0 449.0,257.0"/>
<polygon class="b" points="437.0,250.0 449.0,257.0 449.0,267.0 437.0,260.0"/>
<polygon class="b" points="449.0,257.0 464.0,248.0 464.0,258.0 449.0,267.0"/>
<polygon class="b" points="432.0,246.0 447.0,237.0 455.0,241.0 440.0,250.0"/>
<polygon class="lt" points="378.0,191.0 420.0,168.0 452.0,182.0 408.0,207.0"/>
<line class="d" x1="378.9" y1="191.5" x2="407.8" y2="207.2"/>
<line class="d" x1="378.9" y1="199.4" x2="407.8" y2="215.1"/>
<line class="ln" x1="378.9" y1="191.5" x2="378.9" y2="199.4"/>
<line class="ln" x1="407.8" y1="207.2" x2="407.8" y2="215.1"/>
<line class="ln" x1="396.0" y1="198.0" x2="396.0" y2="206.0"/>
<polygon class="lt" points="388.0,188.0 392.0,186.0 392.0,182.0 388.0,184.0"/>
<polygon class="lt" points="396.0,183.0 400.0,181.0 400.0,177.0 396.0,179.0"/>
<polygon class="lt" points="404.0,178.0 408.0,176.0 408.0,172.0 404.0,174.0"/>
<polygon class="lt" points="412.0,173.0 416.0,171.0 416.0,167.0 412.0,169.0"/>
<polygon class="lt" points="398.0,194.0 402.0,192.0 402.0,188.0 398.0,190.0"/>
<polygon class="lt" points="406.0,189.0 410.0,187.0 410.0,183.0 406.0,185.0"/>
<polygon class="lt" points="414.0,184.0 418.0,182.0 418.0,178.0 414.0,180.0"/>
<polygon class="lt" points="422.0,179.0 426.0,177.0 426.0,173.0 422.0,175.0"/>
<polygon class="lt" points="408.0,200.0 412.0,198.0 412.0,194.0 408.0,196.0"/>
<polygon class="lt" points="416.0,195.0 420.0,193.0 420.0,189.0 416.0,191.0"/>
<polygon class="lt" points="424.0,190.0 428.0,188.0 428.0,184.0 424.0,186.0"/>
<polygon class="b" points="420.0,199.0 447.0,181.0 453.0,184.0 426.0,202.0"/>
<polygon class="ln" points="420.0,199.0 426.0,202.0 426.0,208.0 420.0,205.0"/>
<line class="lt" x1="370.3" y1="156.0" x2="370.3" y2="214.0"/>
<line class="lt" x1="399.9" y1="146.0" x2="399.9" y2="204.0"/>
<line class="lt" x1="370.3" y1="214.0" x2="399.9" y2="198.0"/>
<line class="lt" x1="384.0" y1="150.0" x2="384.0" y2="208.0"/>
<polygon class="lt" points="336.8,138.3 360.5,123.1 399.9,145.5 371.0,156.6"/>
<line class="l" x1="336.8" y1="138.3" x2="371.0" y2="156.6"/>
<polygon class="lt" style="fill:#fdfdfd" points="330.3,169.0 354.6,183.0 354.6,232.0 330.3,218.0"/>
<line class="ln" x1="330.3" y1="169.0" x2="330.3" y2="224.3"/>
<line class="l" x1="332.0" y1="168.0" x2="332.0" y2="223.0"/>
<line class="l" x1="330.3" y1="169.0" x2="348.0" y2="161.0"/>
<line class="l" x1="348.0" y1="161.0" x2="377.6" y2="172.0"/>
<line class="l" x1="336.0" y1="175.0" x2="336.0" y2="205.0"/>
<line class="lt" x1="341.0" y1="177.0" x2="341.0" y2="207.0"/>
<line class="l" x1="346.0" y1="180.0" x2="346.0" y2="210.0"/>
<line class="d" x1="332.0" y1="192.8" x2="354.0" y2="200.7"/>
<line class="d" x1="332.0" y1="199.0" x2="354.0" y2="208.0"/>
<line class="d" x1="332.0" y1="213.8" x2="354.0" y2="223.5"/>
<line class="d" x1="332.0" y1="224.0" x2="354.0" y2="233.0"/>
<polygon class="b" points="354.6,183.6 377.6,171.8 377.6,220.4 354.6,232.2"/>
<line class="d" x1="354.6" y1="183.6" x2="354.6" y2="232.2"/>
<line class="ln" x1="377.6" y1="171.8" x2="377.6" y2="220.4"/>
<line class="l" x1="360.0" y1="181.0" x2="360.0" y2="229.0"/>
<line class="ln" x1="366.0" y1="178.0" x2="366.0" y2="226.0"/>
<line class="l" x1="372.0" y1="175.0" x2="372.0" y2="223.0"/>
<line class="ln" x1="363.0" y1="185.0" x2="366.0" y2="198.0"/>
<polygon class="b" points="442.8,108.5 469.7,124.0 469.7,174.0 442.8,158.5"/>
<polygon class="b" style="fill:#d2d2d2" points="469.7,124.0 483.1,116.3 483.1,166.0 469.7,174.0"/>
<polygon class="b" points="442.8,108.5 456.2,100.8 483.1,116.3 469.7,124.0"/>
<polygon class="ln" style="fill:#d8d8d8" points="452.0,110.0 460.0,105.5 476.0,115.0 468.0,119.5"/>
<line class="h" x1="469.7" y1="128.2" x2="483.1" y2="120.5"/>
<line class="h" x1="469.7" y1="132.3" x2="483.1" y2="124.6"/>
<line class="h" x1="469.7" y1="136.5" x2="483.1" y2="128.8"/>
<line class="h" x1="469.7" y1="140.7" x2="483.1" y2="133.0"/>
<line class="h" x1="469.7" y1="144.8" x2="483.1" y2="137.1"/>
<line class="h" x1="469.7" y1="149.0" x2="483.1" y2="141.3"/>
<line class="h" x1="469.7" y1="153.2" x2="483.1" y2="145.5"/>
<line class="h" x1="469.7" y1="157.3" x2="483.1" y2="149.6"/>
<line class="h" x1="469.7" y1="161.5" x2="483.1" y2="153.8"/>
<line class="h" x1="469.7" y1="165.7" x2="483.1" y2="158.0"/>
<line class="h" x1="469.7" y1="169.8" x2="483.1" y2="162.1"/>
<line class="l" x1="448.0" y1="115.0" x2="448.0" y2="163.0"/>
<line class="l" x1="454.0" y1="118.5" x2="454.0" y2="166.5"/>
<line class="l" x1="460.0" y1="121.9" x2="460.0" y2="169.9"/>
<line class="l" x1="464.0" y1="124.2" x2="464.0" y2="172.2"/>
<line class="d" x1="456.0" y1="121.0" x2="456.0" y2="165.0"/>
<line class="ln" x1="485.0" y1="122.0" x2="485.0" y2="160.0"/>
<line class="ln" x1="483.1" y1="128.0" x2="486.0" y2="126.5"/>
<line class="ln" x1="483.1" y1="138.0" x2="486.0" y2="136.5"/>
<line class="ln" x1="483.1" y1="148.0" x2="486.0" y2="146.5"/>
<line class="ln" x1="483.1" y1="158.0" x2="486.0" y2="156.5"/>
<polygon class="lt" style="fill:#fff" points="276.0,279.0 282.0,277.0 368.0,323.0 361.0,329.0"/>
<line class="d" x1="276.0" y1="279.0" x2="361.0" y2="329.0"/>
<polygon class="d" points="276.0,279.0 361.0,329.0 361.0,332.0 276.0,282.0"/>
<polygon class="ln" points="352.9,321.2 364.3,329.8 364.3,333.0 352.9,324.4"/>
<polygon class="b" points="352.9,312.6 364.3,321.2 364.3,329.8 352.9,321.2"/>
<polygon class="b" points="364.3,321.2 387.5,307.5 387.5,316.0 364.3,329.8"/>
<polygon class="b" points="352.9,312.6 372.0,300.0 387.5,307.5 364.3,321.2"/>
<line class="d" x1="366.0" y1="323.0" x2="386.0" y2="311.0"/>
<line class="ln" x1="366.0" y1="327.0" x2="386.0" y2="315.0"/>
<line class="ln" x1="375.0" y1="316.0" x2="375.0" y2="324.0"/>
<line class="d" x1="352.9" y1="312.6" x2="364.3" y2="321.2"/>
<polygon class="b" points="323.6,246.0 345.0,234.0 367.3,247.0 346.0,259.0"/>
<polygon class="b" points="323.6,246.0 346.0,259.0 346.0,269.0 323.6,256.0"/>
<polygon class="lt" points="346.0,259.0 367.3,247.0 367.3,257.0 346.0,269.0"/>
<line class="d" x1="333.0" y1="251.0" x2="333.0" y2="261.0"/>
<line class="d" x1="339.0" y1="255.0" x2="339.0" y2="265.0"/>
<line class="d" x1="346.0" y1="259.0" x2="367.3" y2="247.0"/>
<line class="lt" x1="352.0" y1="265.0" x2="368.0" y2="300.0"/>
<line class="lt" x1="358.0" y1="262.0" x2="372.0" y2="296.0"/>
<polygon class="b" points="302.0,254.0 321.0,242.0 321.0,297.0 302.0,286.0"/>
<polygon class="b" points="286.0,240.0 300.0,232.0 312.0,239.0 298.0,247.0"/>
<line class="d" x1="289.0" y1="238.0" x2="299.0" y2="244.0"/>
<line class="d" x1="292.0" y1="236.5" x2="302.0" y2="242.5"/>
<line class="d" x1="295.0" y1="235.0" x2="305.0" y2="241.0"/>
<line class="d" x1="298.0" y1="233.5" x2="308.0" y2="239.5"/>
<polygon class="b" points="287.0,255.0 300.0,248.0 302.0,251.0 289.0,258.0"/>
<polygon class="ln" points="287.0,262.0 300.0,255.0 302.0,258.0 289.0,265.0"/>
<polygon class="ln" points="287.0,270.0 300.0,263.0 302.0,266.0 289.0,273.0"/>
<line class="lt" x1="285.0" y1="245.0" x2="300.0" y2="232.0"/>
<polygon class="lt" points="243.2,191.5 268.1,177.7 299.9,195.8 271.5,209.5"/>
<line class="d" x1="243.2" y1="191.5" x2="271.5" y2="209.5"/>
<line class="ln" x1="243.2" y1="193.5" x2="271.5" y2="211.5"/>
<line class="d" x1="271.0" y1="211.5" x2="271.0" y2="216.0"/>
<line class="lt" x1="299.9" y1="195.8" x2="299.9" y2="232.0"/>
<line class="lt" x1="271.5" y1="216.0" x2="271.5" y2="240.0"/>
<polygon class="lt" style="fill:#fdfdfd" points="232.0,221.5 256.1,235.3 256.1,284.0 232.0,270.0"/>
<line class="ln" x1="232.0" y1="221.5" x2="232.0" y2="276.0"/>
<line class="l" x1="233.8" y1="220.5" x2="233.8" y2="275.0"/>
<line class="l" x1="232.0" y1="221.5" x2="254.4" y2="208.7"/>
<line class="l" x1="254.4" y1="208.7" x2="281.9" y2="224.1"/>
<line class="l" x1="238.0" y1="224.0" x2="238.0" y2="262.0"/>
<line class="lt" x1="244.0" y1="227.0" x2="244.0" y2="265.0"/>
<line class="l" x1="249.0" y1="230.0" x2="249.0" y2="268.0"/>
<line class="d" x1="233.7" y1="240.4" x2="256.0" y2="252.5"/>
<line class="d" x1="233.7" y1="251.0" x2="256.0" y2="263.0"/>
<line class="d" x1="233.7" y1="264.0" x2="256.0" y2="275.5"/>
<line class="d" x1="233.7" y1="275.0" x2="256.0" y2="287.0"/>
<polygon class="b" points="256.1,235.3 281.9,221.0 281.9,267.0 256.1,281.3"/>
<line class="d" x1="256.1" y1="235.3" x2="256.1" y2="283.0"/>
<line class="ln" x1="281.9" y1="221.0" x2="281.9" y2="267.0"/>
<line class="l" x1="262.0" y1="232.0" x2="262.0" y2="278.0"/>
<line class="ln" x1="268.0" y1="229.0" x2="268.0" y2="275.0"/>
<line class="l" x1="275.0" y1="225.0" x2="275.0" y2="271.0"/>
<line class="ln" x1="262.0" y1="246.0" x2="266.0" y2="262.0"/>
<polygon class="b" points="168.3,325.0 200.0,318.0 294.6,342.0 294.6,369.3 271.2,382.2 170.4,329.2"/>
<line class="lt" x1="168.3" y1="325.0" x2="294.6" y2="369.3"/>
<polygon class="d" points="170.4,329.2 271.2,382.2 271.2,385.0 170.4,332.0"/>
<polygon class="b" points="271.2,382.2 294.6,369.3 294.6,372.1 271.2,385.0"/>
<line class="lt" x1="230.0" y1="350.0" x2="290.0" y2="380.0"/>
<polygon class="b" points="227.7,300.0 256.0,285.0 283.0,299.0 254.5,314.0"/>
<polygon class="b" points="227.7,300.0 254.5,314.0 254.5,326.0 227.7,312.0"/>
<polygon class="lt" points="254.5,314.0 283.0,299.0 283.0,311.0 254.5,326.0"/>
<line class="d" x1="227.7" y1="300.0" x2="254.5" y2="314.0"/>
<line class="d" x1="227.7" y1="312.0" x2="254.5" y2="326.0"/>
<line class="d" x1="236.0" y1="304.5" x2="236.0" y2="316.5"/>
<line class="d" x1="245.0" y1="309.0" x2="245.0" y2="321.0"/>
<line class="ln" x1="224.0" y1="296.0" x2="230.0" y2="299.0"/>
<polygon class="lt" style="fill:#fff" points="169.4,262.0 199.3,246.5 199.3,302.0 169.4,317.5"/>
<line class="l" x1="199.3" y1="246.5" x2="199.3" y2="302.0"/>
<line class="lt" x1="190.0" y1="251.0" x2="190.0" y2="307.0"/>
<polygon class="lt" style="fill:#fff" points="133.0,275.0 161.3,260.0 161.3,301.0 133.0,316.0"/>
<line class="d" x1="133.0" y1="275.0" x2="133.0" y2="316.0"/>
<line class="ln" x1="135.0" y1="274.0" x2="135.0" y2="315.0"/>
<line class="lt" x1="140.0" y1="267.5" x2="140.0" y2="308.5"/>
<line class="lt" x1="146.0" y1="264.5" x2="146.0" y2="305.5"/>
<line class="lt" x1="152.0" y1="261.5" x2="152.0" y2="302.5"/>
<line class="lt" x1="157.0" y1="259.0" x2="157.0" y2="300.0"/>
<line class="lt" x1="137.0" y1="285.0" x2="160.0" y2="273.0"/>
<line class="lt" x1="137.0" y1="293.0" x2="160.0" y2="281.0"/>
<line class="lt" x1="137.0" y1="301.0" x2="160.0" y2="289.0"/>
<line class="d" x1="146.0" y1="298.0" x2="158.0" y2="305.0"/>
<line class="d" x1="146.0" y1="306.0" x2="158.0" y2="313.0"/>
<polygon class="b" points="159.7,290.0 184.8,274.7 184.8,314.0 159.7,328.0"/>
<line class="ln" x1="159.7" y1="290.0" x2="159.7" y2="328.0"/>
<line class="ln" x1="184.8" y1="274.7" x2="184.8" y2="314.0"/>
<line class="l" x1="165.0" y1="287.0" x2="165.0" y2="326.0"/>
<line class="lt" x1="172.0" y1="283.0" x2="172.0" y2="322.0"/>
<line class="l" x1="179.0" y1="279.0" x2="179.0" y2="318.0"/>
<line class="d" x1="182.0" y1="300.0" x2="182.0" y2="310.0"/>
<line class="d" x1="141.2" y1="279.0" x2="141.2" y2="337.0"/>
<line class="l" x1="142.8" y1="278.0" x2="142.8" y2="336.0"/>
<line class="l" x1="169.4" y1="262.0" x2="169.4" y2="318.0"/>
<polygon class="lt" points="186.0,289.0 190.0,287.0 190.0,276.0 188.0,274.0 186.0,276.0"/>
<polygon class="lt" points="192.0,292.2 196.0,290.2 196.0,279.2 194.0,277.2 192.0,279.2"/>
<polygon class="lt" points="198.0,295.4 202.0,293.4 202.0,282.4 200.0,280.4 198.0,282.4"/>
<polygon class="lt" points="204.0,298.6 208.0,296.6 208.0,285.6 206.0,283.6 204.0,285.6"/>
<polygon class="lt" points="210.0,301.8 214.0,299.8 214.0,288.8 212.0,286.8 210.0,288.8"/>
<polygon class="lt" points="216.0,305.0 220.0,303.0 220.0,292.0 218.0,290.0 216.0,292.0"/>
<line class="d" x1="184.8" y1="301.4" x2="215.5" y2="316.0"/>
<line class="ln" x1="184.8" y1="304.0" x2="215.5" y2="318.6"/>
<path class="ln" d="M293,340 L279,348 Q274,352 279,355 L293,347"/>
<path class="ln" d="M293,358 L270,371 Q266,376 272,378 L293,366"/>
<line class="d" x1="270.0" y1="374.0" x2="293.0" y2="361.0"/>
<polygon class="lt" style="fill:#fff" points="69.6,380.0 72.0,378.0 201.2,424.7 176.8,439.6"/>
<line class="d" x1="69.6" y1="380.0" x2="176.8" y2="439.6"/>
<polygon class="d" points="69.6,380.0 176.8,439.6 176.8,442.5 69.6,383.0"/>
<polygon class="b" points="176.8,439.6 201.2,424.7 201.2,427.5 176.8,442.5"/>
<line class="d" x1="69.6" y1="308.0" x2="69.6" y2="380.0"/>
<line class="l" x1="71.5" y1="307.0" x2="71.5" y2="378.0"/>
<line class="ln" x1="69.6" y1="308.0" x2="99.3" y2="296.0"/>
<line class="ln" x1="71.5" y1="318.0" x2="120.0" y2="340.0"/>
<line class="d" x1="71.5" y1="344.0" x2="112.0" y2="366.0"/>
<line class="ln" x1="71.5" y1="347.0" x2="110.0" y2="368.0"/>
<line class="lt" x1="80.0" y1="390.0" x2="110.0" y2="372.0"/>
<polygon class="b" points="79.7,313.0 109.7,299.0 109.7,314.0 83.7,327.0 79.7,328.0"/>
<line class="d" x1="79.7" y1="313.0" x2="79.7" y2="328.0"/>
<line class="ln" x1="83.7" y1="311.0" x2="83.7" y2="327.0"/>
<line class="d" x1="79.7" y1="328.0" x2="83.7" y2="327.0"/>
<line class="ln" x1="83.7" y1="327.0" x2="109.7" y2="314.0"/>
<line class="ln" x1="79.7" y1="313.0" x2="109.7" y2="299.0"/>
<polygon class="b" points="86.2,315.5 116.2,301.5 116.2,316.5 90.2,329.5 86.2,330.5"/>
<line class="d" x1="86.2" y1="315.5" x2="86.2" y2="330.5"/>
<line class="ln" x1="90.2" y1="313.5" x2="90.2" y2="329.5"/>
<line class="d" x1="86.2" y1="330.5" x2="90.2" y2="329.5"/>
<line class="ln" x1="90.2" y1="329.5" x2="116.2" y2="316.5"/>
<line class="ln" x1="86.2" y1="315.5" x2="116.2" y2="301.5"/>
<polygon class="b" points="92.7,318.0 122.7,304.0 122.7,319.0 96.7,332.0 92.7,333.0"/>
<line class="d" x1="92.7" y1="318.0" x2="92.7" y2="333.0"/>
<line class="ln" x1="96.7" y1="316.0" x2="96.7" y2="332.0"/>
<line class="d" x1="92.7" y1="333.0" x2="96.7" y2="332.0"/>
<line class="ln" x1="96.7" y1="332.0" x2="122.7" y2="319.0"/>
<line class="ln" x1="92.7" y1="318.0" x2="122.7" y2="304.0"/>
<line class="lt" x1="95.0" y1="326.0" x2="95.0" y2="350.0"/>
<line class="lt" x1="100.0" y1="326.0" x2="100.0" y2="350.0"/>
<line class="lt" x1="105.0" y1="326.0" x2="105.0" y2="350.0"/>
<line class="lt" x1="110.0" y1="326.0" x2="110.0" y2="350.0"/>
<line class="lt" x1="115.0" y1="326.0" x2="115.0" y2="350.0"/>
<polygon class="b" points="104.0,377.0 131.0,330.0 166.0,346.0 139.0,405.0"/>
<polygon class="ln" points="139.0,405.0 166.0,346.0 170.0,348.0 143.0,407.0"/>
<line class="d" x1="123.0" y1="350.0" x2="131.0" y2="356.0"/>
<line class="lt" x1="138.0" y1="400.0" x2="163.0" y2="350.0"/>
<line class="ln" x1="140.0" y1="335.0" x2="140.0" y2="360.0"/>
<polygon class="b" points="158.7,352.0 178.0,342.0 191.6,350.0 172.0,360.0"/>
<polygon class="b" points="158.7,352.0 172.0,360.0 172.0,380.0 158.7,372.0"/>
<polygon class="b" points="172.0,360.0 191.6,350.0 191.6,370.0 172.0,380.0"/>
<line class="d" x1="160.0" y1="366.0" x2="170.0" y2="372.0"/>
<line class="d" x1="162.0" y1="356.0" x2="162.0" y2="370.0"/>
<line class="l" x1="180.0" y1="358.0" x2="180.0" y2="376.0"/>
<text class="lb" x="453.0" y="230.0">A/B/E/F</text>
<text class="lb" x="358.0" y="285.0">A/B/E</text>
<text class="lb" x="265.0" y="337.0">A/B/E</text>
<text class="lb" x="172.0" y="392.0">A/B/E</text>
<text class="lb" x="572.0" y="299.0">A/B/C/D/F</text>
<text class="lb" x="478.0" y="352.0">A/B/C/D</text>
<text class="lb" x="385.0" y="407.0">A/B/C/D</text>
<text class="lb" x="290.0" y="461.0">A/B/C/D</text>
<text class="lb" x="690.0" y="367.0">B/C/D</text>
<text class="lb" x="596.0" y="421.0">B/C/D</text>
<text class="lb" x="502.5" y="474.5">B/C/D</text>
<text class="lb" x="409.0" y="528.5">B/C/D</text>
<text class="lb" x="526.5" y="597.0">B/C/D</text>
<text class="lb" x="644.0" y="664.5">B/C/D</text>
<text class="lb" x="762.5" y="732.5">B/C/D/F</text>
<text class="lb" x="880.0" y="801.0">B/C/D</text>
<text class="lb" x="807.5" y="433.5">B/C/D/E/F</text>
<text class="lb" x="925.0" y="503.0">B/C/D/E</text>
<text class="lb" x="1042.5" y="570.5">B/C/D/E/F</text>
<text class="lb" x="1161.0" y="638.5">B/C/D</text>
<text class="lb" x="950.0" y="624.5">B/C/D</text>
<text class="lb" x="855.0" y="678.5">B/C/D/F</text>
<text class="lb" x="1067.5" y="692.0">B/C/D/E</text>
<text class="lb" x="972.5" y="746.0">B/C/D/S</text>
<text class="lb" x="105.0" y="568.0">B/C/D/F</text>
<text class="lb" x="221.5" y="636.0">B/C/D</text>
<text class="lb" x="340.0" y="704.0">B/C/D/E</text>
<text class="lb" x="457.5" y="772.0">B/C/D/E</text>
<text class="lb" x="575.0" y="840.0">B/C/D/F</text>
<text class="lb" x="692.0" y="909.0">B/C</text>
<text class="lb" x="728.5" y="208.5">A/B/C/E</text>
<text class="lb" x="846.5" y="276.0">B/E</text>
<text class="lb" x="963.5" y="343.0">B/C</text>
<text class="lb" x="1081.5" y="412.0">B/C</text>
<text class="lb" x="1199.0" y="480.0">B/C</text>
<text class="lb" x="1317.5" y="547.5">B/C</text>
<text class="lb" x="1334.0" y="737.5">B/C</text>
<text class="lb" x="1240.0" y="791.5">B/C</text>
<text class="lb" x="1146.5" y="846.0">B/C</text>
<text class="lb" x="1052.5" y="900.0">B/C</text>
</svg>
<div class="rule" style="left:33px;top:865.5px;width:127px"></div>
<div class="t" style="left:33.0px;top:869.2px;font-size:5.10px">Grid &amp; Granularity</div>
<div class="t" style="left:33.0px;top:885.8px;font-size:5.35px;word-spacing:0.89px">To facilitate the programmatic complexity of the scheme</div>
<div class="t" style="left:33.0px;top:893.9px;font-size:5.35px;word-spacing:1.66px">and its translation into formal relationships that span</div>
<div class="t" style="left:33.0px;top:902.3px;font-size:5.35px;word-spacing:4.17px">horizontally and vertically, voids, courtyards and</div>
<div class="t" style="left:33.0px;top:910.4px;font-size:5.35px;word-spacing:2.41px">containing ‘buildings within building’ are utilised to</div>
<div class="t" style="left:33.0px;top:918.6px;font-size:5.35px;word-spacing:2.09px">continuing breaking apart the solid continuity of the</div>
<div class="t" style="left:33.0px;top:926.9px;font-size:5.35px;word-spacing:1.13px">original design. Through the creation of inconsistencies</div>
<div class="t" style="left:33.0px;top:935.1px;font-size:5.35px;transform-origin:0 0;transform:scaleX(0.9999)">within the dominant grid, a unified field can be established</div>
<div class="t" style="left:33.0px;top:943.4px;font-size:5.35px;word-spacing:1.75px">whilst articulated into a series of vertical layers that</div>
<div class="t" style="left:33.0px;top:951.6px;font-size:5.35px;word-spacing:0.19px">describe the autonomy of individual pieces across the site.</div>
<div class="t" style="left:171.0px;top:885.5px;font-size:5.30px;word-spacing:0.06px">The creation of a representational space can be maintained</div>
<div class="t" style="left:171.0px;top:893.7px;font-size:5.30px;transform-origin:0 0;transform:scaleX(0.9953)">in its manifestations across these varying directions, linking</div>
<div class="t" style="left:171.0px;top:901.9px;font-size:5.30px;transform-origin:0 0;transform:scaleX(0.9836)">the spontaneity and flux of the highest room to the stasis and</div>
<div class="t" style="left:171.0px;top:910.2px;font-size:5.30px;word-spacing:0.66px">decay of the lowest. Vertical lift shafts pierce through the</div>
<div class="t" style="left:171.0px;top:918.4px;font-size:5.30px;word-spacing:0.91px">sediments of program to reinforce this intended purpose,</div>
<div class="t" style="left:171.0px;top:926.7px;font-size:5.30px;word-spacing:0.09px">pointing the incongruity of the final scheme into a coherent</div>
<div class="t" style="left:171.0px;top:934.9px;font-size:5.30px;word-spacing:1.96px">and purposeful segment. An intensity of program and</div>
<div class="t" style="left:171.0px;top:943.2px;font-size:5.30px;word-spacing:0.55px">activity can therefore be created as a vertical, opposed to</div>
<div class="t" style="left:171.0px;top:951.4px;font-size:5.30px">a more commonly horizontal, phenomenon of architecture.</div>
<div class="rule" style="left:1257px;top:866px;width:113px"></div>
<div class="t" style="left:1257.0px;top:869.3px;font-size:5.25px">Networks</div>
<div class="t" style="left:1257.0px;top:886.1px;font-size:5.30px">A - Decay</div>
<div class="t" style="left:1257.0px;top:894.4px;font-size:5.30px">B - Stasis</div>
<div class="t" style="left:1257.0px;top:902.7px;font-size:5.30px">C - Preservation</div>
<div class="t" style="left:1257.0px;top:910.8px;font-size:5.30px">D - Auction</div>
<div class="t" style="left:1257.0px;top:919.1px;font-size:5.30px">E - Archive</div>
<div class="t" style="left:1257.0px;top:927.3px;font-size:5.30px">F - Reliquary</div>
</body></html>
